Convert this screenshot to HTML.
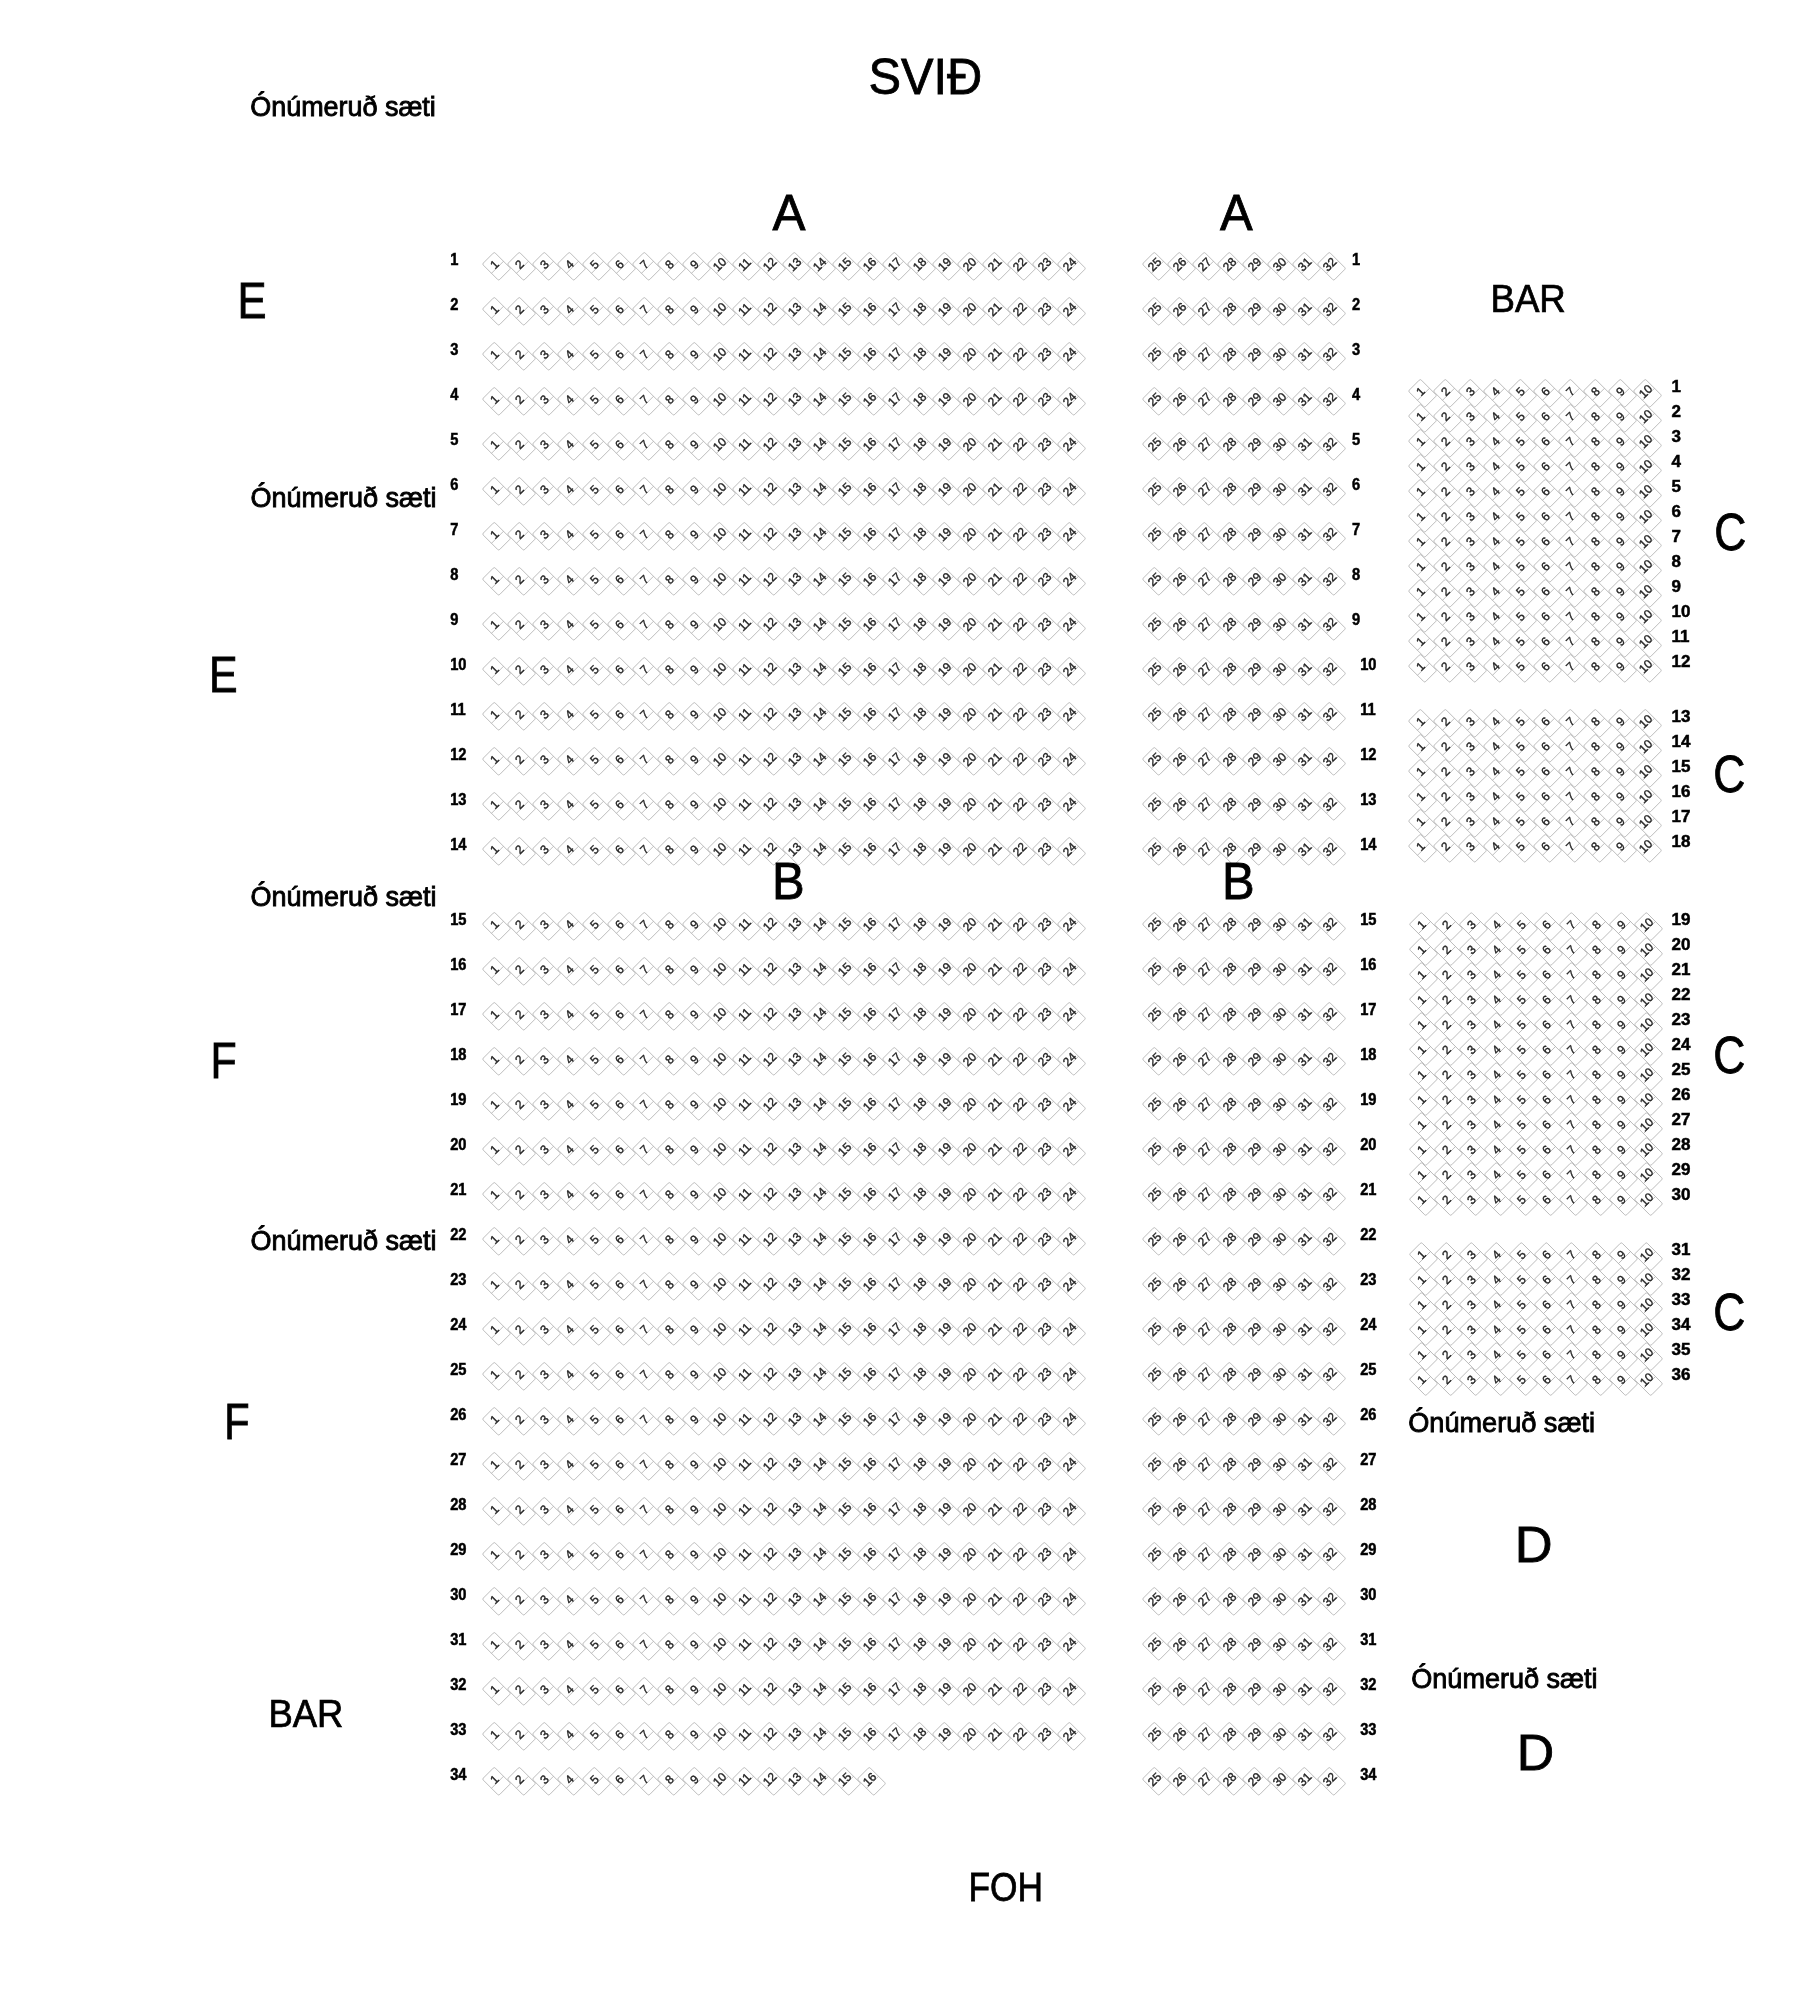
<!DOCTYPE html><html><head><meta charset="utf-8"><style>html,body{margin:0;padding:0;background:#fff;width:1820px;height:1990px;overflow:hidden}svg{position:absolute;left:0;top:0;filter:grayscale(1)}text{font-family:"Liberation Sans",sans-serif}.n{font-size:12px;fill:#222;text-anchor:middle;stroke:#222;stroke-width:0.35px}.rl{font-size:15.8px;font-weight:bold;fill:#000;stroke:#000;stroke-width:0.5px}.rc{font-size:17px;font-weight:bold;fill:#000;stroke:#000;stroke-width:0.5px}.big{font-size:49px;fill:#000;stroke:#000;stroke-width:0.8px}.bar{font-size:37px;fill:#000;stroke:#000;stroke-width:0.7px}.on{font-size:24.5px;fill:#000;stroke:#000;stroke-width:0.8px}</style></head><body>
<svg width="1820" height="1990" viewBox="0 0 1820 1990">
<defs><g id="s" transform="rotate(-45)"><rect x="-8.5" y="-11.6" width="17" height="23.2" rx="1.5" fill="#fff" stroke="#b0b0b0" stroke-width="0.8"/><line x1="-8.5" y1="1.4" x2="8.5" y2="1.4" stroke="#b0b0b0" stroke-width="0.8"/></g></defs>
<use href="#s" x="496.5" y="266.3"/><text class="n" transform="translate(496.5 266.3) rotate(-45)" x="-0.1" y="1.35">1</text><use href="#s" x="521.5" y="266.3"/><text class="n" transform="translate(521.5 266.3) rotate(-45)" x="-0.1" y="1.35">2</text><use href="#s" x="546.5" y="266.3"/><text class="n" transform="translate(546.5 266.3) rotate(-45)" x="-0.1" y="1.35">3</text><use href="#s" x="571.5" y="266.3"/><text class="n" transform="translate(571.5 266.3) rotate(-45)" x="-0.1" y="1.35">4</text><use href="#s" x="596.5" y="266.3"/><text class="n" transform="translate(596.5 266.3) rotate(-45)" x="-0.1" y="1.35">5</text><use href="#s" x="621.5" y="266.3"/><text class="n" transform="translate(621.5 266.3) rotate(-45)" x="-0.1" y="1.35">6</text><use href="#s" x="646.5" y="266.3"/><text class="n" transform="translate(646.5 266.3) rotate(-45)" x="-0.1" y="1.35">7</text><use href="#s" x="671.5" y="266.3"/><text class="n" transform="translate(671.5 266.3) rotate(-45)" x="-0.1" y="1.35">8</text><use href="#s" x="696.5" y="266.3"/><text class="n" transform="translate(696.5 266.3) rotate(-45)" x="-0.1" y="1.35">9</text><use href="#s" x="721.5" y="266.3"/><text class="n" transform="translate(721.5 266.3) rotate(-45)" x="-0.1" y="1.35">10</text><use href="#s" x="746.5" y="266.3"/><text class="n" transform="translate(746.5 266.3) rotate(-45)" x="-0.1" y="1.35">11</text><use href="#s" x="771.5" y="266.3"/><text class="n" transform="translate(771.5 266.3) rotate(-45)" x="-0.1" y="1.35">12</text><use href="#s" x="796.5" y="266.3"/><text class="n" transform="translate(796.5 266.3) rotate(-45)" x="-0.1" y="1.35">13</text><use href="#s" x="821.5" y="266.3"/><text class="n" transform="translate(821.5 266.3) rotate(-45)" x="-0.1" y="1.35">14</text><use href="#s" x="846.5" y="266.3"/><text class="n" transform="translate(846.5 266.3) rotate(-45)" x="-0.1" y="1.35">15</text><use href="#s" x="871.5" y="266.3"/><text class="n" transform="translate(871.5 266.3) rotate(-45)" x="-0.1" y="1.35">16</text><use href="#s" x="896.5" y="266.3"/><text class="n" transform="translate(896.5 266.3) rotate(-45)" x="-0.1" y="1.35">17</text><use href="#s" x="921.5" y="266.3"/><text class="n" transform="translate(921.5 266.3) rotate(-45)" x="-0.1" y="1.35">18</text><use href="#s" x="946.5" y="266.3"/><text class="n" transform="translate(946.5 266.3) rotate(-45)" x="-0.1" y="1.35">19</text><use href="#s" x="971.5" y="266.3"/><text class="n" transform="translate(971.5 266.3) rotate(-45)" x="-0.1" y="1.35">20</text><use href="#s" x="996.5" y="266.3"/><text class="n" transform="translate(996.5 266.3) rotate(-45)" x="-0.1" y="1.35">21</text><use href="#s" x="1021.5" y="266.3"/><text class="n" transform="translate(1021.5 266.3) rotate(-45)" x="-0.1" y="1.35">22</text><use href="#s" x="1046.5" y="266.3"/><text class="n" transform="translate(1046.5 266.3) rotate(-45)" x="-0.1" y="1.35">23</text><use href="#s" x="1071.5" y="266.3"/><text class="n" transform="translate(1071.5 266.3) rotate(-45)" x="-0.1" y="1.35">24</text><use href="#s" x="1156.5" y="266.3"/><text class="n" transform="translate(1156.5 266.3) rotate(-45)" x="-0.1" y="1.35">25</text><use href="#s" x="1181.5" y="266.3"/><text class="n" transform="translate(1181.5 266.3) rotate(-45)" x="-0.1" y="1.35">26</text><use href="#s" x="1206.5" y="266.3"/><text class="n" transform="translate(1206.5 266.3) rotate(-45)" x="-0.1" y="1.35">27</text><use href="#s" x="1231.5" y="266.3"/><text class="n" transform="translate(1231.5 266.3) rotate(-45)" x="-0.1" y="1.35">28</text><use href="#s" x="1256.5" y="266.3"/><text class="n" transform="translate(1256.5 266.3) rotate(-45)" x="-0.1" y="1.35">29</text><use href="#s" x="1281.5" y="266.3"/><text class="n" transform="translate(1281.5 266.3) rotate(-45)" x="-0.1" y="1.35">30</text><use href="#s" x="1306.5" y="266.3"/><text class="n" transform="translate(1306.5 266.3) rotate(-45)" x="-0.1" y="1.35">31</text><use href="#s" x="1331.5" y="266.3"/><text class="n" transform="translate(1331.5 266.3) rotate(-45)" x="-0.1" y="1.35">32</text>
<use href="#s" x="496.5" y="311.3"/><text class="n" transform="translate(496.5 311.3) rotate(-45)" x="-0.1" y="1.35">1</text><use href="#s" x="521.5" y="311.3"/><text class="n" transform="translate(521.5 311.3) rotate(-45)" x="-0.1" y="1.35">2</text><use href="#s" x="546.5" y="311.3"/><text class="n" transform="translate(546.5 311.3) rotate(-45)" x="-0.1" y="1.35">3</text><use href="#s" x="571.5" y="311.3"/><text class="n" transform="translate(571.5 311.3) rotate(-45)" x="-0.1" y="1.35">4</text><use href="#s" x="596.5" y="311.3"/><text class="n" transform="translate(596.5 311.3) rotate(-45)" x="-0.1" y="1.35">5</text><use href="#s" x="621.5" y="311.3"/><text class="n" transform="translate(621.5 311.3) rotate(-45)" x="-0.1" y="1.35">6</text><use href="#s" x="646.5" y="311.3"/><text class="n" transform="translate(646.5 311.3) rotate(-45)" x="-0.1" y="1.35">7</text><use href="#s" x="671.5" y="311.3"/><text class="n" transform="translate(671.5 311.3) rotate(-45)" x="-0.1" y="1.35">8</text><use href="#s" x="696.5" y="311.3"/><text class="n" transform="translate(696.5 311.3) rotate(-45)" x="-0.1" y="1.35">9</text><use href="#s" x="721.5" y="311.3"/><text class="n" transform="translate(721.5 311.3) rotate(-45)" x="-0.1" y="1.35">10</text><use href="#s" x="746.5" y="311.3"/><text class="n" transform="translate(746.5 311.3) rotate(-45)" x="-0.1" y="1.35">11</text><use href="#s" x="771.5" y="311.3"/><text class="n" transform="translate(771.5 311.3) rotate(-45)" x="-0.1" y="1.35">12</text><use href="#s" x="796.5" y="311.3"/><text class="n" transform="translate(796.5 311.3) rotate(-45)" x="-0.1" y="1.35">13</text><use href="#s" x="821.5" y="311.3"/><text class="n" transform="translate(821.5 311.3) rotate(-45)" x="-0.1" y="1.35">14</text><use href="#s" x="846.5" y="311.3"/><text class="n" transform="translate(846.5 311.3) rotate(-45)" x="-0.1" y="1.35">15</text><use href="#s" x="871.5" y="311.3"/><text class="n" transform="translate(871.5 311.3) rotate(-45)" x="-0.1" y="1.35">16</text><use href="#s" x="896.5" y="311.3"/><text class="n" transform="translate(896.5 311.3) rotate(-45)" x="-0.1" y="1.35">17</text><use href="#s" x="921.5" y="311.3"/><text class="n" transform="translate(921.5 311.3) rotate(-45)" x="-0.1" y="1.35">18</text><use href="#s" x="946.5" y="311.3"/><text class="n" transform="translate(946.5 311.3) rotate(-45)" x="-0.1" y="1.35">19</text><use href="#s" x="971.5" y="311.3"/><text class="n" transform="translate(971.5 311.3) rotate(-45)" x="-0.1" y="1.35">20</text><use href="#s" x="996.5" y="311.3"/><text class="n" transform="translate(996.5 311.3) rotate(-45)" x="-0.1" y="1.35">21</text><use href="#s" x="1021.5" y="311.3"/><text class="n" transform="translate(1021.5 311.3) rotate(-45)" x="-0.1" y="1.35">22</text><use href="#s" x="1046.5" y="311.3"/><text class="n" transform="translate(1046.5 311.3) rotate(-45)" x="-0.1" y="1.35">23</text><use href="#s" x="1071.5" y="311.3"/><text class="n" transform="translate(1071.5 311.3) rotate(-45)" x="-0.1" y="1.35">24</text><use href="#s" x="1156.5" y="311.3"/><text class="n" transform="translate(1156.5 311.3) rotate(-45)" x="-0.1" y="1.35">25</text><use href="#s" x="1181.5" y="311.3"/><text class="n" transform="translate(1181.5 311.3) rotate(-45)" x="-0.1" y="1.35">26</text><use href="#s" x="1206.5" y="311.3"/><text class="n" transform="translate(1206.5 311.3) rotate(-45)" x="-0.1" y="1.35">27</text><use href="#s" x="1231.5" y="311.3"/><text class="n" transform="translate(1231.5 311.3) rotate(-45)" x="-0.1" y="1.35">28</text><use href="#s" x="1256.5" y="311.3"/><text class="n" transform="translate(1256.5 311.3) rotate(-45)" x="-0.1" y="1.35">29</text><use href="#s" x="1281.5" y="311.3"/><text class="n" transform="translate(1281.5 311.3) rotate(-45)" x="-0.1" y="1.35">30</text><use href="#s" x="1306.5" y="311.3"/><text class="n" transform="translate(1306.5 311.3) rotate(-45)" x="-0.1" y="1.35">31</text><use href="#s" x="1331.5" y="311.3"/><text class="n" transform="translate(1331.5 311.3) rotate(-45)" x="-0.1" y="1.35">32</text>
<use href="#s" x="496.5" y="356.3"/><text class="n" transform="translate(496.5 356.3) rotate(-45)" x="-0.1" y="1.35">1</text><use href="#s" x="521.5" y="356.3"/><text class="n" transform="translate(521.5 356.3) rotate(-45)" x="-0.1" y="1.35">2</text><use href="#s" x="546.5" y="356.3"/><text class="n" transform="translate(546.5 356.3) rotate(-45)" x="-0.1" y="1.35">3</text><use href="#s" x="571.5" y="356.3"/><text class="n" transform="translate(571.5 356.3) rotate(-45)" x="-0.1" y="1.35">4</text><use href="#s" x="596.5" y="356.3"/><text class="n" transform="translate(596.5 356.3) rotate(-45)" x="-0.1" y="1.35">5</text><use href="#s" x="621.5" y="356.3"/><text class="n" transform="translate(621.5 356.3) rotate(-45)" x="-0.1" y="1.35">6</text><use href="#s" x="646.5" y="356.3"/><text class="n" transform="translate(646.5 356.3) rotate(-45)" x="-0.1" y="1.35">7</text><use href="#s" x="671.5" y="356.3"/><text class="n" transform="translate(671.5 356.3) rotate(-45)" x="-0.1" y="1.35">8</text><use href="#s" x="696.5" y="356.3"/><text class="n" transform="translate(696.5 356.3) rotate(-45)" x="-0.1" y="1.35">9</text><use href="#s" x="721.5" y="356.3"/><text class="n" transform="translate(721.5 356.3) rotate(-45)" x="-0.1" y="1.35">10</text><use href="#s" x="746.5" y="356.3"/><text class="n" transform="translate(746.5 356.3) rotate(-45)" x="-0.1" y="1.35">11</text><use href="#s" x="771.5" y="356.3"/><text class="n" transform="translate(771.5 356.3) rotate(-45)" x="-0.1" y="1.35">12</text><use href="#s" x="796.5" y="356.3"/><text class="n" transform="translate(796.5 356.3) rotate(-45)" x="-0.1" y="1.35">13</text><use href="#s" x="821.5" y="356.3"/><text class="n" transform="translate(821.5 356.3) rotate(-45)" x="-0.1" y="1.35">14</text><use href="#s" x="846.5" y="356.3"/><text class="n" transform="translate(846.5 356.3) rotate(-45)" x="-0.1" y="1.35">15</text><use href="#s" x="871.5" y="356.3"/><text class="n" transform="translate(871.5 356.3) rotate(-45)" x="-0.1" y="1.35">16</text><use href="#s" x="896.5" y="356.3"/><text class="n" transform="translate(896.5 356.3) rotate(-45)" x="-0.1" y="1.35">17</text><use href="#s" x="921.5" y="356.3"/><text class="n" transform="translate(921.5 356.3) rotate(-45)" x="-0.1" y="1.35">18</text><use href="#s" x="946.5" y="356.3"/><text class="n" transform="translate(946.5 356.3) rotate(-45)" x="-0.1" y="1.35">19</text><use href="#s" x="971.5" y="356.3"/><text class="n" transform="translate(971.5 356.3) rotate(-45)" x="-0.1" y="1.35">20</text><use href="#s" x="996.5" y="356.3"/><text class="n" transform="translate(996.5 356.3) rotate(-45)" x="-0.1" y="1.35">21</text><use href="#s" x="1021.5" y="356.3"/><text class="n" transform="translate(1021.5 356.3) rotate(-45)" x="-0.1" y="1.35">22</text><use href="#s" x="1046.5" y="356.3"/><text class="n" transform="translate(1046.5 356.3) rotate(-45)" x="-0.1" y="1.35">23</text><use href="#s" x="1071.5" y="356.3"/><text class="n" transform="translate(1071.5 356.3) rotate(-45)" x="-0.1" y="1.35">24</text><use href="#s" x="1156.5" y="356.3"/><text class="n" transform="translate(1156.5 356.3) rotate(-45)" x="-0.1" y="1.35">25</text><use href="#s" x="1181.5" y="356.3"/><text class="n" transform="translate(1181.5 356.3) rotate(-45)" x="-0.1" y="1.35">26</text><use href="#s" x="1206.5" y="356.3"/><text class="n" transform="translate(1206.5 356.3) rotate(-45)" x="-0.1" y="1.35">27</text><use href="#s" x="1231.5" y="356.3"/><text class="n" transform="translate(1231.5 356.3) rotate(-45)" x="-0.1" y="1.35">28</text><use href="#s" x="1256.5" y="356.3"/><text class="n" transform="translate(1256.5 356.3) rotate(-45)" x="-0.1" y="1.35">29</text><use href="#s" x="1281.5" y="356.3"/><text class="n" transform="translate(1281.5 356.3) rotate(-45)" x="-0.1" y="1.35">30</text><use href="#s" x="1306.5" y="356.3"/><text class="n" transform="translate(1306.5 356.3) rotate(-45)" x="-0.1" y="1.35">31</text><use href="#s" x="1331.5" y="356.3"/><text class="n" transform="translate(1331.5 356.3) rotate(-45)" x="-0.1" y="1.35">32</text>
<use href="#s" x="496.5" y="401.3"/><text class="n" transform="translate(496.5 401.3) rotate(-45)" x="-0.1" y="1.35">1</text><use href="#s" x="521.5" y="401.3"/><text class="n" transform="translate(521.5 401.3) rotate(-45)" x="-0.1" y="1.35">2</text><use href="#s" x="546.5" y="401.3"/><text class="n" transform="translate(546.5 401.3) rotate(-45)" x="-0.1" y="1.35">3</text><use href="#s" x="571.5" y="401.3"/><text class="n" transform="translate(571.5 401.3) rotate(-45)" x="-0.1" y="1.35">4</text><use href="#s" x="596.5" y="401.3"/><text class="n" transform="translate(596.5 401.3) rotate(-45)" x="-0.1" y="1.35">5</text><use href="#s" x="621.5" y="401.3"/><text class="n" transform="translate(621.5 401.3) rotate(-45)" x="-0.1" y="1.35">6</text><use href="#s" x="646.5" y="401.3"/><text class="n" transform="translate(646.5 401.3) rotate(-45)" x="-0.1" y="1.35">7</text><use href="#s" x="671.5" y="401.3"/><text class="n" transform="translate(671.5 401.3) rotate(-45)" x="-0.1" y="1.35">8</text><use href="#s" x="696.5" y="401.3"/><text class="n" transform="translate(696.5 401.3) rotate(-45)" x="-0.1" y="1.35">9</text><use href="#s" x="721.5" y="401.3"/><text class="n" transform="translate(721.5 401.3) rotate(-45)" x="-0.1" y="1.35">10</text><use href="#s" x="746.5" y="401.3"/><text class="n" transform="translate(746.5 401.3) rotate(-45)" x="-0.1" y="1.35">11</text><use href="#s" x="771.5" y="401.3"/><text class="n" transform="translate(771.5 401.3) rotate(-45)" x="-0.1" y="1.35">12</text><use href="#s" x="796.5" y="401.3"/><text class="n" transform="translate(796.5 401.3) rotate(-45)" x="-0.1" y="1.35">13</text><use href="#s" x="821.5" y="401.3"/><text class="n" transform="translate(821.5 401.3) rotate(-45)" x="-0.1" y="1.35">14</text><use href="#s" x="846.5" y="401.3"/><text class="n" transform="translate(846.5 401.3) rotate(-45)" x="-0.1" y="1.35">15</text><use href="#s" x="871.5" y="401.3"/><text class="n" transform="translate(871.5 401.3) rotate(-45)" x="-0.1" y="1.35">16</text><use href="#s" x="896.5" y="401.3"/><text class="n" transform="translate(896.5 401.3) rotate(-45)" x="-0.1" y="1.35">17</text><use href="#s" x="921.5" y="401.3"/><text class="n" transform="translate(921.5 401.3) rotate(-45)" x="-0.1" y="1.35">18</text><use href="#s" x="946.5" y="401.3"/><text class="n" transform="translate(946.5 401.3) rotate(-45)" x="-0.1" y="1.35">19</text><use href="#s" x="971.5" y="401.3"/><text class="n" transform="translate(971.5 401.3) rotate(-45)" x="-0.1" y="1.35">20</text><use href="#s" x="996.5" y="401.3"/><text class="n" transform="translate(996.5 401.3) rotate(-45)" x="-0.1" y="1.35">21</text><use href="#s" x="1021.5" y="401.3"/><text class="n" transform="translate(1021.5 401.3) rotate(-45)" x="-0.1" y="1.35">22</text><use href="#s" x="1046.5" y="401.3"/><text class="n" transform="translate(1046.5 401.3) rotate(-45)" x="-0.1" y="1.35">23</text><use href="#s" x="1071.5" y="401.3"/><text class="n" transform="translate(1071.5 401.3) rotate(-45)" x="-0.1" y="1.35">24</text><use href="#s" x="1156.5" y="401.3"/><text class="n" transform="translate(1156.5 401.3) rotate(-45)" x="-0.1" y="1.35">25</text><use href="#s" x="1181.5" y="401.3"/><text class="n" transform="translate(1181.5 401.3) rotate(-45)" x="-0.1" y="1.35">26</text><use href="#s" x="1206.5" y="401.3"/><text class="n" transform="translate(1206.5 401.3) rotate(-45)" x="-0.1" y="1.35">27</text><use href="#s" x="1231.5" y="401.3"/><text class="n" transform="translate(1231.5 401.3) rotate(-45)" x="-0.1" y="1.35">28</text><use href="#s" x="1256.5" y="401.3"/><text class="n" transform="translate(1256.5 401.3) rotate(-45)" x="-0.1" y="1.35">29</text><use href="#s" x="1281.5" y="401.3"/><text class="n" transform="translate(1281.5 401.3) rotate(-45)" x="-0.1" y="1.35">30</text><use href="#s" x="1306.5" y="401.3"/><text class="n" transform="translate(1306.5 401.3) rotate(-45)" x="-0.1" y="1.35">31</text><use href="#s" x="1331.5" y="401.3"/><text class="n" transform="translate(1331.5 401.3) rotate(-45)" x="-0.1" y="1.35">32</text>
<use href="#s" x="496.5" y="446.3"/><text class="n" transform="translate(496.5 446.3) rotate(-45)" x="-0.1" y="1.35">1</text><use href="#s" x="521.5" y="446.3"/><text class="n" transform="translate(521.5 446.3) rotate(-45)" x="-0.1" y="1.35">2</text><use href="#s" x="546.5" y="446.3"/><text class="n" transform="translate(546.5 446.3) rotate(-45)" x="-0.1" y="1.35">3</text><use href="#s" x="571.5" y="446.3"/><text class="n" transform="translate(571.5 446.3) rotate(-45)" x="-0.1" y="1.35">4</text><use href="#s" x="596.5" y="446.3"/><text class="n" transform="translate(596.5 446.3) rotate(-45)" x="-0.1" y="1.35">5</text><use href="#s" x="621.5" y="446.3"/><text class="n" transform="translate(621.5 446.3) rotate(-45)" x="-0.1" y="1.35">6</text><use href="#s" x="646.5" y="446.3"/><text class="n" transform="translate(646.5 446.3) rotate(-45)" x="-0.1" y="1.35">7</text><use href="#s" x="671.5" y="446.3"/><text class="n" transform="translate(671.5 446.3) rotate(-45)" x="-0.1" y="1.35">8</text><use href="#s" x="696.5" y="446.3"/><text class="n" transform="translate(696.5 446.3) rotate(-45)" x="-0.1" y="1.35">9</text><use href="#s" x="721.5" y="446.3"/><text class="n" transform="translate(721.5 446.3) rotate(-45)" x="-0.1" y="1.35">10</text><use href="#s" x="746.5" y="446.3"/><text class="n" transform="translate(746.5 446.3) rotate(-45)" x="-0.1" y="1.35">11</text><use href="#s" x="771.5" y="446.3"/><text class="n" transform="translate(771.5 446.3) rotate(-45)" x="-0.1" y="1.35">12</text><use href="#s" x="796.5" y="446.3"/><text class="n" transform="translate(796.5 446.3) rotate(-45)" x="-0.1" y="1.35">13</text><use href="#s" x="821.5" y="446.3"/><text class="n" transform="translate(821.5 446.3) rotate(-45)" x="-0.1" y="1.35">14</text><use href="#s" x="846.5" y="446.3"/><text class="n" transform="translate(846.5 446.3) rotate(-45)" x="-0.1" y="1.35">15</text><use href="#s" x="871.5" y="446.3"/><text class="n" transform="translate(871.5 446.3) rotate(-45)" x="-0.1" y="1.35">16</text><use href="#s" x="896.5" y="446.3"/><text class="n" transform="translate(896.5 446.3) rotate(-45)" x="-0.1" y="1.35">17</text><use href="#s" x="921.5" y="446.3"/><text class="n" transform="translate(921.5 446.3) rotate(-45)" x="-0.1" y="1.35">18</text><use href="#s" x="946.5" y="446.3"/><text class="n" transform="translate(946.5 446.3) rotate(-45)" x="-0.1" y="1.35">19</text><use href="#s" x="971.5" y="446.3"/><text class="n" transform="translate(971.5 446.3) rotate(-45)" x="-0.1" y="1.35">20</text><use href="#s" x="996.5" y="446.3"/><text class="n" transform="translate(996.5 446.3) rotate(-45)" x="-0.1" y="1.35">21</text><use href="#s" x="1021.5" y="446.3"/><text class="n" transform="translate(1021.5 446.3) rotate(-45)" x="-0.1" y="1.35">22</text><use href="#s" x="1046.5" y="446.3"/><text class="n" transform="translate(1046.5 446.3) rotate(-45)" x="-0.1" y="1.35">23</text><use href="#s" x="1071.5" y="446.3"/><text class="n" transform="translate(1071.5 446.3) rotate(-45)" x="-0.1" y="1.35">24</text><use href="#s" x="1156.5" y="446.3"/><text class="n" transform="translate(1156.5 446.3) rotate(-45)" x="-0.1" y="1.35">25</text><use href="#s" x="1181.5" y="446.3"/><text class="n" transform="translate(1181.5 446.3) rotate(-45)" x="-0.1" y="1.35">26</text><use href="#s" x="1206.5" y="446.3"/><text class="n" transform="translate(1206.5 446.3) rotate(-45)" x="-0.1" y="1.35">27</text><use href="#s" x="1231.5" y="446.3"/><text class="n" transform="translate(1231.5 446.3) rotate(-45)" x="-0.1" y="1.35">28</text><use href="#s" x="1256.5" y="446.3"/><text class="n" transform="translate(1256.5 446.3) rotate(-45)" x="-0.1" y="1.35">29</text><use href="#s" x="1281.5" y="446.3"/><text class="n" transform="translate(1281.5 446.3) rotate(-45)" x="-0.1" y="1.35">30</text><use href="#s" x="1306.5" y="446.3"/><text class="n" transform="translate(1306.5 446.3) rotate(-45)" x="-0.1" y="1.35">31</text><use href="#s" x="1331.5" y="446.3"/><text class="n" transform="translate(1331.5 446.3) rotate(-45)" x="-0.1" y="1.35">32</text>
<use href="#s" x="496.5" y="491.3"/><text class="n" transform="translate(496.5 491.3) rotate(-45)" x="-0.1" y="1.35">1</text><use href="#s" x="521.5" y="491.3"/><text class="n" transform="translate(521.5 491.3) rotate(-45)" x="-0.1" y="1.35">2</text><use href="#s" x="546.5" y="491.3"/><text class="n" transform="translate(546.5 491.3) rotate(-45)" x="-0.1" y="1.35">3</text><use href="#s" x="571.5" y="491.3"/><text class="n" transform="translate(571.5 491.3) rotate(-45)" x="-0.1" y="1.35">4</text><use href="#s" x="596.5" y="491.3"/><text class="n" transform="translate(596.5 491.3) rotate(-45)" x="-0.1" y="1.35">5</text><use href="#s" x="621.5" y="491.3"/><text class="n" transform="translate(621.5 491.3) rotate(-45)" x="-0.1" y="1.35">6</text><use href="#s" x="646.5" y="491.3"/><text class="n" transform="translate(646.5 491.3) rotate(-45)" x="-0.1" y="1.35">7</text><use href="#s" x="671.5" y="491.3"/><text class="n" transform="translate(671.5 491.3) rotate(-45)" x="-0.1" y="1.35">8</text><use href="#s" x="696.5" y="491.3"/><text class="n" transform="translate(696.5 491.3) rotate(-45)" x="-0.1" y="1.35">9</text><use href="#s" x="721.5" y="491.3"/><text class="n" transform="translate(721.5 491.3) rotate(-45)" x="-0.1" y="1.35">10</text><use href="#s" x="746.5" y="491.3"/><text class="n" transform="translate(746.5 491.3) rotate(-45)" x="-0.1" y="1.35">11</text><use href="#s" x="771.5" y="491.3"/><text class="n" transform="translate(771.5 491.3) rotate(-45)" x="-0.1" y="1.35">12</text><use href="#s" x="796.5" y="491.3"/><text class="n" transform="translate(796.5 491.3) rotate(-45)" x="-0.1" y="1.35">13</text><use href="#s" x="821.5" y="491.3"/><text class="n" transform="translate(821.5 491.3) rotate(-45)" x="-0.1" y="1.35">14</text><use href="#s" x="846.5" y="491.3"/><text class="n" transform="translate(846.5 491.3) rotate(-45)" x="-0.1" y="1.35">15</text><use href="#s" x="871.5" y="491.3"/><text class="n" transform="translate(871.5 491.3) rotate(-45)" x="-0.1" y="1.35">16</text><use href="#s" x="896.5" y="491.3"/><text class="n" transform="translate(896.5 491.3) rotate(-45)" x="-0.1" y="1.35">17</text><use href="#s" x="921.5" y="491.3"/><text class="n" transform="translate(921.5 491.3) rotate(-45)" x="-0.1" y="1.35">18</text><use href="#s" x="946.5" y="491.3"/><text class="n" transform="translate(946.5 491.3) rotate(-45)" x="-0.1" y="1.35">19</text><use href="#s" x="971.5" y="491.3"/><text class="n" transform="translate(971.5 491.3) rotate(-45)" x="-0.1" y="1.35">20</text><use href="#s" x="996.5" y="491.3"/><text class="n" transform="translate(996.5 491.3) rotate(-45)" x="-0.1" y="1.35">21</text><use href="#s" x="1021.5" y="491.3"/><text class="n" transform="translate(1021.5 491.3) rotate(-45)" x="-0.1" y="1.35">22</text><use href="#s" x="1046.5" y="491.3"/><text class="n" transform="translate(1046.5 491.3) rotate(-45)" x="-0.1" y="1.35">23</text><use href="#s" x="1071.5" y="491.3"/><text class="n" transform="translate(1071.5 491.3) rotate(-45)" x="-0.1" y="1.35">24</text><use href="#s" x="1156.5" y="491.3"/><text class="n" transform="translate(1156.5 491.3) rotate(-45)" x="-0.1" y="1.35">25</text><use href="#s" x="1181.5" y="491.3"/><text class="n" transform="translate(1181.5 491.3) rotate(-45)" x="-0.1" y="1.35">26</text><use href="#s" x="1206.5" y="491.3"/><text class="n" transform="translate(1206.5 491.3) rotate(-45)" x="-0.1" y="1.35">27</text><use href="#s" x="1231.5" y="491.3"/><text class="n" transform="translate(1231.5 491.3) rotate(-45)" x="-0.1" y="1.35">28</text><use href="#s" x="1256.5" y="491.3"/><text class="n" transform="translate(1256.5 491.3) rotate(-45)" x="-0.1" y="1.35">29</text><use href="#s" x="1281.5" y="491.3"/><text class="n" transform="translate(1281.5 491.3) rotate(-45)" x="-0.1" y="1.35">30</text><use href="#s" x="1306.5" y="491.3"/><text class="n" transform="translate(1306.5 491.3) rotate(-45)" x="-0.1" y="1.35">31</text><use href="#s" x="1331.5" y="491.3"/><text class="n" transform="translate(1331.5 491.3) rotate(-45)" x="-0.1" y="1.35">32</text>
<use href="#s" x="496.5" y="536.3"/><text class="n" transform="translate(496.5 536.3) rotate(-45)" x="-0.1" y="1.35">1</text><use href="#s" x="521.5" y="536.3"/><text class="n" transform="translate(521.5 536.3) rotate(-45)" x="-0.1" y="1.35">2</text><use href="#s" x="546.5" y="536.3"/><text class="n" transform="translate(546.5 536.3) rotate(-45)" x="-0.1" y="1.35">3</text><use href="#s" x="571.5" y="536.3"/><text class="n" transform="translate(571.5 536.3) rotate(-45)" x="-0.1" y="1.35">4</text><use href="#s" x="596.5" y="536.3"/><text class="n" transform="translate(596.5 536.3) rotate(-45)" x="-0.1" y="1.35">5</text><use href="#s" x="621.5" y="536.3"/><text class="n" transform="translate(621.5 536.3) rotate(-45)" x="-0.1" y="1.35">6</text><use href="#s" x="646.5" y="536.3"/><text class="n" transform="translate(646.5 536.3) rotate(-45)" x="-0.1" y="1.35">7</text><use href="#s" x="671.5" y="536.3"/><text class="n" transform="translate(671.5 536.3) rotate(-45)" x="-0.1" y="1.35">8</text><use href="#s" x="696.5" y="536.3"/><text class="n" transform="translate(696.5 536.3) rotate(-45)" x="-0.1" y="1.35">9</text><use href="#s" x="721.5" y="536.3"/><text class="n" transform="translate(721.5 536.3) rotate(-45)" x="-0.1" y="1.35">10</text><use href="#s" x="746.5" y="536.3"/><text class="n" transform="translate(746.5 536.3) rotate(-45)" x="-0.1" y="1.35">11</text><use href="#s" x="771.5" y="536.3"/><text class="n" transform="translate(771.5 536.3) rotate(-45)" x="-0.1" y="1.35">12</text><use href="#s" x="796.5" y="536.3"/><text class="n" transform="translate(796.5 536.3) rotate(-45)" x="-0.1" y="1.35">13</text><use href="#s" x="821.5" y="536.3"/><text class="n" transform="translate(821.5 536.3) rotate(-45)" x="-0.1" y="1.35">14</text><use href="#s" x="846.5" y="536.3"/><text class="n" transform="translate(846.5 536.3) rotate(-45)" x="-0.1" y="1.35">15</text><use href="#s" x="871.5" y="536.3"/><text class="n" transform="translate(871.5 536.3) rotate(-45)" x="-0.1" y="1.35">16</text><use href="#s" x="896.5" y="536.3"/><text class="n" transform="translate(896.5 536.3) rotate(-45)" x="-0.1" y="1.35">17</text><use href="#s" x="921.5" y="536.3"/><text class="n" transform="translate(921.5 536.3) rotate(-45)" x="-0.1" y="1.35">18</text><use href="#s" x="946.5" y="536.3"/><text class="n" transform="translate(946.5 536.3) rotate(-45)" x="-0.1" y="1.35">19</text><use href="#s" x="971.5" y="536.3"/><text class="n" transform="translate(971.5 536.3) rotate(-45)" x="-0.1" y="1.35">20</text><use href="#s" x="996.5" y="536.3"/><text class="n" transform="translate(996.5 536.3) rotate(-45)" x="-0.1" y="1.35">21</text><use href="#s" x="1021.5" y="536.3"/><text class="n" transform="translate(1021.5 536.3) rotate(-45)" x="-0.1" y="1.35">22</text><use href="#s" x="1046.5" y="536.3"/><text class="n" transform="translate(1046.5 536.3) rotate(-45)" x="-0.1" y="1.35">23</text><use href="#s" x="1071.5" y="536.3"/><text class="n" transform="translate(1071.5 536.3) rotate(-45)" x="-0.1" y="1.35">24</text><use href="#s" x="1156.5" y="536.3"/><text class="n" transform="translate(1156.5 536.3) rotate(-45)" x="-0.1" y="1.35">25</text><use href="#s" x="1181.5" y="536.3"/><text class="n" transform="translate(1181.5 536.3) rotate(-45)" x="-0.1" y="1.35">26</text><use href="#s" x="1206.5" y="536.3"/><text class="n" transform="translate(1206.5 536.3) rotate(-45)" x="-0.1" y="1.35">27</text><use href="#s" x="1231.5" y="536.3"/><text class="n" transform="translate(1231.5 536.3) rotate(-45)" x="-0.1" y="1.35">28</text><use href="#s" x="1256.5" y="536.3"/><text class="n" transform="translate(1256.5 536.3) rotate(-45)" x="-0.1" y="1.35">29</text><use href="#s" x="1281.5" y="536.3"/><text class="n" transform="translate(1281.5 536.3) rotate(-45)" x="-0.1" y="1.35">30</text><use href="#s" x="1306.5" y="536.3"/><text class="n" transform="translate(1306.5 536.3) rotate(-45)" x="-0.1" y="1.35">31</text><use href="#s" x="1331.5" y="536.3"/><text class="n" transform="translate(1331.5 536.3) rotate(-45)" x="-0.1" y="1.35">32</text>
<use href="#s" x="496.5" y="581.3"/><text class="n" transform="translate(496.5 581.3) rotate(-45)" x="-0.1" y="1.35">1</text><use href="#s" x="521.5" y="581.3"/><text class="n" transform="translate(521.5 581.3) rotate(-45)" x="-0.1" y="1.35">2</text><use href="#s" x="546.5" y="581.3"/><text class="n" transform="translate(546.5 581.3) rotate(-45)" x="-0.1" y="1.35">3</text><use href="#s" x="571.5" y="581.3"/><text class="n" transform="translate(571.5 581.3) rotate(-45)" x="-0.1" y="1.35">4</text><use href="#s" x="596.5" y="581.3"/><text class="n" transform="translate(596.5 581.3) rotate(-45)" x="-0.1" y="1.35">5</text><use href="#s" x="621.5" y="581.3"/><text class="n" transform="translate(621.5 581.3) rotate(-45)" x="-0.1" y="1.35">6</text><use href="#s" x="646.5" y="581.3"/><text class="n" transform="translate(646.5 581.3) rotate(-45)" x="-0.1" y="1.35">7</text><use href="#s" x="671.5" y="581.3"/><text class="n" transform="translate(671.5 581.3) rotate(-45)" x="-0.1" y="1.35">8</text><use href="#s" x="696.5" y="581.3"/><text class="n" transform="translate(696.5 581.3) rotate(-45)" x="-0.1" y="1.35">9</text><use href="#s" x="721.5" y="581.3"/><text class="n" transform="translate(721.5 581.3) rotate(-45)" x="-0.1" y="1.35">10</text><use href="#s" x="746.5" y="581.3"/><text class="n" transform="translate(746.5 581.3) rotate(-45)" x="-0.1" y="1.35">11</text><use href="#s" x="771.5" y="581.3"/><text class="n" transform="translate(771.5 581.3) rotate(-45)" x="-0.1" y="1.35">12</text><use href="#s" x="796.5" y="581.3"/><text class="n" transform="translate(796.5 581.3) rotate(-45)" x="-0.1" y="1.35">13</text><use href="#s" x="821.5" y="581.3"/><text class="n" transform="translate(821.5 581.3) rotate(-45)" x="-0.1" y="1.35">14</text><use href="#s" x="846.5" y="581.3"/><text class="n" transform="translate(846.5 581.3) rotate(-45)" x="-0.1" y="1.35">15</text><use href="#s" x="871.5" y="581.3"/><text class="n" transform="translate(871.5 581.3) rotate(-45)" x="-0.1" y="1.35">16</text><use href="#s" x="896.5" y="581.3"/><text class="n" transform="translate(896.5 581.3) rotate(-45)" x="-0.1" y="1.35">17</text><use href="#s" x="921.5" y="581.3"/><text class="n" transform="translate(921.5 581.3) rotate(-45)" x="-0.1" y="1.35">18</text><use href="#s" x="946.5" y="581.3"/><text class="n" transform="translate(946.5 581.3) rotate(-45)" x="-0.1" y="1.35">19</text><use href="#s" x="971.5" y="581.3"/><text class="n" transform="translate(971.5 581.3) rotate(-45)" x="-0.1" y="1.35">20</text><use href="#s" x="996.5" y="581.3"/><text class="n" transform="translate(996.5 581.3) rotate(-45)" x="-0.1" y="1.35">21</text><use href="#s" x="1021.5" y="581.3"/><text class="n" transform="translate(1021.5 581.3) rotate(-45)" x="-0.1" y="1.35">22</text><use href="#s" x="1046.5" y="581.3"/><text class="n" transform="translate(1046.5 581.3) rotate(-45)" x="-0.1" y="1.35">23</text><use href="#s" x="1071.5" y="581.3"/><text class="n" transform="translate(1071.5 581.3) rotate(-45)" x="-0.1" y="1.35">24</text><use href="#s" x="1156.5" y="581.3"/><text class="n" transform="translate(1156.5 581.3) rotate(-45)" x="-0.1" y="1.35">25</text><use href="#s" x="1181.5" y="581.3"/><text class="n" transform="translate(1181.5 581.3) rotate(-45)" x="-0.1" y="1.35">26</text><use href="#s" x="1206.5" y="581.3"/><text class="n" transform="translate(1206.5 581.3) rotate(-45)" x="-0.1" y="1.35">27</text><use href="#s" x="1231.5" y="581.3"/><text class="n" transform="translate(1231.5 581.3) rotate(-45)" x="-0.1" y="1.35">28</text><use href="#s" x="1256.5" y="581.3"/><text class="n" transform="translate(1256.5 581.3) rotate(-45)" x="-0.1" y="1.35">29</text><use href="#s" x="1281.5" y="581.3"/><text class="n" transform="translate(1281.5 581.3) rotate(-45)" x="-0.1" y="1.35">30</text><use href="#s" x="1306.5" y="581.3"/><text class="n" transform="translate(1306.5 581.3) rotate(-45)" x="-0.1" y="1.35">31</text><use href="#s" x="1331.5" y="581.3"/><text class="n" transform="translate(1331.5 581.3) rotate(-45)" x="-0.1" y="1.35">32</text>
<use href="#s" x="496.5" y="626.3"/><text class="n" transform="translate(496.5 626.3) rotate(-45)" x="-0.1" y="1.35">1</text><use href="#s" x="521.5" y="626.3"/><text class="n" transform="translate(521.5 626.3) rotate(-45)" x="-0.1" y="1.35">2</text><use href="#s" x="546.5" y="626.3"/><text class="n" transform="translate(546.5 626.3) rotate(-45)" x="-0.1" y="1.35">3</text><use href="#s" x="571.5" y="626.3"/><text class="n" transform="translate(571.5 626.3) rotate(-45)" x="-0.1" y="1.35">4</text><use href="#s" x="596.5" y="626.3"/><text class="n" transform="translate(596.5 626.3) rotate(-45)" x="-0.1" y="1.35">5</text><use href="#s" x="621.5" y="626.3"/><text class="n" transform="translate(621.5 626.3) rotate(-45)" x="-0.1" y="1.35">6</text><use href="#s" x="646.5" y="626.3"/><text class="n" transform="translate(646.5 626.3) rotate(-45)" x="-0.1" y="1.35">7</text><use href="#s" x="671.5" y="626.3"/><text class="n" transform="translate(671.5 626.3) rotate(-45)" x="-0.1" y="1.35">8</text><use href="#s" x="696.5" y="626.3"/><text class="n" transform="translate(696.5 626.3) rotate(-45)" x="-0.1" y="1.35">9</text><use href="#s" x="721.5" y="626.3"/><text class="n" transform="translate(721.5 626.3) rotate(-45)" x="-0.1" y="1.35">10</text><use href="#s" x="746.5" y="626.3"/><text class="n" transform="translate(746.5 626.3) rotate(-45)" x="-0.1" y="1.35">11</text><use href="#s" x="771.5" y="626.3"/><text class="n" transform="translate(771.5 626.3) rotate(-45)" x="-0.1" y="1.35">12</text><use href="#s" x="796.5" y="626.3"/><text class="n" transform="translate(796.5 626.3) rotate(-45)" x="-0.1" y="1.35">13</text><use href="#s" x="821.5" y="626.3"/><text class="n" transform="translate(821.5 626.3) rotate(-45)" x="-0.1" y="1.35">14</text><use href="#s" x="846.5" y="626.3"/><text class="n" transform="translate(846.5 626.3) rotate(-45)" x="-0.1" y="1.35">15</text><use href="#s" x="871.5" y="626.3"/><text class="n" transform="translate(871.5 626.3) rotate(-45)" x="-0.1" y="1.35">16</text><use href="#s" x="896.5" y="626.3"/><text class="n" transform="translate(896.5 626.3) rotate(-45)" x="-0.1" y="1.35">17</text><use href="#s" x="921.5" y="626.3"/><text class="n" transform="translate(921.5 626.3) rotate(-45)" x="-0.1" y="1.35">18</text><use href="#s" x="946.5" y="626.3"/><text class="n" transform="translate(946.5 626.3) rotate(-45)" x="-0.1" y="1.35">19</text><use href="#s" x="971.5" y="626.3"/><text class="n" transform="translate(971.5 626.3) rotate(-45)" x="-0.1" y="1.35">20</text><use href="#s" x="996.5" y="626.3"/><text class="n" transform="translate(996.5 626.3) rotate(-45)" x="-0.1" y="1.35">21</text><use href="#s" x="1021.5" y="626.3"/><text class="n" transform="translate(1021.5 626.3) rotate(-45)" x="-0.1" y="1.35">22</text><use href="#s" x="1046.5" y="626.3"/><text class="n" transform="translate(1046.5 626.3) rotate(-45)" x="-0.1" y="1.35">23</text><use href="#s" x="1071.5" y="626.3"/><text class="n" transform="translate(1071.5 626.3) rotate(-45)" x="-0.1" y="1.35">24</text><use href="#s" x="1156.5" y="626.3"/><text class="n" transform="translate(1156.5 626.3) rotate(-45)" x="-0.1" y="1.35">25</text><use href="#s" x="1181.5" y="626.3"/><text class="n" transform="translate(1181.5 626.3) rotate(-45)" x="-0.1" y="1.35">26</text><use href="#s" x="1206.5" y="626.3"/><text class="n" transform="translate(1206.5 626.3) rotate(-45)" x="-0.1" y="1.35">27</text><use href="#s" x="1231.5" y="626.3"/><text class="n" transform="translate(1231.5 626.3) rotate(-45)" x="-0.1" y="1.35">28</text><use href="#s" x="1256.5" y="626.3"/><text class="n" transform="translate(1256.5 626.3) rotate(-45)" x="-0.1" y="1.35">29</text><use href="#s" x="1281.5" y="626.3"/><text class="n" transform="translate(1281.5 626.3) rotate(-45)" x="-0.1" y="1.35">30</text><use href="#s" x="1306.5" y="626.3"/><text class="n" transform="translate(1306.5 626.3) rotate(-45)" x="-0.1" y="1.35">31</text><use href="#s" x="1331.5" y="626.3"/><text class="n" transform="translate(1331.5 626.3) rotate(-45)" x="-0.1" y="1.35">32</text>
<use href="#s" x="496.5" y="671.3"/><text class="n" transform="translate(496.5 671.3) rotate(-45)" x="-0.1" y="1.35">1</text><use href="#s" x="521.5" y="671.3"/><text class="n" transform="translate(521.5 671.3) rotate(-45)" x="-0.1" y="1.35">2</text><use href="#s" x="546.5" y="671.3"/><text class="n" transform="translate(546.5 671.3) rotate(-45)" x="-0.1" y="1.35">3</text><use href="#s" x="571.5" y="671.3"/><text class="n" transform="translate(571.5 671.3) rotate(-45)" x="-0.1" y="1.35">4</text><use href="#s" x="596.5" y="671.3"/><text class="n" transform="translate(596.5 671.3) rotate(-45)" x="-0.1" y="1.35">5</text><use href="#s" x="621.5" y="671.3"/><text class="n" transform="translate(621.5 671.3) rotate(-45)" x="-0.1" y="1.35">6</text><use href="#s" x="646.5" y="671.3"/><text class="n" transform="translate(646.5 671.3) rotate(-45)" x="-0.1" y="1.35">7</text><use href="#s" x="671.5" y="671.3"/><text class="n" transform="translate(671.5 671.3) rotate(-45)" x="-0.1" y="1.35">8</text><use href="#s" x="696.5" y="671.3"/><text class="n" transform="translate(696.5 671.3) rotate(-45)" x="-0.1" y="1.35">9</text><use href="#s" x="721.5" y="671.3"/><text class="n" transform="translate(721.5 671.3) rotate(-45)" x="-0.1" y="1.35">10</text><use href="#s" x="746.5" y="671.3"/><text class="n" transform="translate(746.5 671.3) rotate(-45)" x="-0.1" y="1.35">11</text><use href="#s" x="771.5" y="671.3"/><text class="n" transform="translate(771.5 671.3) rotate(-45)" x="-0.1" y="1.35">12</text><use href="#s" x="796.5" y="671.3"/><text class="n" transform="translate(796.5 671.3) rotate(-45)" x="-0.1" y="1.35">13</text><use href="#s" x="821.5" y="671.3"/><text class="n" transform="translate(821.5 671.3) rotate(-45)" x="-0.1" y="1.35">14</text><use href="#s" x="846.5" y="671.3"/><text class="n" transform="translate(846.5 671.3) rotate(-45)" x="-0.1" y="1.35">15</text><use href="#s" x="871.5" y="671.3"/><text class="n" transform="translate(871.5 671.3) rotate(-45)" x="-0.1" y="1.35">16</text><use href="#s" x="896.5" y="671.3"/><text class="n" transform="translate(896.5 671.3) rotate(-45)" x="-0.1" y="1.35">17</text><use href="#s" x="921.5" y="671.3"/><text class="n" transform="translate(921.5 671.3) rotate(-45)" x="-0.1" y="1.35">18</text><use href="#s" x="946.5" y="671.3"/><text class="n" transform="translate(946.5 671.3) rotate(-45)" x="-0.1" y="1.35">19</text><use href="#s" x="971.5" y="671.3"/><text class="n" transform="translate(971.5 671.3) rotate(-45)" x="-0.1" y="1.35">20</text><use href="#s" x="996.5" y="671.3"/><text class="n" transform="translate(996.5 671.3) rotate(-45)" x="-0.1" y="1.35">21</text><use href="#s" x="1021.5" y="671.3"/><text class="n" transform="translate(1021.5 671.3) rotate(-45)" x="-0.1" y="1.35">22</text><use href="#s" x="1046.5" y="671.3"/><text class="n" transform="translate(1046.5 671.3) rotate(-45)" x="-0.1" y="1.35">23</text><use href="#s" x="1071.5" y="671.3"/><text class="n" transform="translate(1071.5 671.3) rotate(-45)" x="-0.1" y="1.35">24</text><use href="#s" x="1156.5" y="671.3"/><text class="n" transform="translate(1156.5 671.3) rotate(-45)" x="-0.1" y="1.35">25</text><use href="#s" x="1181.5" y="671.3"/><text class="n" transform="translate(1181.5 671.3) rotate(-45)" x="-0.1" y="1.35">26</text><use href="#s" x="1206.5" y="671.3"/><text class="n" transform="translate(1206.5 671.3) rotate(-45)" x="-0.1" y="1.35">27</text><use href="#s" x="1231.5" y="671.3"/><text class="n" transform="translate(1231.5 671.3) rotate(-45)" x="-0.1" y="1.35">28</text><use href="#s" x="1256.5" y="671.3"/><text class="n" transform="translate(1256.5 671.3) rotate(-45)" x="-0.1" y="1.35">29</text><use href="#s" x="1281.5" y="671.3"/><text class="n" transform="translate(1281.5 671.3) rotate(-45)" x="-0.1" y="1.35">30</text><use href="#s" x="1306.5" y="671.3"/><text class="n" transform="translate(1306.5 671.3) rotate(-45)" x="-0.1" y="1.35">31</text><use href="#s" x="1331.5" y="671.3"/><text class="n" transform="translate(1331.5 671.3) rotate(-45)" x="-0.1" y="1.35">32</text>
<use href="#s" x="496.5" y="716.3"/><text class="n" transform="translate(496.5 716.3) rotate(-45)" x="-0.1" y="1.35">1</text><use href="#s" x="521.5" y="716.3"/><text class="n" transform="translate(521.5 716.3) rotate(-45)" x="-0.1" y="1.35">2</text><use href="#s" x="546.5" y="716.3"/><text class="n" transform="translate(546.5 716.3) rotate(-45)" x="-0.1" y="1.35">3</text><use href="#s" x="571.5" y="716.3"/><text class="n" transform="translate(571.5 716.3) rotate(-45)" x="-0.1" y="1.35">4</text><use href="#s" x="596.5" y="716.3"/><text class="n" transform="translate(596.5 716.3) rotate(-45)" x="-0.1" y="1.35">5</text><use href="#s" x="621.5" y="716.3"/><text class="n" transform="translate(621.5 716.3) rotate(-45)" x="-0.1" y="1.35">6</text><use href="#s" x="646.5" y="716.3"/><text class="n" transform="translate(646.5 716.3) rotate(-45)" x="-0.1" y="1.35">7</text><use href="#s" x="671.5" y="716.3"/><text class="n" transform="translate(671.5 716.3) rotate(-45)" x="-0.1" y="1.35">8</text><use href="#s" x="696.5" y="716.3"/><text class="n" transform="translate(696.5 716.3) rotate(-45)" x="-0.1" y="1.35">9</text><use href="#s" x="721.5" y="716.3"/><text class="n" transform="translate(721.5 716.3) rotate(-45)" x="-0.1" y="1.35">10</text><use href="#s" x="746.5" y="716.3"/><text class="n" transform="translate(746.5 716.3) rotate(-45)" x="-0.1" y="1.35">11</text><use href="#s" x="771.5" y="716.3"/><text class="n" transform="translate(771.5 716.3) rotate(-45)" x="-0.1" y="1.35">12</text><use href="#s" x="796.5" y="716.3"/><text class="n" transform="translate(796.5 716.3) rotate(-45)" x="-0.1" y="1.35">13</text><use href="#s" x="821.5" y="716.3"/><text class="n" transform="translate(821.5 716.3) rotate(-45)" x="-0.1" y="1.35">14</text><use href="#s" x="846.5" y="716.3"/><text class="n" transform="translate(846.5 716.3) rotate(-45)" x="-0.1" y="1.35">15</text><use href="#s" x="871.5" y="716.3"/><text class="n" transform="translate(871.5 716.3) rotate(-45)" x="-0.1" y="1.35">16</text><use href="#s" x="896.5" y="716.3"/><text class="n" transform="translate(896.5 716.3) rotate(-45)" x="-0.1" y="1.35">17</text><use href="#s" x="921.5" y="716.3"/><text class="n" transform="translate(921.5 716.3) rotate(-45)" x="-0.1" y="1.35">18</text><use href="#s" x="946.5" y="716.3"/><text class="n" transform="translate(946.5 716.3) rotate(-45)" x="-0.1" y="1.35">19</text><use href="#s" x="971.5" y="716.3"/><text class="n" transform="translate(971.5 716.3) rotate(-45)" x="-0.1" y="1.35">20</text><use href="#s" x="996.5" y="716.3"/><text class="n" transform="translate(996.5 716.3) rotate(-45)" x="-0.1" y="1.35">21</text><use href="#s" x="1021.5" y="716.3"/><text class="n" transform="translate(1021.5 716.3) rotate(-45)" x="-0.1" y="1.35">22</text><use href="#s" x="1046.5" y="716.3"/><text class="n" transform="translate(1046.5 716.3) rotate(-45)" x="-0.1" y="1.35">23</text><use href="#s" x="1071.5" y="716.3"/><text class="n" transform="translate(1071.5 716.3) rotate(-45)" x="-0.1" y="1.35">24</text><use href="#s" x="1156.5" y="716.3"/><text class="n" transform="translate(1156.5 716.3) rotate(-45)" x="-0.1" y="1.35">25</text><use href="#s" x="1181.5" y="716.3"/><text class="n" transform="translate(1181.5 716.3) rotate(-45)" x="-0.1" y="1.35">26</text><use href="#s" x="1206.5" y="716.3"/><text class="n" transform="translate(1206.5 716.3) rotate(-45)" x="-0.1" y="1.35">27</text><use href="#s" x="1231.5" y="716.3"/><text class="n" transform="translate(1231.5 716.3) rotate(-45)" x="-0.1" y="1.35">28</text><use href="#s" x="1256.5" y="716.3"/><text class="n" transform="translate(1256.5 716.3) rotate(-45)" x="-0.1" y="1.35">29</text><use href="#s" x="1281.5" y="716.3"/><text class="n" transform="translate(1281.5 716.3) rotate(-45)" x="-0.1" y="1.35">30</text><use href="#s" x="1306.5" y="716.3"/><text class="n" transform="translate(1306.5 716.3) rotate(-45)" x="-0.1" y="1.35">31</text><use href="#s" x="1331.5" y="716.3"/><text class="n" transform="translate(1331.5 716.3) rotate(-45)" x="-0.1" y="1.35">32</text>
<use href="#s" x="496.5" y="761.3"/><text class="n" transform="translate(496.5 761.3) rotate(-45)" x="-0.1" y="1.35">1</text><use href="#s" x="521.5" y="761.3"/><text class="n" transform="translate(521.5 761.3) rotate(-45)" x="-0.1" y="1.35">2</text><use href="#s" x="546.5" y="761.3"/><text class="n" transform="translate(546.5 761.3) rotate(-45)" x="-0.1" y="1.35">3</text><use href="#s" x="571.5" y="761.3"/><text class="n" transform="translate(571.5 761.3) rotate(-45)" x="-0.1" y="1.35">4</text><use href="#s" x="596.5" y="761.3"/><text class="n" transform="translate(596.5 761.3) rotate(-45)" x="-0.1" y="1.35">5</text><use href="#s" x="621.5" y="761.3"/><text class="n" transform="translate(621.5 761.3) rotate(-45)" x="-0.1" y="1.35">6</text><use href="#s" x="646.5" y="761.3"/><text class="n" transform="translate(646.5 761.3) rotate(-45)" x="-0.1" y="1.35">7</text><use href="#s" x="671.5" y="761.3"/><text class="n" transform="translate(671.5 761.3) rotate(-45)" x="-0.1" y="1.35">8</text><use href="#s" x="696.5" y="761.3"/><text class="n" transform="translate(696.5 761.3) rotate(-45)" x="-0.1" y="1.35">9</text><use href="#s" x="721.5" y="761.3"/><text class="n" transform="translate(721.5 761.3) rotate(-45)" x="-0.1" y="1.35">10</text><use href="#s" x="746.5" y="761.3"/><text class="n" transform="translate(746.5 761.3) rotate(-45)" x="-0.1" y="1.35">11</text><use href="#s" x="771.5" y="761.3"/><text class="n" transform="translate(771.5 761.3) rotate(-45)" x="-0.1" y="1.35">12</text><use href="#s" x="796.5" y="761.3"/><text class="n" transform="translate(796.5 761.3) rotate(-45)" x="-0.1" y="1.35">13</text><use href="#s" x="821.5" y="761.3"/><text class="n" transform="translate(821.5 761.3) rotate(-45)" x="-0.1" y="1.35">14</text><use href="#s" x="846.5" y="761.3"/><text class="n" transform="translate(846.5 761.3) rotate(-45)" x="-0.1" y="1.35">15</text><use href="#s" x="871.5" y="761.3"/><text class="n" transform="translate(871.5 761.3) rotate(-45)" x="-0.1" y="1.35">16</text><use href="#s" x="896.5" y="761.3"/><text class="n" transform="translate(896.5 761.3) rotate(-45)" x="-0.1" y="1.35">17</text><use href="#s" x="921.5" y="761.3"/><text class="n" transform="translate(921.5 761.3) rotate(-45)" x="-0.1" y="1.35">18</text><use href="#s" x="946.5" y="761.3"/><text class="n" transform="translate(946.5 761.3) rotate(-45)" x="-0.1" y="1.35">19</text><use href="#s" x="971.5" y="761.3"/><text class="n" transform="translate(971.5 761.3) rotate(-45)" x="-0.1" y="1.35">20</text><use href="#s" x="996.5" y="761.3"/><text class="n" transform="translate(996.5 761.3) rotate(-45)" x="-0.1" y="1.35">21</text><use href="#s" x="1021.5" y="761.3"/><text class="n" transform="translate(1021.5 761.3) rotate(-45)" x="-0.1" y="1.35">22</text><use href="#s" x="1046.5" y="761.3"/><text class="n" transform="translate(1046.5 761.3) rotate(-45)" x="-0.1" y="1.35">23</text><use href="#s" x="1071.5" y="761.3"/><text class="n" transform="translate(1071.5 761.3) rotate(-45)" x="-0.1" y="1.35">24</text><use href="#s" x="1156.5" y="761.3"/><text class="n" transform="translate(1156.5 761.3) rotate(-45)" x="-0.1" y="1.35">25</text><use href="#s" x="1181.5" y="761.3"/><text class="n" transform="translate(1181.5 761.3) rotate(-45)" x="-0.1" y="1.35">26</text><use href="#s" x="1206.5" y="761.3"/><text class="n" transform="translate(1206.5 761.3) rotate(-45)" x="-0.1" y="1.35">27</text><use href="#s" x="1231.5" y="761.3"/><text class="n" transform="translate(1231.5 761.3) rotate(-45)" x="-0.1" y="1.35">28</text><use href="#s" x="1256.5" y="761.3"/><text class="n" transform="translate(1256.5 761.3) rotate(-45)" x="-0.1" y="1.35">29</text><use href="#s" x="1281.5" y="761.3"/><text class="n" transform="translate(1281.5 761.3) rotate(-45)" x="-0.1" y="1.35">30</text><use href="#s" x="1306.5" y="761.3"/><text class="n" transform="translate(1306.5 761.3) rotate(-45)" x="-0.1" y="1.35">31</text><use href="#s" x="1331.5" y="761.3"/><text class="n" transform="translate(1331.5 761.3) rotate(-45)" x="-0.1" y="1.35">32</text>
<use href="#s" x="496.5" y="806.3"/><text class="n" transform="translate(496.5 806.3) rotate(-45)" x="-0.1" y="1.35">1</text><use href="#s" x="521.5" y="806.3"/><text class="n" transform="translate(521.5 806.3) rotate(-45)" x="-0.1" y="1.35">2</text><use href="#s" x="546.5" y="806.3"/><text class="n" transform="translate(546.5 806.3) rotate(-45)" x="-0.1" y="1.35">3</text><use href="#s" x="571.5" y="806.3"/><text class="n" transform="translate(571.5 806.3) rotate(-45)" x="-0.1" y="1.35">4</text><use href="#s" x="596.5" y="806.3"/><text class="n" transform="translate(596.5 806.3) rotate(-45)" x="-0.1" y="1.35">5</text><use href="#s" x="621.5" y="806.3"/><text class="n" transform="translate(621.5 806.3) rotate(-45)" x="-0.1" y="1.35">6</text><use href="#s" x="646.5" y="806.3"/><text class="n" transform="translate(646.5 806.3) rotate(-45)" x="-0.1" y="1.35">7</text><use href="#s" x="671.5" y="806.3"/><text class="n" transform="translate(671.5 806.3) rotate(-45)" x="-0.1" y="1.35">8</text><use href="#s" x="696.5" y="806.3"/><text class="n" transform="translate(696.5 806.3) rotate(-45)" x="-0.1" y="1.35">9</text><use href="#s" x="721.5" y="806.3"/><text class="n" transform="translate(721.5 806.3) rotate(-45)" x="-0.1" y="1.35">10</text><use href="#s" x="746.5" y="806.3"/><text class="n" transform="translate(746.5 806.3) rotate(-45)" x="-0.1" y="1.35">11</text><use href="#s" x="771.5" y="806.3"/><text class="n" transform="translate(771.5 806.3) rotate(-45)" x="-0.1" y="1.35">12</text><use href="#s" x="796.5" y="806.3"/><text class="n" transform="translate(796.5 806.3) rotate(-45)" x="-0.1" y="1.35">13</text><use href="#s" x="821.5" y="806.3"/><text class="n" transform="translate(821.5 806.3) rotate(-45)" x="-0.1" y="1.35">14</text><use href="#s" x="846.5" y="806.3"/><text class="n" transform="translate(846.5 806.3) rotate(-45)" x="-0.1" y="1.35">15</text><use href="#s" x="871.5" y="806.3"/><text class="n" transform="translate(871.5 806.3) rotate(-45)" x="-0.1" y="1.35">16</text><use href="#s" x="896.5" y="806.3"/><text class="n" transform="translate(896.5 806.3) rotate(-45)" x="-0.1" y="1.35">17</text><use href="#s" x="921.5" y="806.3"/><text class="n" transform="translate(921.5 806.3) rotate(-45)" x="-0.1" y="1.35">18</text><use href="#s" x="946.5" y="806.3"/><text class="n" transform="translate(946.5 806.3) rotate(-45)" x="-0.1" y="1.35">19</text><use href="#s" x="971.5" y="806.3"/><text class="n" transform="translate(971.5 806.3) rotate(-45)" x="-0.1" y="1.35">20</text><use href="#s" x="996.5" y="806.3"/><text class="n" transform="translate(996.5 806.3) rotate(-45)" x="-0.1" y="1.35">21</text><use href="#s" x="1021.5" y="806.3"/><text class="n" transform="translate(1021.5 806.3) rotate(-45)" x="-0.1" y="1.35">22</text><use href="#s" x="1046.5" y="806.3"/><text class="n" transform="translate(1046.5 806.3) rotate(-45)" x="-0.1" y="1.35">23</text><use href="#s" x="1071.5" y="806.3"/><text class="n" transform="translate(1071.5 806.3) rotate(-45)" x="-0.1" y="1.35">24</text><use href="#s" x="1156.5" y="806.3"/><text class="n" transform="translate(1156.5 806.3) rotate(-45)" x="-0.1" y="1.35">25</text><use href="#s" x="1181.5" y="806.3"/><text class="n" transform="translate(1181.5 806.3) rotate(-45)" x="-0.1" y="1.35">26</text><use href="#s" x="1206.5" y="806.3"/><text class="n" transform="translate(1206.5 806.3) rotate(-45)" x="-0.1" y="1.35">27</text><use href="#s" x="1231.5" y="806.3"/><text class="n" transform="translate(1231.5 806.3) rotate(-45)" x="-0.1" y="1.35">28</text><use href="#s" x="1256.5" y="806.3"/><text class="n" transform="translate(1256.5 806.3) rotate(-45)" x="-0.1" y="1.35">29</text><use href="#s" x="1281.5" y="806.3"/><text class="n" transform="translate(1281.5 806.3) rotate(-45)" x="-0.1" y="1.35">30</text><use href="#s" x="1306.5" y="806.3"/><text class="n" transform="translate(1306.5 806.3) rotate(-45)" x="-0.1" y="1.35">31</text><use href="#s" x="1331.5" y="806.3"/><text class="n" transform="translate(1331.5 806.3) rotate(-45)" x="-0.1" y="1.35">32</text>
<use href="#s" x="496.5" y="851.3"/><text class="n" transform="translate(496.5 851.3) rotate(-45)" x="-0.1" y="1.35">1</text><use href="#s" x="521.5" y="851.3"/><text class="n" transform="translate(521.5 851.3) rotate(-45)" x="-0.1" y="1.35">2</text><use href="#s" x="546.5" y="851.3"/><text class="n" transform="translate(546.5 851.3) rotate(-45)" x="-0.1" y="1.35">3</text><use href="#s" x="571.5" y="851.3"/><text class="n" transform="translate(571.5 851.3) rotate(-45)" x="-0.1" y="1.35">4</text><use href="#s" x="596.5" y="851.3"/><text class="n" transform="translate(596.5 851.3) rotate(-45)" x="-0.1" y="1.35">5</text><use href="#s" x="621.5" y="851.3"/><text class="n" transform="translate(621.5 851.3) rotate(-45)" x="-0.1" y="1.35">6</text><use href="#s" x="646.5" y="851.3"/><text class="n" transform="translate(646.5 851.3) rotate(-45)" x="-0.1" y="1.35">7</text><use href="#s" x="671.5" y="851.3"/><text class="n" transform="translate(671.5 851.3) rotate(-45)" x="-0.1" y="1.35">8</text><use href="#s" x="696.5" y="851.3"/><text class="n" transform="translate(696.5 851.3) rotate(-45)" x="-0.1" y="1.35">9</text><use href="#s" x="721.5" y="851.3"/><text class="n" transform="translate(721.5 851.3) rotate(-45)" x="-0.1" y="1.35">10</text><use href="#s" x="746.5" y="851.3"/><text class="n" transform="translate(746.5 851.3) rotate(-45)" x="-0.1" y="1.35">11</text><use href="#s" x="771.5" y="851.3"/><text class="n" transform="translate(771.5 851.3) rotate(-45)" x="-0.1" y="1.35">12</text><use href="#s" x="796.5" y="851.3"/><text class="n" transform="translate(796.5 851.3) rotate(-45)" x="-0.1" y="1.35">13</text><use href="#s" x="821.5" y="851.3"/><text class="n" transform="translate(821.5 851.3) rotate(-45)" x="-0.1" y="1.35">14</text><use href="#s" x="846.5" y="851.3"/><text class="n" transform="translate(846.5 851.3) rotate(-45)" x="-0.1" y="1.35">15</text><use href="#s" x="871.5" y="851.3"/><text class="n" transform="translate(871.5 851.3) rotate(-45)" x="-0.1" y="1.35">16</text><use href="#s" x="896.5" y="851.3"/><text class="n" transform="translate(896.5 851.3) rotate(-45)" x="-0.1" y="1.35">17</text><use href="#s" x="921.5" y="851.3"/><text class="n" transform="translate(921.5 851.3) rotate(-45)" x="-0.1" y="1.35">18</text><use href="#s" x="946.5" y="851.3"/><text class="n" transform="translate(946.5 851.3) rotate(-45)" x="-0.1" y="1.35">19</text><use href="#s" x="971.5" y="851.3"/><text class="n" transform="translate(971.5 851.3) rotate(-45)" x="-0.1" y="1.35">20</text><use href="#s" x="996.5" y="851.3"/><text class="n" transform="translate(996.5 851.3) rotate(-45)" x="-0.1" y="1.35">21</text><use href="#s" x="1021.5" y="851.3"/><text class="n" transform="translate(1021.5 851.3) rotate(-45)" x="-0.1" y="1.35">22</text><use href="#s" x="1046.5" y="851.3"/><text class="n" transform="translate(1046.5 851.3) rotate(-45)" x="-0.1" y="1.35">23</text><use href="#s" x="1071.5" y="851.3"/><text class="n" transform="translate(1071.5 851.3) rotate(-45)" x="-0.1" y="1.35">24</text><use href="#s" x="1156.5" y="851.3"/><text class="n" transform="translate(1156.5 851.3) rotate(-45)" x="-0.1" y="1.35">25</text><use href="#s" x="1181.5" y="851.3"/><text class="n" transform="translate(1181.5 851.3) rotate(-45)" x="-0.1" y="1.35">26</text><use href="#s" x="1206.5" y="851.3"/><text class="n" transform="translate(1206.5 851.3) rotate(-45)" x="-0.1" y="1.35">27</text><use href="#s" x="1231.5" y="851.3"/><text class="n" transform="translate(1231.5 851.3) rotate(-45)" x="-0.1" y="1.35">28</text><use href="#s" x="1256.5" y="851.3"/><text class="n" transform="translate(1256.5 851.3) rotate(-45)" x="-0.1" y="1.35">29</text><use href="#s" x="1281.5" y="851.3"/><text class="n" transform="translate(1281.5 851.3) rotate(-45)" x="-0.1" y="1.35">30</text><use href="#s" x="1306.5" y="851.3"/><text class="n" transform="translate(1306.5 851.3) rotate(-45)" x="-0.1" y="1.35">31</text><use href="#s" x="1331.5" y="851.3"/><text class="n" transform="translate(1331.5 851.3) rotate(-45)" x="-0.1" y="1.35">32</text>
<use href="#s" x="496.5" y="926.3"/><text class="n" transform="translate(496.5 926.3) rotate(-45)" x="-0.1" y="1.35">1</text><use href="#s" x="521.5" y="926.3"/><text class="n" transform="translate(521.5 926.3) rotate(-45)" x="-0.1" y="1.35">2</text><use href="#s" x="546.5" y="926.3"/><text class="n" transform="translate(546.5 926.3) rotate(-45)" x="-0.1" y="1.35">3</text><use href="#s" x="571.5" y="926.3"/><text class="n" transform="translate(571.5 926.3) rotate(-45)" x="-0.1" y="1.35">4</text><use href="#s" x="596.5" y="926.3"/><text class="n" transform="translate(596.5 926.3) rotate(-45)" x="-0.1" y="1.35">5</text><use href="#s" x="621.5" y="926.3"/><text class="n" transform="translate(621.5 926.3) rotate(-45)" x="-0.1" y="1.35">6</text><use href="#s" x="646.5" y="926.3"/><text class="n" transform="translate(646.5 926.3) rotate(-45)" x="-0.1" y="1.35">7</text><use href="#s" x="671.5" y="926.3"/><text class="n" transform="translate(671.5 926.3) rotate(-45)" x="-0.1" y="1.35">8</text><use href="#s" x="696.5" y="926.3"/><text class="n" transform="translate(696.5 926.3) rotate(-45)" x="-0.1" y="1.35">9</text><use href="#s" x="721.5" y="926.3"/><text class="n" transform="translate(721.5 926.3) rotate(-45)" x="-0.1" y="1.35">10</text><use href="#s" x="746.5" y="926.3"/><text class="n" transform="translate(746.5 926.3) rotate(-45)" x="-0.1" y="1.35">11</text><use href="#s" x="771.5" y="926.3"/><text class="n" transform="translate(771.5 926.3) rotate(-45)" x="-0.1" y="1.35">12</text><use href="#s" x="796.5" y="926.3"/><text class="n" transform="translate(796.5 926.3) rotate(-45)" x="-0.1" y="1.35">13</text><use href="#s" x="821.5" y="926.3"/><text class="n" transform="translate(821.5 926.3) rotate(-45)" x="-0.1" y="1.35">14</text><use href="#s" x="846.5" y="926.3"/><text class="n" transform="translate(846.5 926.3) rotate(-45)" x="-0.1" y="1.35">15</text><use href="#s" x="871.5" y="926.3"/><text class="n" transform="translate(871.5 926.3) rotate(-45)" x="-0.1" y="1.35">16</text><use href="#s" x="896.5" y="926.3"/><text class="n" transform="translate(896.5 926.3) rotate(-45)" x="-0.1" y="1.35">17</text><use href="#s" x="921.5" y="926.3"/><text class="n" transform="translate(921.5 926.3) rotate(-45)" x="-0.1" y="1.35">18</text><use href="#s" x="946.5" y="926.3"/><text class="n" transform="translate(946.5 926.3) rotate(-45)" x="-0.1" y="1.35">19</text><use href="#s" x="971.5" y="926.3"/><text class="n" transform="translate(971.5 926.3) rotate(-45)" x="-0.1" y="1.35">20</text><use href="#s" x="996.5" y="926.3"/><text class="n" transform="translate(996.5 926.3) rotate(-45)" x="-0.1" y="1.35">21</text><use href="#s" x="1021.5" y="926.3"/><text class="n" transform="translate(1021.5 926.3) rotate(-45)" x="-0.1" y="1.35">22</text><use href="#s" x="1046.5" y="926.3"/><text class="n" transform="translate(1046.5 926.3) rotate(-45)" x="-0.1" y="1.35">23</text><use href="#s" x="1071.5" y="926.3"/><text class="n" transform="translate(1071.5 926.3) rotate(-45)" x="-0.1" y="1.35">24</text><use href="#s" x="1156.5" y="926.3"/><text class="n" transform="translate(1156.5 926.3) rotate(-45)" x="-0.1" y="1.35">25</text><use href="#s" x="1181.5" y="926.3"/><text class="n" transform="translate(1181.5 926.3) rotate(-45)" x="-0.1" y="1.35">26</text><use href="#s" x="1206.5" y="926.3"/><text class="n" transform="translate(1206.5 926.3) rotate(-45)" x="-0.1" y="1.35">27</text><use href="#s" x="1231.5" y="926.3"/><text class="n" transform="translate(1231.5 926.3) rotate(-45)" x="-0.1" y="1.35">28</text><use href="#s" x="1256.5" y="926.3"/><text class="n" transform="translate(1256.5 926.3) rotate(-45)" x="-0.1" y="1.35">29</text><use href="#s" x="1281.5" y="926.3"/><text class="n" transform="translate(1281.5 926.3) rotate(-45)" x="-0.1" y="1.35">30</text><use href="#s" x="1306.5" y="926.3"/><text class="n" transform="translate(1306.5 926.3) rotate(-45)" x="-0.1" y="1.35">31</text><use href="#s" x="1331.5" y="926.3"/><text class="n" transform="translate(1331.5 926.3) rotate(-45)" x="-0.1" y="1.35">32</text>
<use href="#s" x="496.5" y="971.3"/><text class="n" transform="translate(496.5 971.3) rotate(-45)" x="-0.1" y="1.35">1</text><use href="#s" x="521.5" y="971.3"/><text class="n" transform="translate(521.5 971.3) rotate(-45)" x="-0.1" y="1.35">2</text><use href="#s" x="546.5" y="971.3"/><text class="n" transform="translate(546.5 971.3) rotate(-45)" x="-0.1" y="1.35">3</text><use href="#s" x="571.5" y="971.3"/><text class="n" transform="translate(571.5 971.3) rotate(-45)" x="-0.1" y="1.35">4</text><use href="#s" x="596.5" y="971.3"/><text class="n" transform="translate(596.5 971.3) rotate(-45)" x="-0.1" y="1.35">5</text><use href="#s" x="621.5" y="971.3"/><text class="n" transform="translate(621.5 971.3) rotate(-45)" x="-0.1" y="1.35">6</text><use href="#s" x="646.5" y="971.3"/><text class="n" transform="translate(646.5 971.3) rotate(-45)" x="-0.1" y="1.35">7</text><use href="#s" x="671.5" y="971.3"/><text class="n" transform="translate(671.5 971.3) rotate(-45)" x="-0.1" y="1.35">8</text><use href="#s" x="696.5" y="971.3"/><text class="n" transform="translate(696.5 971.3) rotate(-45)" x="-0.1" y="1.35">9</text><use href="#s" x="721.5" y="971.3"/><text class="n" transform="translate(721.5 971.3) rotate(-45)" x="-0.1" y="1.35">10</text><use href="#s" x="746.5" y="971.3"/><text class="n" transform="translate(746.5 971.3) rotate(-45)" x="-0.1" y="1.35">11</text><use href="#s" x="771.5" y="971.3"/><text class="n" transform="translate(771.5 971.3) rotate(-45)" x="-0.1" y="1.35">12</text><use href="#s" x="796.5" y="971.3"/><text class="n" transform="translate(796.5 971.3) rotate(-45)" x="-0.1" y="1.35">13</text><use href="#s" x="821.5" y="971.3"/><text class="n" transform="translate(821.5 971.3) rotate(-45)" x="-0.1" y="1.35">14</text><use href="#s" x="846.5" y="971.3"/><text class="n" transform="translate(846.5 971.3) rotate(-45)" x="-0.1" y="1.35">15</text><use href="#s" x="871.5" y="971.3"/><text class="n" transform="translate(871.5 971.3) rotate(-45)" x="-0.1" y="1.35">16</text><use href="#s" x="896.5" y="971.3"/><text class="n" transform="translate(896.5 971.3) rotate(-45)" x="-0.1" y="1.35">17</text><use href="#s" x="921.5" y="971.3"/><text class="n" transform="translate(921.5 971.3) rotate(-45)" x="-0.1" y="1.35">18</text><use href="#s" x="946.5" y="971.3"/><text class="n" transform="translate(946.5 971.3) rotate(-45)" x="-0.1" y="1.35">19</text><use href="#s" x="971.5" y="971.3"/><text class="n" transform="translate(971.5 971.3) rotate(-45)" x="-0.1" y="1.35">20</text><use href="#s" x="996.5" y="971.3"/><text class="n" transform="translate(996.5 971.3) rotate(-45)" x="-0.1" y="1.35">21</text><use href="#s" x="1021.5" y="971.3"/><text class="n" transform="translate(1021.5 971.3) rotate(-45)" x="-0.1" y="1.35">22</text><use href="#s" x="1046.5" y="971.3"/><text class="n" transform="translate(1046.5 971.3) rotate(-45)" x="-0.1" y="1.35">23</text><use href="#s" x="1071.5" y="971.3"/><text class="n" transform="translate(1071.5 971.3) rotate(-45)" x="-0.1" y="1.35">24</text><use href="#s" x="1156.5" y="971.3"/><text class="n" transform="translate(1156.5 971.3) rotate(-45)" x="-0.1" y="1.35">25</text><use href="#s" x="1181.5" y="971.3"/><text class="n" transform="translate(1181.5 971.3) rotate(-45)" x="-0.1" y="1.35">26</text><use href="#s" x="1206.5" y="971.3"/><text class="n" transform="translate(1206.5 971.3) rotate(-45)" x="-0.1" y="1.35">27</text><use href="#s" x="1231.5" y="971.3"/><text class="n" transform="translate(1231.5 971.3) rotate(-45)" x="-0.1" y="1.35">28</text><use href="#s" x="1256.5" y="971.3"/><text class="n" transform="translate(1256.5 971.3) rotate(-45)" x="-0.1" y="1.35">29</text><use href="#s" x="1281.5" y="971.3"/><text class="n" transform="translate(1281.5 971.3) rotate(-45)" x="-0.1" y="1.35">30</text><use href="#s" x="1306.5" y="971.3"/><text class="n" transform="translate(1306.5 971.3) rotate(-45)" x="-0.1" y="1.35">31</text><use href="#s" x="1331.5" y="971.3"/><text class="n" transform="translate(1331.5 971.3) rotate(-45)" x="-0.1" y="1.35">32</text>
<use href="#s" x="496.5" y="1016.3"/><text class="n" transform="translate(496.5 1016.3) rotate(-45)" x="-0.1" y="1.35">1</text><use href="#s" x="521.5" y="1016.3"/><text class="n" transform="translate(521.5 1016.3) rotate(-45)" x="-0.1" y="1.35">2</text><use href="#s" x="546.5" y="1016.3"/><text class="n" transform="translate(546.5 1016.3) rotate(-45)" x="-0.1" y="1.35">3</text><use href="#s" x="571.5" y="1016.3"/><text class="n" transform="translate(571.5 1016.3) rotate(-45)" x="-0.1" y="1.35">4</text><use href="#s" x="596.5" y="1016.3"/><text class="n" transform="translate(596.5 1016.3) rotate(-45)" x="-0.1" y="1.35">5</text><use href="#s" x="621.5" y="1016.3"/><text class="n" transform="translate(621.5 1016.3) rotate(-45)" x="-0.1" y="1.35">6</text><use href="#s" x="646.5" y="1016.3"/><text class="n" transform="translate(646.5 1016.3) rotate(-45)" x="-0.1" y="1.35">7</text><use href="#s" x="671.5" y="1016.3"/><text class="n" transform="translate(671.5 1016.3) rotate(-45)" x="-0.1" y="1.35">8</text><use href="#s" x="696.5" y="1016.3"/><text class="n" transform="translate(696.5 1016.3) rotate(-45)" x="-0.1" y="1.35">9</text><use href="#s" x="721.5" y="1016.3"/><text class="n" transform="translate(721.5 1016.3) rotate(-45)" x="-0.1" y="1.35">10</text><use href="#s" x="746.5" y="1016.3"/><text class="n" transform="translate(746.5 1016.3) rotate(-45)" x="-0.1" y="1.35">11</text><use href="#s" x="771.5" y="1016.3"/><text class="n" transform="translate(771.5 1016.3) rotate(-45)" x="-0.1" y="1.35">12</text><use href="#s" x="796.5" y="1016.3"/><text class="n" transform="translate(796.5 1016.3) rotate(-45)" x="-0.1" y="1.35">13</text><use href="#s" x="821.5" y="1016.3"/><text class="n" transform="translate(821.5 1016.3) rotate(-45)" x="-0.1" y="1.35">14</text><use href="#s" x="846.5" y="1016.3"/><text class="n" transform="translate(846.5 1016.3) rotate(-45)" x="-0.1" y="1.35">15</text><use href="#s" x="871.5" y="1016.3"/><text class="n" transform="translate(871.5 1016.3) rotate(-45)" x="-0.1" y="1.35">16</text><use href="#s" x="896.5" y="1016.3"/><text class="n" transform="translate(896.5 1016.3) rotate(-45)" x="-0.1" y="1.35">17</text><use href="#s" x="921.5" y="1016.3"/><text class="n" transform="translate(921.5 1016.3) rotate(-45)" x="-0.1" y="1.35">18</text><use href="#s" x="946.5" y="1016.3"/><text class="n" transform="translate(946.5 1016.3) rotate(-45)" x="-0.1" y="1.35">19</text><use href="#s" x="971.5" y="1016.3"/><text class="n" transform="translate(971.5 1016.3) rotate(-45)" x="-0.1" y="1.35">20</text><use href="#s" x="996.5" y="1016.3"/><text class="n" transform="translate(996.5 1016.3) rotate(-45)" x="-0.1" y="1.35">21</text><use href="#s" x="1021.5" y="1016.3"/><text class="n" transform="translate(1021.5 1016.3) rotate(-45)" x="-0.1" y="1.35">22</text><use href="#s" x="1046.5" y="1016.3"/><text class="n" transform="translate(1046.5 1016.3) rotate(-45)" x="-0.1" y="1.35">23</text><use href="#s" x="1071.5" y="1016.3"/><text class="n" transform="translate(1071.5 1016.3) rotate(-45)" x="-0.1" y="1.35">24</text><use href="#s" x="1156.5" y="1016.3"/><text class="n" transform="translate(1156.5 1016.3) rotate(-45)" x="-0.1" y="1.35">25</text><use href="#s" x="1181.5" y="1016.3"/><text class="n" transform="translate(1181.5 1016.3) rotate(-45)" x="-0.1" y="1.35">26</text><use href="#s" x="1206.5" y="1016.3"/><text class="n" transform="translate(1206.5 1016.3) rotate(-45)" x="-0.1" y="1.35">27</text><use href="#s" x="1231.5" y="1016.3"/><text class="n" transform="translate(1231.5 1016.3) rotate(-45)" x="-0.1" y="1.35">28</text><use href="#s" x="1256.5" y="1016.3"/><text class="n" transform="translate(1256.5 1016.3) rotate(-45)" x="-0.1" y="1.35">29</text><use href="#s" x="1281.5" y="1016.3"/><text class="n" transform="translate(1281.5 1016.3) rotate(-45)" x="-0.1" y="1.35">30</text><use href="#s" x="1306.5" y="1016.3"/><text class="n" transform="translate(1306.5 1016.3) rotate(-45)" x="-0.1" y="1.35">31</text><use href="#s" x="1331.5" y="1016.3"/><text class="n" transform="translate(1331.5 1016.3) rotate(-45)" x="-0.1" y="1.35">32</text>
<use href="#s" x="496.5" y="1061.3"/><text class="n" transform="translate(496.5 1061.3) rotate(-45)" x="-0.1" y="1.35">1</text><use href="#s" x="521.5" y="1061.3"/><text class="n" transform="translate(521.5 1061.3) rotate(-45)" x="-0.1" y="1.35">2</text><use href="#s" x="546.5" y="1061.3"/><text class="n" transform="translate(546.5 1061.3) rotate(-45)" x="-0.1" y="1.35">3</text><use href="#s" x="571.5" y="1061.3"/><text class="n" transform="translate(571.5 1061.3) rotate(-45)" x="-0.1" y="1.35">4</text><use href="#s" x="596.5" y="1061.3"/><text class="n" transform="translate(596.5 1061.3) rotate(-45)" x="-0.1" y="1.35">5</text><use href="#s" x="621.5" y="1061.3"/><text class="n" transform="translate(621.5 1061.3) rotate(-45)" x="-0.1" y="1.35">6</text><use href="#s" x="646.5" y="1061.3"/><text class="n" transform="translate(646.5 1061.3) rotate(-45)" x="-0.1" y="1.35">7</text><use href="#s" x="671.5" y="1061.3"/><text class="n" transform="translate(671.5 1061.3) rotate(-45)" x="-0.1" y="1.35">8</text><use href="#s" x="696.5" y="1061.3"/><text class="n" transform="translate(696.5 1061.3) rotate(-45)" x="-0.1" y="1.35">9</text><use href="#s" x="721.5" y="1061.3"/><text class="n" transform="translate(721.5 1061.3) rotate(-45)" x="-0.1" y="1.35">10</text><use href="#s" x="746.5" y="1061.3"/><text class="n" transform="translate(746.5 1061.3) rotate(-45)" x="-0.1" y="1.35">11</text><use href="#s" x="771.5" y="1061.3"/><text class="n" transform="translate(771.5 1061.3) rotate(-45)" x="-0.1" y="1.35">12</text><use href="#s" x="796.5" y="1061.3"/><text class="n" transform="translate(796.5 1061.3) rotate(-45)" x="-0.1" y="1.35">13</text><use href="#s" x="821.5" y="1061.3"/><text class="n" transform="translate(821.5 1061.3) rotate(-45)" x="-0.1" y="1.35">14</text><use href="#s" x="846.5" y="1061.3"/><text class="n" transform="translate(846.5 1061.3) rotate(-45)" x="-0.1" y="1.35">15</text><use href="#s" x="871.5" y="1061.3"/><text class="n" transform="translate(871.5 1061.3) rotate(-45)" x="-0.1" y="1.35">16</text><use href="#s" x="896.5" y="1061.3"/><text class="n" transform="translate(896.5 1061.3) rotate(-45)" x="-0.1" y="1.35">17</text><use href="#s" x="921.5" y="1061.3"/><text class="n" transform="translate(921.5 1061.3) rotate(-45)" x="-0.1" y="1.35">18</text><use href="#s" x="946.5" y="1061.3"/><text class="n" transform="translate(946.5 1061.3) rotate(-45)" x="-0.1" y="1.35">19</text><use href="#s" x="971.5" y="1061.3"/><text class="n" transform="translate(971.5 1061.3) rotate(-45)" x="-0.1" y="1.35">20</text><use href="#s" x="996.5" y="1061.3"/><text class="n" transform="translate(996.5 1061.3) rotate(-45)" x="-0.1" y="1.35">21</text><use href="#s" x="1021.5" y="1061.3"/><text class="n" transform="translate(1021.5 1061.3) rotate(-45)" x="-0.1" y="1.35">22</text><use href="#s" x="1046.5" y="1061.3"/><text class="n" transform="translate(1046.5 1061.3) rotate(-45)" x="-0.1" y="1.35">23</text><use href="#s" x="1071.5" y="1061.3"/><text class="n" transform="translate(1071.5 1061.3) rotate(-45)" x="-0.1" y="1.35">24</text><use href="#s" x="1156.5" y="1061.3"/><text class="n" transform="translate(1156.5 1061.3) rotate(-45)" x="-0.1" y="1.35">25</text><use href="#s" x="1181.5" y="1061.3"/><text class="n" transform="translate(1181.5 1061.3) rotate(-45)" x="-0.1" y="1.35">26</text><use href="#s" x="1206.5" y="1061.3"/><text class="n" transform="translate(1206.5 1061.3) rotate(-45)" x="-0.1" y="1.35">27</text><use href="#s" x="1231.5" y="1061.3"/><text class="n" transform="translate(1231.5 1061.3) rotate(-45)" x="-0.1" y="1.35">28</text><use href="#s" x="1256.5" y="1061.3"/><text class="n" transform="translate(1256.5 1061.3) rotate(-45)" x="-0.1" y="1.35">29</text><use href="#s" x="1281.5" y="1061.3"/><text class="n" transform="translate(1281.5 1061.3) rotate(-45)" x="-0.1" y="1.35">30</text><use href="#s" x="1306.5" y="1061.3"/><text class="n" transform="translate(1306.5 1061.3) rotate(-45)" x="-0.1" y="1.35">31</text><use href="#s" x="1331.5" y="1061.3"/><text class="n" transform="translate(1331.5 1061.3) rotate(-45)" x="-0.1" y="1.35">32</text>
<use href="#s" x="496.5" y="1106.3"/><text class="n" transform="translate(496.5 1106.3) rotate(-45)" x="-0.1" y="1.35">1</text><use href="#s" x="521.5" y="1106.3"/><text class="n" transform="translate(521.5 1106.3) rotate(-45)" x="-0.1" y="1.35">2</text><use href="#s" x="546.5" y="1106.3"/><text class="n" transform="translate(546.5 1106.3) rotate(-45)" x="-0.1" y="1.35">3</text><use href="#s" x="571.5" y="1106.3"/><text class="n" transform="translate(571.5 1106.3) rotate(-45)" x="-0.1" y="1.35">4</text><use href="#s" x="596.5" y="1106.3"/><text class="n" transform="translate(596.5 1106.3) rotate(-45)" x="-0.1" y="1.35">5</text><use href="#s" x="621.5" y="1106.3"/><text class="n" transform="translate(621.5 1106.3) rotate(-45)" x="-0.1" y="1.35">6</text><use href="#s" x="646.5" y="1106.3"/><text class="n" transform="translate(646.5 1106.3) rotate(-45)" x="-0.1" y="1.35">7</text><use href="#s" x="671.5" y="1106.3"/><text class="n" transform="translate(671.5 1106.3) rotate(-45)" x="-0.1" y="1.35">8</text><use href="#s" x="696.5" y="1106.3"/><text class="n" transform="translate(696.5 1106.3) rotate(-45)" x="-0.1" y="1.35">9</text><use href="#s" x="721.5" y="1106.3"/><text class="n" transform="translate(721.5 1106.3) rotate(-45)" x="-0.1" y="1.35">10</text><use href="#s" x="746.5" y="1106.3"/><text class="n" transform="translate(746.5 1106.3) rotate(-45)" x="-0.1" y="1.35">11</text><use href="#s" x="771.5" y="1106.3"/><text class="n" transform="translate(771.5 1106.3) rotate(-45)" x="-0.1" y="1.35">12</text><use href="#s" x="796.5" y="1106.3"/><text class="n" transform="translate(796.5 1106.3) rotate(-45)" x="-0.1" y="1.35">13</text><use href="#s" x="821.5" y="1106.3"/><text class="n" transform="translate(821.5 1106.3) rotate(-45)" x="-0.1" y="1.35">14</text><use href="#s" x="846.5" y="1106.3"/><text class="n" transform="translate(846.5 1106.3) rotate(-45)" x="-0.1" y="1.35">15</text><use href="#s" x="871.5" y="1106.3"/><text class="n" transform="translate(871.5 1106.3) rotate(-45)" x="-0.1" y="1.35">16</text><use href="#s" x="896.5" y="1106.3"/><text class="n" transform="translate(896.5 1106.3) rotate(-45)" x="-0.1" y="1.35">17</text><use href="#s" x="921.5" y="1106.3"/><text class="n" transform="translate(921.5 1106.3) rotate(-45)" x="-0.1" y="1.35">18</text><use href="#s" x="946.5" y="1106.3"/><text class="n" transform="translate(946.5 1106.3) rotate(-45)" x="-0.1" y="1.35">19</text><use href="#s" x="971.5" y="1106.3"/><text class="n" transform="translate(971.5 1106.3) rotate(-45)" x="-0.1" y="1.35">20</text><use href="#s" x="996.5" y="1106.3"/><text class="n" transform="translate(996.5 1106.3) rotate(-45)" x="-0.1" y="1.35">21</text><use href="#s" x="1021.5" y="1106.3"/><text class="n" transform="translate(1021.5 1106.3) rotate(-45)" x="-0.1" y="1.35">22</text><use href="#s" x="1046.5" y="1106.3"/><text class="n" transform="translate(1046.5 1106.3) rotate(-45)" x="-0.1" y="1.35">23</text><use href="#s" x="1071.5" y="1106.3"/><text class="n" transform="translate(1071.5 1106.3) rotate(-45)" x="-0.1" y="1.35">24</text><use href="#s" x="1156.5" y="1106.3"/><text class="n" transform="translate(1156.5 1106.3) rotate(-45)" x="-0.1" y="1.35">25</text><use href="#s" x="1181.5" y="1106.3"/><text class="n" transform="translate(1181.5 1106.3) rotate(-45)" x="-0.1" y="1.35">26</text><use href="#s" x="1206.5" y="1106.3"/><text class="n" transform="translate(1206.5 1106.3) rotate(-45)" x="-0.1" y="1.35">27</text><use href="#s" x="1231.5" y="1106.3"/><text class="n" transform="translate(1231.5 1106.3) rotate(-45)" x="-0.1" y="1.35">28</text><use href="#s" x="1256.5" y="1106.3"/><text class="n" transform="translate(1256.5 1106.3) rotate(-45)" x="-0.1" y="1.35">29</text><use href="#s" x="1281.5" y="1106.3"/><text class="n" transform="translate(1281.5 1106.3) rotate(-45)" x="-0.1" y="1.35">30</text><use href="#s" x="1306.5" y="1106.3"/><text class="n" transform="translate(1306.5 1106.3) rotate(-45)" x="-0.1" y="1.35">31</text><use href="#s" x="1331.5" y="1106.3"/><text class="n" transform="translate(1331.5 1106.3) rotate(-45)" x="-0.1" y="1.35">32</text>
<use href="#s" x="496.5" y="1151.3"/><text class="n" transform="translate(496.5 1151.3) rotate(-45)" x="-0.1" y="1.35">1</text><use href="#s" x="521.5" y="1151.3"/><text class="n" transform="translate(521.5 1151.3) rotate(-45)" x="-0.1" y="1.35">2</text><use href="#s" x="546.5" y="1151.3"/><text class="n" transform="translate(546.5 1151.3) rotate(-45)" x="-0.1" y="1.35">3</text><use href="#s" x="571.5" y="1151.3"/><text class="n" transform="translate(571.5 1151.3) rotate(-45)" x="-0.1" y="1.35">4</text><use href="#s" x="596.5" y="1151.3"/><text class="n" transform="translate(596.5 1151.3) rotate(-45)" x="-0.1" y="1.35">5</text><use href="#s" x="621.5" y="1151.3"/><text class="n" transform="translate(621.5 1151.3) rotate(-45)" x="-0.1" y="1.35">6</text><use href="#s" x="646.5" y="1151.3"/><text class="n" transform="translate(646.5 1151.3) rotate(-45)" x="-0.1" y="1.35">7</text><use href="#s" x="671.5" y="1151.3"/><text class="n" transform="translate(671.5 1151.3) rotate(-45)" x="-0.1" y="1.35">8</text><use href="#s" x="696.5" y="1151.3"/><text class="n" transform="translate(696.5 1151.3) rotate(-45)" x="-0.1" y="1.35">9</text><use href="#s" x="721.5" y="1151.3"/><text class="n" transform="translate(721.5 1151.3) rotate(-45)" x="-0.1" y="1.35">10</text><use href="#s" x="746.5" y="1151.3"/><text class="n" transform="translate(746.5 1151.3) rotate(-45)" x="-0.1" y="1.35">11</text><use href="#s" x="771.5" y="1151.3"/><text class="n" transform="translate(771.5 1151.3) rotate(-45)" x="-0.1" y="1.35">12</text><use href="#s" x="796.5" y="1151.3"/><text class="n" transform="translate(796.5 1151.3) rotate(-45)" x="-0.1" y="1.35">13</text><use href="#s" x="821.5" y="1151.3"/><text class="n" transform="translate(821.5 1151.3) rotate(-45)" x="-0.1" y="1.35">14</text><use href="#s" x="846.5" y="1151.3"/><text class="n" transform="translate(846.5 1151.3) rotate(-45)" x="-0.1" y="1.35">15</text><use href="#s" x="871.5" y="1151.3"/><text class="n" transform="translate(871.5 1151.3) rotate(-45)" x="-0.1" y="1.35">16</text><use href="#s" x="896.5" y="1151.3"/><text class="n" transform="translate(896.5 1151.3) rotate(-45)" x="-0.1" y="1.35">17</text><use href="#s" x="921.5" y="1151.3"/><text class="n" transform="translate(921.5 1151.3) rotate(-45)" x="-0.1" y="1.35">18</text><use href="#s" x="946.5" y="1151.3"/><text class="n" transform="translate(946.5 1151.3) rotate(-45)" x="-0.1" y="1.35">19</text><use href="#s" x="971.5" y="1151.3"/><text class="n" transform="translate(971.5 1151.3) rotate(-45)" x="-0.1" y="1.35">20</text><use href="#s" x="996.5" y="1151.3"/><text class="n" transform="translate(996.5 1151.3) rotate(-45)" x="-0.1" y="1.35">21</text><use href="#s" x="1021.5" y="1151.3"/><text class="n" transform="translate(1021.5 1151.3) rotate(-45)" x="-0.1" y="1.35">22</text><use href="#s" x="1046.5" y="1151.3"/><text class="n" transform="translate(1046.5 1151.3) rotate(-45)" x="-0.1" y="1.35">23</text><use href="#s" x="1071.5" y="1151.3"/><text class="n" transform="translate(1071.5 1151.3) rotate(-45)" x="-0.1" y="1.35">24</text><use href="#s" x="1156.5" y="1151.3"/><text class="n" transform="translate(1156.5 1151.3) rotate(-45)" x="-0.1" y="1.35">25</text><use href="#s" x="1181.5" y="1151.3"/><text class="n" transform="translate(1181.5 1151.3) rotate(-45)" x="-0.1" y="1.35">26</text><use href="#s" x="1206.5" y="1151.3"/><text class="n" transform="translate(1206.5 1151.3) rotate(-45)" x="-0.1" y="1.35">27</text><use href="#s" x="1231.5" y="1151.3"/><text class="n" transform="translate(1231.5 1151.3) rotate(-45)" x="-0.1" y="1.35">28</text><use href="#s" x="1256.5" y="1151.3"/><text class="n" transform="translate(1256.5 1151.3) rotate(-45)" x="-0.1" y="1.35">29</text><use href="#s" x="1281.5" y="1151.3"/><text class="n" transform="translate(1281.5 1151.3) rotate(-45)" x="-0.1" y="1.35">30</text><use href="#s" x="1306.5" y="1151.3"/><text class="n" transform="translate(1306.5 1151.3) rotate(-45)" x="-0.1" y="1.35">31</text><use href="#s" x="1331.5" y="1151.3"/><text class="n" transform="translate(1331.5 1151.3) rotate(-45)" x="-0.1" y="1.35">32</text>
<use href="#s" x="496.5" y="1196.3"/><text class="n" transform="translate(496.5 1196.3) rotate(-45)" x="-0.1" y="1.35">1</text><use href="#s" x="521.5" y="1196.3"/><text class="n" transform="translate(521.5 1196.3) rotate(-45)" x="-0.1" y="1.35">2</text><use href="#s" x="546.5" y="1196.3"/><text class="n" transform="translate(546.5 1196.3) rotate(-45)" x="-0.1" y="1.35">3</text><use href="#s" x="571.5" y="1196.3"/><text class="n" transform="translate(571.5 1196.3) rotate(-45)" x="-0.1" y="1.35">4</text><use href="#s" x="596.5" y="1196.3"/><text class="n" transform="translate(596.5 1196.3) rotate(-45)" x="-0.1" y="1.35">5</text><use href="#s" x="621.5" y="1196.3"/><text class="n" transform="translate(621.5 1196.3) rotate(-45)" x="-0.1" y="1.35">6</text><use href="#s" x="646.5" y="1196.3"/><text class="n" transform="translate(646.5 1196.3) rotate(-45)" x="-0.1" y="1.35">7</text><use href="#s" x="671.5" y="1196.3"/><text class="n" transform="translate(671.5 1196.3) rotate(-45)" x="-0.1" y="1.35">8</text><use href="#s" x="696.5" y="1196.3"/><text class="n" transform="translate(696.5 1196.3) rotate(-45)" x="-0.1" y="1.35">9</text><use href="#s" x="721.5" y="1196.3"/><text class="n" transform="translate(721.5 1196.3) rotate(-45)" x="-0.1" y="1.35">10</text><use href="#s" x="746.5" y="1196.3"/><text class="n" transform="translate(746.5 1196.3) rotate(-45)" x="-0.1" y="1.35">11</text><use href="#s" x="771.5" y="1196.3"/><text class="n" transform="translate(771.5 1196.3) rotate(-45)" x="-0.1" y="1.35">12</text><use href="#s" x="796.5" y="1196.3"/><text class="n" transform="translate(796.5 1196.3) rotate(-45)" x="-0.1" y="1.35">13</text><use href="#s" x="821.5" y="1196.3"/><text class="n" transform="translate(821.5 1196.3) rotate(-45)" x="-0.1" y="1.35">14</text><use href="#s" x="846.5" y="1196.3"/><text class="n" transform="translate(846.5 1196.3) rotate(-45)" x="-0.1" y="1.35">15</text><use href="#s" x="871.5" y="1196.3"/><text class="n" transform="translate(871.5 1196.3) rotate(-45)" x="-0.1" y="1.35">16</text><use href="#s" x="896.5" y="1196.3"/><text class="n" transform="translate(896.5 1196.3) rotate(-45)" x="-0.1" y="1.35">17</text><use href="#s" x="921.5" y="1196.3"/><text class="n" transform="translate(921.5 1196.3) rotate(-45)" x="-0.1" y="1.35">18</text><use href="#s" x="946.5" y="1196.3"/><text class="n" transform="translate(946.5 1196.3) rotate(-45)" x="-0.1" y="1.35">19</text><use href="#s" x="971.5" y="1196.3"/><text class="n" transform="translate(971.5 1196.3) rotate(-45)" x="-0.1" y="1.35">20</text><use href="#s" x="996.5" y="1196.3"/><text class="n" transform="translate(996.5 1196.3) rotate(-45)" x="-0.1" y="1.35">21</text><use href="#s" x="1021.5" y="1196.3"/><text class="n" transform="translate(1021.5 1196.3) rotate(-45)" x="-0.1" y="1.35">22</text><use href="#s" x="1046.5" y="1196.3"/><text class="n" transform="translate(1046.5 1196.3) rotate(-45)" x="-0.1" y="1.35">23</text><use href="#s" x="1071.5" y="1196.3"/><text class="n" transform="translate(1071.5 1196.3) rotate(-45)" x="-0.1" y="1.35">24</text><use href="#s" x="1156.5" y="1196.3"/><text class="n" transform="translate(1156.5 1196.3) rotate(-45)" x="-0.1" y="1.35">25</text><use href="#s" x="1181.5" y="1196.3"/><text class="n" transform="translate(1181.5 1196.3) rotate(-45)" x="-0.1" y="1.35">26</text><use href="#s" x="1206.5" y="1196.3"/><text class="n" transform="translate(1206.5 1196.3) rotate(-45)" x="-0.1" y="1.35">27</text><use href="#s" x="1231.5" y="1196.3"/><text class="n" transform="translate(1231.5 1196.3) rotate(-45)" x="-0.1" y="1.35">28</text><use href="#s" x="1256.5" y="1196.3"/><text class="n" transform="translate(1256.5 1196.3) rotate(-45)" x="-0.1" y="1.35">29</text><use href="#s" x="1281.5" y="1196.3"/><text class="n" transform="translate(1281.5 1196.3) rotate(-45)" x="-0.1" y="1.35">30</text><use href="#s" x="1306.5" y="1196.3"/><text class="n" transform="translate(1306.5 1196.3) rotate(-45)" x="-0.1" y="1.35">31</text><use href="#s" x="1331.5" y="1196.3"/><text class="n" transform="translate(1331.5 1196.3) rotate(-45)" x="-0.1" y="1.35">32</text>
<use href="#s" x="496.5" y="1241.3"/><text class="n" transform="translate(496.5 1241.3) rotate(-45)" x="-0.1" y="1.35">1</text><use href="#s" x="521.5" y="1241.3"/><text class="n" transform="translate(521.5 1241.3) rotate(-45)" x="-0.1" y="1.35">2</text><use href="#s" x="546.5" y="1241.3"/><text class="n" transform="translate(546.5 1241.3) rotate(-45)" x="-0.1" y="1.35">3</text><use href="#s" x="571.5" y="1241.3"/><text class="n" transform="translate(571.5 1241.3) rotate(-45)" x="-0.1" y="1.35">4</text><use href="#s" x="596.5" y="1241.3"/><text class="n" transform="translate(596.5 1241.3) rotate(-45)" x="-0.1" y="1.35">5</text><use href="#s" x="621.5" y="1241.3"/><text class="n" transform="translate(621.5 1241.3) rotate(-45)" x="-0.1" y="1.35">6</text><use href="#s" x="646.5" y="1241.3"/><text class="n" transform="translate(646.5 1241.3) rotate(-45)" x="-0.1" y="1.35">7</text><use href="#s" x="671.5" y="1241.3"/><text class="n" transform="translate(671.5 1241.3) rotate(-45)" x="-0.1" y="1.35">8</text><use href="#s" x="696.5" y="1241.3"/><text class="n" transform="translate(696.5 1241.3) rotate(-45)" x="-0.1" y="1.35">9</text><use href="#s" x="721.5" y="1241.3"/><text class="n" transform="translate(721.5 1241.3) rotate(-45)" x="-0.1" y="1.35">10</text><use href="#s" x="746.5" y="1241.3"/><text class="n" transform="translate(746.5 1241.3) rotate(-45)" x="-0.1" y="1.35">11</text><use href="#s" x="771.5" y="1241.3"/><text class="n" transform="translate(771.5 1241.3) rotate(-45)" x="-0.1" y="1.35">12</text><use href="#s" x="796.5" y="1241.3"/><text class="n" transform="translate(796.5 1241.3) rotate(-45)" x="-0.1" y="1.35">13</text><use href="#s" x="821.5" y="1241.3"/><text class="n" transform="translate(821.5 1241.3) rotate(-45)" x="-0.1" y="1.35">14</text><use href="#s" x="846.5" y="1241.3"/><text class="n" transform="translate(846.5 1241.3) rotate(-45)" x="-0.1" y="1.35">15</text><use href="#s" x="871.5" y="1241.3"/><text class="n" transform="translate(871.5 1241.3) rotate(-45)" x="-0.1" y="1.35">16</text><use href="#s" x="896.5" y="1241.3"/><text class="n" transform="translate(896.5 1241.3) rotate(-45)" x="-0.1" y="1.35">17</text><use href="#s" x="921.5" y="1241.3"/><text class="n" transform="translate(921.5 1241.3) rotate(-45)" x="-0.1" y="1.35">18</text><use href="#s" x="946.5" y="1241.3"/><text class="n" transform="translate(946.5 1241.3) rotate(-45)" x="-0.1" y="1.35">19</text><use href="#s" x="971.5" y="1241.3"/><text class="n" transform="translate(971.5 1241.3) rotate(-45)" x="-0.1" y="1.35">20</text><use href="#s" x="996.5" y="1241.3"/><text class="n" transform="translate(996.5 1241.3) rotate(-45)" x="-0.1" y="1.35">21</text><use href="#s" x="1021.5" y="1241.3"/><text class="n" transform="translate(1021.5 1241.3) rotate(-45)" x="-0.1" y="1.35">22</text><use href="#s" x="1046.5" y="1241.3"/><text class="n" transform="translate(1046.5 1241.3) rotate(-45)" x="-0.1" y="1.35">23</text><use href="#s" x="1071.5" y="1241.3"/><text class="n" transform="translate(1071.5 1241.3) rotate(-45)" x="-0.1" y="1.35">24</text><use href="#s" x="1156.5" y="1241.3"/><text class="n" transform="translate(1156.5 1241.3) rotate(-45)" x="-0.1" y="1.35">25</text><use href="#s" x="1181.5" y="1241.3"/><text class="n" transform="translate(1181.5 1241.3) rotate(-45)" x="-0.1" y="1.35">26</text><use href="#s" x="1206.5" y="1241.3"/><text class="n" transform="translate(1206.5 1241.3) rotate(-45)" x="-0.1" y="1.35">27</text><use href="#s" x="1231.5" y="1241.3"/><text class="n" transform="translate(1231.5 1241.3) rotate(-45)" x="-0.1" y="1.35">28</text><use href="#s" x="1256.5" y="1241.3"/><text class="n" transform="translate(1256.5 1241.3) rotate(-45)" x="-0.1" y="1.35">29</text><use href="#s" x="1281.5" y="1241.3"/><text class="n" transform="translate(1281.5 1241.3) rotate(-45)" x="-0.1" y="1.35">30</text><use href="#s" x="1306.5" y="1241.3"/><text class="n" transform="translate(1306.5 1241.3) rotate(-45)" x="-0.1" y="1.35">31</text><use href="#s" x="1331.5" y="1241.3"/><text class="n" transform="translate(1331.5 1241.3) rotate(-45)" x="-0.1" y="1.35">32</text>
<use href="#s" x="496.5" y="1286.3"/><text class="n" transform="translate(496.5 1286.3) rotate(-45)" x="-0.1" y="1.35">1</text><use href="#s" x="521.5" y="1286.3"/><text class="n" transform="translate(521.5 1286.3) rotate(-45)" x="-0.1" y="1.35">2</text><use href="#s" x="546.5" y="1286.3"/><text class="n" transform="translate(546.5 1286.3) rotate(-45)" x="-0.1" y="1.35">3</text><use href="#s" x="571.5" y="1286.3"/><text class="n" transform="translate(571.5 1286.3) rotate(-45)" x="-0.1" y="1.35">4</text><use href="#s" x="596.5" y="1286.3"/><text class="n" transform="translate(596.5 1286.3) rotate(-45)" x="-0.1" y="1.35">5</text><use href="#s" x="621.5" y="1286.3"/><text class="n" transform="translate(621.5 1286.3) rotate(-45)" x="-0.1" y="1.35">6</text><use href="#s" x="646.5" y="1286.3"/><text class="n" transform="translate(646.5 1286.3) rotate(-45)" x="-0.1" y="1.35">7</text><use href="#s" x="671.5" y="1286.3"/><text class="n" transform="translate(671.5 1286.3) rotate(-45)" x="-0.1" y="1.35">8</text><use href="#s" x="696.5" y="1286.3"/><text class="n" transform="translate(696.5 1286.3) rotate(-45)" x="-0.1" y="1.35">9</text><use href="#s" x="721.5" y="1286.3"/><text class="n" transform="translate(721.5 1286.3) rotate(-45)" x="-0.1" y="1.35">10</text><use href="#s" x="746.5" y="1286.3"/><text class="n" transform="translate(746.5 1286.3) rotate(-45)" x="-0.1" y="1.35">11</text><use href="#s" x="771.5" y="1286.3"/><text class="n" transform="translate(771.5 1286.3) rotate(-45)" x="-0.1" y="1.35">12</text><use href="#s" x="796.5" y="1286.3"/><text class="n" transform="translate(796.5 1286.3) rotate(-45)" x="-0.1" y="1.35">13</text><use href="#s" x="821.5" y="1286.3"/><text class="n" transform="translate(821.5 1286.3) rotate(-45)" x="-0.1" y="1.35">14</text><use href="#s" x="846.5" y="1286.3"/><text class="n" transform="translate(846.5 1286.3) rotate(-45)" x="-0.1" y="1.35">15</text><use href="#s" x="871.5" y="1286.3"/><text class="n" transform="translate(871.5 1286.3) rotate(-45)" x="-0.1" y="1.35">16</text><use href="#s" x="896.5" y="1286.3"/><text class="n" transform="translate(896.5 1286.3) rotate(-45)" x="-0.1" y="1.35">17</text><use href="#s" x="921.5" y="1286.3"/><text class="n" transform="translate(921.5 1286.3) rotate(-45)" x="-0.1" y="1.35">18</text><use href="#s" x="946.5" y="1286.3"/><text class="n" transform="translate(946.5 1286.3) rotate(-45)" x="-0.1" y="1.35">19</text><use href="#s" x="971.5" y="1286.3"/><text class="n" transform="translate(971.5 1286.3) rotate(-45)" x="-0.1" y="1.35">20</text><use href="#s" x="996.5" y="1286.3"/><text class="n" transform="translate(996.5 1286.3) rotate(-45)" x="-0.1" y="1.35">21</text><use href="#s" x="1021.5" y="1286.3"/><text class="n" transform="translate(1021.5 1286.3) rotate(-45)" x="-0.1" y="1.35">22</text><use href="#s" x="1046.5" y="1286.3"/><text class="n" transform="translate(1046.5 1286.3) rotate(-45)" x="-0.1" y="1.35">23</text><use href="#s" x="1071.5" y="1286.3"/><text class="n" transform="translate(1071.5 1286.3) rotate(-45)" x="-0.1" y="1.35">24</text><use href="#s" x="1156.5" y="1286.3"/><text class="n" transform="translate(1156.5 1286.3) rotate(-45)" x="-0.1" y="1.35">25</text><use href="#s" x="1181.5" y="1286.3"/><text class="n" transform="translate(1181.5 1286.3) rotate(-45)" x="-0.1" y="1.35">26</text><use href="#s" x="1206.5" y="1286.3"/><text class="n" transform="translate(1206.5 1286.3) rotate(-45)" x="-0.1" y="1.35">27</text><use href="#s" x="1231.5" y="1286.3"/><text class="n" transform="translate(1231.5 1286.3) rotate(-45)" x="-0.1" y="1.35">28</text><use href="#s" x="1256.5" y="1286.3"/><text class="n" transform="translate(1256.5 1286.3) rotate(-45)" x="-0.1" y="1.35">29</text><use href="#s" x="1281.5" y="1286.3"/><text class="n" transform="translate(1281.5 1286.3) rotate(-45)" x="-0.1" y="1.35">30</text><use href="#s" x="1306.5" y="1286.3"/><text class="n" transform="translate(1306.5 1286.3) rotate(-45)" x="-0.1" y="1.35">31</text><use href="#s" x="1331.5" y="1286.3"/><text class="n" transform="translate(1331.5 1286.3) rotate(-45)" x="-0.1" y="1.35">32</text>
<use href="#s" x="496.5" y="1331.3"/><text class="n" transform="translate(496.5 1331.3) rotate(-45)" x="-0.1" y="1.35">1</text><use href="#s" x="521.5" y="1331.3"/><text class="n" transform="translate(521.5 1331.3) rotate(-45)" x="-0.1" y="1.35">2</text><use href="#s" x="546.5" y="1331.3"/><text class="n" transform="translate(546.5 1331.3) rotate(-45)" x="-0.1" y="1.35">3</text><use href="#s" x="571.5" y="1331.3"/><text class="n" transform="translate(571.5 1331.3) rotate(-45)" x="-0.1" y="1.35">4</text><use href="#s" x="596.5" y="1331.3"/><text class="n" transform="translate(596.5 1331.3) rotate(-45)" x="-0.1" y="1.35">5</text><use href="#s" x="621.5" y="1331.3"/><text class="n" transform="translate(621.5 1331.3) rotate(-45)" x="-0.1" y="1.35">6</text><use href="#s" x="646.5" y="1331.3"/><text class="n" transform="translate(646.5 1331.3) rotate(-45)" x="-0.1" y="1.35">7</text><use href="#s" x="671.5" y="1331.3"/><text class="n" transform="translate(671.5 1331.3) rotate(-45)" x="-0.1" y="1.35">8</text><use href="#s" x="696.5" y="1331.3"/><text class="n" transform="translate(696.5 1331.3) rotate(-45)" x="-0.1" y="1.35">9</text><use href="#s" x="721.5" y="1331.3"/><text class="n" transform="translate(721.5 1331.3) rotate(-45)" x="-0.1" y="1.35">10</text><use href="#s" x="746.5" y="1331.3"/><text class="n" transform="translate(746.5 1331.3) rotate(-45)" x="-0.1" y="1.35">11</text><use href="#s" x="771.5" y="1331.3"/><text class="n" transform="translate(771.5 1331.3) rotate(-45)" x="-0.1" y="1.35">12</text><use href="#s" x="796.5" y="1331.3"/><text class="n" transform="translate(796.5 1331.3) rotate(-45)" x="-0.1" y="1.35">13</text><use href="#s" x="821.5" y="1331.3"/><text class="n" transform="translate(821.5 1331.3) rotate(-45)" x="-0.1" y="1.35">14</text><use href="#s" x="846.5" y="1331.3"/><text class="n" transform="translate(846.5 1331.3) rotate(-45)" x="-0.1" y="1.35">15</text><use href="#s" x="871.5" y="1331.3"/><text class="n" transform="translate(871.5 1331.3) rotate(-45)" x="-0.1" y="1.35">16</text><use href="#s" x="896.5" y="1331.3"/><text class="n" transform="translate(896.5 1331.3) rotate(-45)" x="-0.1" y="1.35">17</text><use href="#s" x="921.5" y="1331.3"/><text class="n" transform="translate(921.5 1331.3) rotate(-45)" x="-0.1" y="1.35">18</text><use href="#s" x="946.5" y="1331.3"/><text class="n" transform="translate(946.5 1331.3) rotate(-45)" x="-0.1" y="1.35">19</text><use href="#s" x="971.5" y="1331.3"/><text class="n" transform="translate(971.5 1331.3) rotate(-45)" x="-0.1" y="1.35">20</text><use href="#s" x="996.5" y="1331.3"/><text class="n" transform="translate(996.5 1331.3) rotate(-45)" x="-0.1" y="1.35">21</text><use href="#s" x="1021.5" y="1331.3"/><text class="n" transform="translate(1021.5 1331.3) rotate(-45)" x="-0.1" y="1.35">22</text><use href="#s" x="1046.5" y="1331.3"/><text class="n" transform="translate(1046.5 1331.3) rotate(-45)" x="-0.1" y="1.35">23</text><use href="#s" x="1071.5" y="1331.3"/><text class="n" transform="translate(1071.5 1331.3) rotate(-45)" x="-0.1" y="1.35">24</text><use href="#s" x="1156.5" y="1331.3"/><text class="n" transform="translate(1156.5 1331.3) rotate(-45)" x="-0.1" y="1.35">25</text><use href="#s" x="1181.5" y="1331.3"/><text class="n" transform="translate(1181.5 1331.3) rotate(-45)" x="-0.1" y="1.35">26</text><use href="#s" x="1206.5" y="1331.3"/><text class="n" transform="translate(1206.5 1331.3) rotate(-45)" x="-0.1" y="1.35">27</text><use href="#s" x="1231.5" y="1331.3"/><text class="n" transform="translate(1231.5 1331.3) rotate(-45)" x="-0.1" y="1.35">28</text><use href="#s" x="1256.5" y="1331.3"/><text class="n" transform="translate(1256.5 1331.3) rotate(-45)" x="-0.1" y="1.35">29</text><use href="#s" x="1281.5" y="1331.3"/><text class="n" transform="translate(1281.5 1331.3) rotate(-45)" x="-0.1" y="1.35">30</text><use href="#s" x="1306.5" y="1331.3"/><text class="n" transform="translate(1306.5 1331.3) rotate(-45)" x="-0.1" y="1.35">31</text><use href="#s" x="1331.5" y="1331.3"/><text class="n" transform="translate(1331.5 1331.3) rotate(-45)" x="-0.1" y="1.35">32</text>
<use href="#s" x="496.5" y="1376.3"/><text class="n" transform="translate(496.5 1376.3) rotate(-45)" x="-0.1" y="1.35">1</text><use href="#s" x="521.5" y="1376.3"/><text class="n" transform="translate(521.5 1376.3) rotate(-45)" x="-0.1" y="1.35">2</text><use href="#s" x="546.5" y="1376.3"/><text class="n" transform="translate(546.5 1376.3) rotate(-45)" x="-0.1" y="1.35">3</text><use href="#s" x="571.5" y="1376.3"/><text class="n" transform="translate(571.5 1376.3) rotate(-45)" x="-0.1" y="1.35">4</text><use href="#s" x="596.5" y="1376.3"/><text class="n" transform="translate(596.5 1376.3) rotate(-45)" x="-0.1" y="1.35">5</text><use href="#s" x="621.5" y="1376.3"/><text class="n" transform="translate(621.5 1376.3) rotate(-45)" x="-0.1" y="1.35">6</text><use href="#s" x="646.5" y="1376.3"/><text class="n" transform="translate(646.5 1376.3) rotate(-45)" x="-0.1" y="1.35">7</text><use href="#s" x="671.5" y="1376.3"/><text class="n" transform="translate(671.5 1376.3) rotate(-45)" x="-0.1" y="1.35">8</text><use href="#s" x="696.5" y="1376.3"/><text class="n" transform="translate(696.5 1376.3) rotate(-45)" x="-0.1" y="1.35">9</text><use href="#s" x="721.5" y="1376.3"/><text class="n" transform="translate(721.5 1376.3) rotate(-45)" x="-0.1" y="1.35">10</text><use href="#s" x="746.5" y="1376.3"/><text class="n" transform="translate(746.5 1376.3) rotate(-45)" x="-0.1" y="1.35">11</text><use href="#s" x="771.5" y="1376.3"/><text class="n" transform="translate(771.5 1376.3) rotate(-45)" x="-0.1" y="1.35">12</text><use href="#s" x="796.5" y="1376.3"/><text class="n" transform="translate(796.5 1376.3) rotate(-45)" x="-0.1" y="1.35">13</text><use href="#s" x="821.5" y="1376.3"/><text class="n" transform="translate(821.5 1376.3) rotate(-45)" x="-0.1" y="1.35">14</text><use href="#s" x="846.5" y="1376.3"/><text class="n" transform="translate(846.5 1376.3) rotate(-45)" x="-0.1" y="1.35">15</text><use href="#s" x="871.5" y="1376.3"/><text class="n" transform="translate(871.5 1376.3) rotate(-45)" x="-0.1" y="1.35">16</text><use href="#s" x="896.5" y="1376.3"/><text class="n" transform="translate(896.5 1376.3) rotate(-45)" x="-0.1" y="1.35">17</text><use href="#s" x="921.5" y="1376.3"/><text class="n" transform="translate(921.5 1376.3) rotate(-45)" x="-0.1" y="1.35">18</text><use href="#s" x="946.5" y="1376.3"/><text class="n" transform="translate(946.5 1376.3) rotate(-45)" x="-0.1" y="1.35">19</text><use href="#s" x="971.5" y="1376.3"/><text class="n" transform="translate(971.5 1376.3) rotate(-45)" x="-0.1" y="1.35">20</text><use href="#s" x="996.5" y="1376.3"/><text class="n" transform="translate(996.5 1376.3) rotate(-45)" x="-0.1" y="1.35">21</text><use href="#s" x="1021.5" y="1376.3"/><text class="n" transform="translate(1021.5 1376.3) rotate(-45)" x="-0.1" y="1.35">22</text><use href="#s" x="1046.5" y="1376.3"/><text class="n" transform="translate(1046.5 1376.3) rotate(-45)" x="-0.1" y="1.35">23</text><use href="#s" x="1071.5" y="1376.3"/><text class="n" transform="translate(1071.5 1376.3) rotate(-45)" x="-0.1" y="1.35">24</text><use href="#s" x="1156.5" y="1376.3"/><text class="n" transform="translate(1156.5 1376.3) rotate(-45)" x="-0.1" y="1.35">25</text><use href="#s" x="1181.5" y="1376.3"/><text class="n" transform="translate(1181.5 1376.3) rotate(-45)" x="-0.1" y="1.35">26</text><use href="#s" x="1206.5" y="1376.3"/><text class="n" transform="translate(1206.5 1376.3) rotate(-45)" x="-0.1" y="1.35">27</text><use href="#s" x="1231.5" y="1376.3"/><text class="n" transform="translate(1231.5 1376.3) rotate(-45)" x="-0.1" y="1.35">28</text><use href="#s" x="1256.5" y="1376.3"/><text class="n" transform="translate(1256.5 1376.3) rotate(-45)" x="-0.1" y="1.35">29</text><use href="#s" x="1281.5" y="1376.3"/><text class="n" transform="translate(1281.5 1376.3) rotate(-45)" x="-0.1" y="1.35">30</text><use href="#s" x="1306.5" y="1376.3"/><text class="n" transform="translate(1306.5 1376.3) rotate(-45)" x="-0.1" y="1.35">31</text><use href="#s" x="1331.5" y="1376.3"/><text class="n" transform="translate(1331.5 1376.3) rotate(-45)" x="-0.1" y="1.35">32</text>
<use href="#s" x="496.5" y="1421.3"/><text class="n" transform="translate(496.5 1421.3) rotate(-45)" x="-0.1" y="1.35">1</text><use href="#s" x="521.5" y="1421.3"/><text class="n" transform="translate(521.5 1421.3) rotate(-45)" x="-0.1" y="1.35">2</text><use href="#s" x="546.5" y="1421.3"/><text class="n" transform="translate(546.5 1421.3) rotate(-45)" x="-0.1" y="1.35">3</text><use href="#s" x="571.5" y="1421.3"/><text class="n" transform="translate(571.5 1421.3) rotate(-45)" x="-0.1" y="1.35">4</text><use href="#s" x="596.5" y="1421.3"/><text class="n" transform="translate(596.5 1421.3) rotate(-45)" x="-0.1" y="1.35">5</text><use href="#s" x="621.5" y="1421.3"/><text class="n" transform="translate(621.5 1421.3) rotate(-45)" x="-0.1" y="1.35">6</text><use href="#s" x="646.5" y="1421.3"/><text class="n" transform="translate(646.5 1421.3) rotate(-45)" x="-0.1" y="1.35">7</text><use href="#s" x="671.5" y="1421.3"/><text class="n" transform="translate(671.5 1421.3) rotate(-45)" x="-0.1" y="1.35">8</text><use href="#s" x="696.5" y="1421.3"/><text class="n" transform="translate(696.5 1421.3) rotate(-45)" x="-0.1" y="1.35">9</text><use href="#s" x="721.5" y="1421.3"/><text class="n" transform="translate(721.5 1421.3) rotate(-45)" x="-0.1" y="1.35">10</text><use href="#s" x="746.5" y="1421.3"/><text class="n" transform="translate(746.5 1421.3) rotate(-45)" x="-0.1" y="1.35">11</text><use href="#s" x="771.5" y="1421.3"/><text class="n" transform="translate(771.5 1421.3) rotate(-45)" x="-0.1" y="1.35">12</text><use href="#s" x="796.5" y="1421.3"/><text class="n" transform="translate(796.5 1421.3) rotate(-45)" x="-0.1" y="1.35">13</text><use href="#s" x="821.5" y="1421.3"/><text class="n" transform="translate(821.5 1421.3) rotate(-45)" x="-0.1" y="1.35">14</text><use href="#s" x="846.5" y="1421.3"/><text class="n" transform="translate(846.5 1421.3) rotate(-45)" x="-0.1" y="1.35">15</text><use href="#s" x="871.5" y="1421.3"/><text class="n" transform="translate(871.5 1421.3) rotate(-45)" x="-0.1" y="1.35">16</text><use href="#s" x="896.5" y="1421.3"/><text class="n" transform="translate(896.5 1421.3) rotate(-45)" x="-0.1" y="1.35">17</text><use href="#s" x="921.5" y="1421.3"/><text class="n" transform="translate(921.5 1421.3) rotate(-45)" x="-0.1" y="1.35">18</text><use href="#s" x="946.5" y="1421.3"/><text class="n" transform="translate(946.5 1421.3) rotate(-45)" x="-0.1" y="1.35">19</text><use href="#s" x="971.5" y="1421.3"/><text class="n" transform="translate(971.5 1421.3) rotate(-45)" x="-0.1" y="1.35">20</text><use href="#s" x="996.5" y="1421.3"/><text class="n" transform="translate(996.5 1421.3) rotate(-45)" x="-0.1" y="1.35">21</text><use href="#s" x="1021.5" y="1421.3"/><text class="n" transform="translate(1021.5 1421.3) rotate(-45)" x="-0.1" y="1.35">22</text><use href="#s" x="1046.5" y="1421.3"/><text class="n" transform="translate(1046.5 1421.3) rotate(-45)" x="-0.1" y="1.35">23</text><use href="#s" x="1071.5" y="1421.3"/><text class="n" transform="translate(1071.5 1421.3) rotate(-45)" x="-0.1" y="1.35">24</text><use href="#s" x="1156.5" y="1421.3"/><text class="n" transform="translate(1156.5 1421.3) rotate(-45)" x="-0.1" y="1.35">25</text><use href="#s" x="1181.5" y="1421.3"/><text class="n" transform="translate(1181.5 1421.3) rotate(-45)" x="-0.1" y="1.35">26</text><use href="#s" x="1206.5" y="1421.3"/><text class="n" transform="translate(1206.5 1421.3) rotate(-45)" x="-0.1" y="1.35">27</text><use href="#s" x="1231.5" y="1421.3"/><text class="n" transform="translate(1231.5 1421.3) rotate(-45)" x="-0.1" y="1.35">28</text><use href="#s" x="1256.5" y="1421.3"/><text class="n" transform="translate(1256.5 1421.3) rotate(-45)" x="-0.1" y="1.35">29</text><use href="#s" x="1281.5" y="1421.3"/><text class="n" transform="translate(1281.5 1421.3) rotate(-45)" x="-0.1" y="1.35">30</text><use href="#s" x="1306.5" y="1421.3"/><text class="n" transform="translate(1306.5 1421.3) rotate(-45)" x="-0.1" y="1.35">31</text><use href="#s" x="1331.5" y="1421.3"/><text class="n" transform="translate(1331.5 1421.3) rotate(-45)" x="-0.1" y="1.35">32</text>
<use href="#s" x="496.5" y="1466.3"/><text class="n" transform="translate(496.5 1466.3) rotate(-45)" x="-0.1" y="1.35">1</text><use href="#s" x="521.5" y="1466.3"/><text class="n" transform="translate(521.5 1466.3) rotate(-45)" x="-0.1" y="1.35">2</text><use href="#s" x="546.5" y="1466.3"/><text class="n" transform="translate(546.5 1466.3) rotate(-45)" x="-0.1" y="1.35">3</text><use href="#s" x="571.5" y="1466.3"/><text class="n" transform="translate(571.5 1466.3) rotate(-45)" x="-0.1" y="1.35">4</text><use href="#s" x="596.5" y="1466.3"/><text class="n" transform="translate(596.5 1466.3) rotate(-45)" x="-0.1" y="1.35">5</text><use href="#s" x="621.5" y="1466.3"/><text class="n" transform="translate(621.5 1466.3) rotate(-45)" x="-0.1" y="1.35">6</text><use href="#s" x="646.5" y="1466.3"/><text class="n" transform="translate(646.5 1466.3) rotate(-45)" x="-0.1" y="1.35">7</text><use href="#s" x="671.5" y="1466.3"/><text class="n" transform="translate(671.5 1466.3) rotate(-45)" x="-0.1" y="1.35">8</text><use href="#s" x="696.5" y="1466.3"/><text class="n" transform="translate(696.5 1466.3) rotate(-45)" x="-0.1" y="1.35">9</text><use href="#s" x="721.5" y="1466.3"/><text class="n" transform="translate(721.5 1466.3) rotate(-45)" x="-0.1" y="1.35">10</text><use href="#s" x="746.5" y="1466.3"/><text class="n" transform="translate(746.5 1466.3) rotate(-45)" x="-0.1" y="1.35">11</text><use href="#s" x="771.5" y="1466.3"/><text class="n" transform="translate(771.5 1466.3) rotate(-45)" x="-0.1" y="1.35">12</text><use href="#s" x="796.5" y="1466.3"/><text class="n" transform="translate(796.5 1466.3) rotate(-45)" x="-0.1" y="1.35">13</text><use href="#s" x="821.5" y="1466.3"/><text class="n" transform="translate(821.5 1466.3) rotate(-45)" x="-0.1" y="1.35">14</text><use href="#s" x="846.5" y="1466.3"/><text class="n" transform="translate(846.5 1466.3) rotate(-45)" x="-0.1" y="1.35">15</text><use href="#s" x="871.5" y="1466.3"/><text class="n" transform="translate(871.5 1466.3) rotate(-45)" x="-0.1" y="1.35">16</text><use href="#s" x="896.5" y="1466.3"/><text class="n" transform="translate(896.5 1466.3) rotate(-45)" x="-0.1" y="1.35">17</text><use href="#s" x="921.5" y="1466.3"/><text class="n" transform="translate(921.5 1466.3) rotate(-45)" x="-0.1" y="1.35">18</text><use href="#s" x="946.5" y="1466.3"/><text class="n" transform="translate(946.5 1466.3) rotate(-45)" x="-0.1" y="1.35">19</text><use href="#s" x="971.5" y="1466.3"/><text class="n" transform="translate(971.5 1466.3) rotate(-45)" x="-0.1" y="1.35">20</text><use href="#s" x="996.5" y="1466.3"/><text class="n" transform="translate(996.5 1466.3) rotate(-45)" x="-0.1" y="1.35">21</text><use href="#s" x="1021.5" y="1466.3"/><text class="n" transform="translate(1021.5 1466.3) rotate(-45)" x="-0.1" y="1.35">22</text><use href="#s" x="1046.5" y="1466.3"/><text class="n" transform="translate(1046.5 1466.3) rotate(-45)" x="-0.1" y="1.35">23</text><use href="#s" x="1071.5" y="1466.3"/><text class="n" transform="translate(1071.5 1466.3) rotate(-45)" x="-0.1" y="1.35">24</text><use href="#s" x="1156.5" y="1466.3"/><text class="n" transform="translate(1156.5 1466.3) rotate(-45)" x="-0.1" y="1.35">25</text><use href="#s" x="1181.5" y="1466.3"/><text class="n" transform="translate(1181.5 1466.3) rotate(-45)" x="-0.1" y="1.35">26</text><use href="#s" x="1206.5" y="1466.3"/><text class="n" transform="translate(1206.5 1466.3) rotate(-45)" x="-0.1" y="1.35">27</text><use href="#s" x="1231.5" y="1466.3"/><text class="n" transform="translate(1231.5 1466.3) rotate(-45)" x="-0.1" y="1.35">28</text><use href="#s" x="1256.5" y="1466.3"/><text class="n" transform="translate(1256.5 1466.3) rotate(-45)" x="-0.1" y="1.35">29</text><use href="#s" x="1281.5" y="1466.3"/><text class="n" transform="translate(1281.5 1466.3) rotate(-45)" x="-0.1" y="1.35">30</text><use href="#s" x="1306.5" y="1466.3"/><text class="n" transform="translate(1306.5 1466.3) rotate(-45)" x="-0.1" y="1.35">31</text><use href="#s" x="1331.5" y="1466.3"/><text class="n" transform="translate(1331.5 1466.3) rotate(-45)" x="-0.1" y="1.35">32</text>
<use href="#s" x="496.5" y="1511.3"/><text class="n" transform="translate(496.5 1511.3) rotate(-45)" x="-0.1" y="1.35">1</text><use href="#s" x="521.5" y="1511.3"/><text class="n" transform="translate(521.5 1511.3) rotate(-45)" x="-0.1" y="1.35">2</text><use href="#s" x="546.5" y="1511.3"/><text class="n" transform="translate(546.5 1511.3) rotate(-45)" x="-0.1" y="1.35">3</text><use href="#s" x="571.5" y="1511.3"/><text class="n" transform="translate(571.5 1511.3) rotate(-45)" x="-0.1" y="1.35">4</text><use href="#s" x="596.5" y="1511.3"/><text class="n" transform="translate(596.5 1511.3) rotate(-45)" x="-0.1" y="1.35">5</text><use href="#s" x="621.5" y="1511.3"/><text class="n" transform="translate(621.5 1511.3) rotate(-45)" x="-0.1" y="1.35">6</text><use href="#s" x="646.5" y="1511.3"/><text class="n" transform="translate(646.5 1511.3) rotate(-45)" x="-0.1" y="1.35">7</text><use href="#s" x="671.5" y="1511.3"/><text class="n" transform="translate(671.5 1511.3) rotate(-45)" x="-0.1" y="1.35">8</text><use href="#s" x="696.5" y="1511.3"/><text class="n" transform="translate(696.5 1511.3) rotate(-45)" x="-0.1" y="1.35">9</text><use href="#s" x="721.5" y="1511.3"/><text class="n" transform="translate(721.5 1511.3) rotate(-45)" x="-0.1" y="1.35">10</text><use href="#s" x="746.5" y="1511.3"/><text class="n" transform="translate(746.5 1511.3) rotate(-45)" x="-0.1" y="1.35">11</text><use href="#s" x="771.5" y="1511.3"/><text class="n" transform="translate(771.5 1511.3) rotate(-45)" x="-0.1" y="1.35">12</text><use href="#s" x="796.5" y="1511.3"/><text class="n" transform="translate(796.5 1511.3) rotate(-45)" x="-0.1" y="1.35">13</text><use href="#s" x="821.5" y="1511.3"/><text class="n" transform="translate(821.5 1511.3) rotate(-45)" x="-0.1" y="1.35">14</text><use href="#s" x="846.5" y="1511.3"/><text class="n" transform="translate(846.5 1511.3) rotate(-45)" x="-0.1" y="1.35">15</text><use href="#s" x="871.5" y="1511.3"/><text class="n" transform="translate(871.5 1511.3) rotate(-45)" x="-0.1" y="1.35">16</text><use href="#s" x="896.5" y="1511.3"/><text class="n" transform="translate(896.5 1511.3) rotate(-45)" x="-0.1" y="1.35">17</text><use href="#s" x="921.5" y="1511.3"/><text class="n" transform="translate(921.5 1511.3) rotate(-45)" x="-0.1" y="1.35">18</text><use href="#s" x="946.5" y="1511.3"/><text class="n" transform="translate(946.5 1511.3) rotate(-45)" x="-0.1" y="1.35">19</text><use href="#s" x="971.5" y="1511.3"/><text class="n" transform="translate(971.5 1511.3) rotate(-45)" x="-0.1" y="1.35">20</text><use href="#s" x="996.5" y="1511.3"/><text class="n" transform="translate(996.5 1511.3) rotate(-45)" x="-0.1" y="1.35">21</text><use href="#s" x="1021.5" y="1511.3"/><text class="n" transform="translate(1021.5 1511.3) rotate(-45)" x="-0.1" y="1.35">22</text><use href="#s" x="1046.5" y="1511.3"/><text class="n" transform="translate(1046.5 1511.3) rotate(-45)" x="-0.1" y="1.35">23</text><use href="#s" x="1071.5" y="1511.3"/><text class="n" transform="translate(1071.5 1511.3) rotate(-45)" x="-0.1" y="1.35">24</text><use href="#s" x="1156.5" y="1511.3"/><text class="n" transform="translate(1156.5 1511.3) rotate(-45)" x="-0.1" y="1.35">25</text><use href="#s" x="1181.5" y="1511.3"/><text class="n" transform="translate(1181.5 1511.3) rotate(-45)" x="-0.1" y="1.35">26</text><use href="#s" x="1206.5" y="1511.3"/><text class="n" transform="translate(1206.5 1511.3) rotate(-45)" x="-0.1" y="1.35">27</text><use href="#s" x="1231.5" y="1511.3"/><text class="n" transform="translate(1231.5 1511.3) rotate(-45)" x="-0.1" y="1.35">28</text><use href="#s" x="1256.5" y="1511.3"/><text class="n" transform="translate(1256.5 1511.3) rotate(-45)" x="-0.1" y="1.35">29</text><use href="#s" x="1281.5" y="1511.3"/><text class="n" transform="translate(1281.5 1511.3) rotate(-45)" x="-0.1" y="1.35">30</text><use href="#s" x="1306.5" y="1511.3"/><text class="n" transform="translate(1306.5 1511.3) rotate(-45)" x="-0.1" y="1.35">31</text><use href="#s" x="1331.5" y="1511.3"/><text class="n" transform="translate(1331.5 1511.3) rotate(-45)" x="-0.1" y="1.35">32</text>
<use href="#s" x="496.5" y="1556.3"/><text class="n" transform="translate(496.5 1556.3) rotate(-45)" x="-0.1" y="1.35">1</text><use href="#s" x="521.5" y="1556.3"/><text class="n" transform="translate(521.5 1556.3) rotate(-45)" x="-0.1" y="1.35">2</text><use href="#s" x="546.5" y="1556.3"/><text class="n" transform="translate(546.5 1556.3) rotate(-45)" x="-0.1" y="1.35">3</text><use href="#s" x="571.5" y="1556.3"/><text class="n" transform="translate(571.5 1556.3) rotate(-45)" x="-0.1" y="1.35">4</text><use href="#s" x="596.5" y="1556.3"/><text class="n" transform="translate(596.5 1556.3) rotate(-45)" x="-0.1" y="1.35">5</text><use href="#s" x="621.5" y="1556.3"/><text class="n" transform="translate(621.5 1556.3) rotate(-45)" x="-0.1" y="1.35">6</text><use href="#s" x="646.5" y="1556.3"/><text class="n" transform="translate(646.5 1556.3) rotate(-45)" x="-0.1" y="1.35">7</text><use href="#s" x="671.5" y="1556.3"/><text class="n" transform="translate(671.5 1556.3) rotate(-45)" x="-0.1" y="1.35">8</text><use href="#s" x="696.5" y="1556.3"/><text class="n" transform="translate(696.5 1556.3) rotate(-45)" x="-0.1" y="1.35">9</text><use href="#s" x="721.5" y="1556.3"/><text class="n" transform="translate(721.5 1556.3) rotate(-45)" x="-0.1" y="1.35">10</text><use href="#s" x="746.5" y="1556.3"/><text class="n" transform="translate(746.5 1556.3) rotate(-45)" x="-0.1" y="1.35">11</text><use href="#s" x="771.5" y="1556.3"/><text class="n" transform="translate(771.5 1556.3) rotate(-45)" x="-0.1" y="1.35">12</text><use href="#s" x="796.5" y="1556.3"/><text class="n" transform="translate(796.5 1556.3) rotate(-45)" x="-0.1" y="1.35">13</text><use href="#s" x="821.5" y="1556.3"/><text class="n" transform="translate(821.5 1556.3) rotate(-45)" x="-0.1" y="1.35">14</text><use href="#s" x="846.5" y="1556.3"/><text class="n" transform="translate(846.5 1556.3) rotate(-45)" x="-0.1" y="1.35">15</text><use href="#s" x="871.5" y="1556.3"/><text class="n" transform="translate(871.5 1556.3) rotate(-45)" x="-0.1" y="1.35">16</text><use href="#s" x="896.5" y="1556.3"/><text class="n" transform="translate(896.5 1556.3) rotate(-45)" x="-0.1" y="1.35">17</text><use href="#s" x="921.5" y="1556.3"/><text class="n" transform="translate(921.5 1556.3) rotate(-45)" x="-0.1" y="1.35">18</text><use href="#s" x="946.5" y="1556.3"/><text class="n" transform="translate(946.5 1556.3) rotate(-45)" x="-0.1" y="1.35">19</text><use href="#s" x="971.5" y="1556.3"/><text class="n" transform="translate(971.5 1556.3) rotate(-45)" x="-0.1" y="1.35">20</text><use href="#s" x="996.5" y="1556.3"/><text class="n" transform="translate(996.5 1556.3) rotate(-45)" x="-0.1" y="1.35">21</text><use href="#s" x="1021.5" y="1556.3"/><text class="n" transform="translate(1021.5 1556.3) rotate(-45)" x="-0.1" y="1.35">22</text><use href="#s" x="1046.5" y="1556.3"/><text class="n" transform="translate(1046.5 1556.3) rotate(-45)" x="-0.1" y="1.35">23</text><use href="#s" x="1071.5" y="1556.3"/><text class="n" transform="translate(1071.5 1556.3) rotate(-45)" x="-0.1" y="1.35">24</text><use href="#s" x="1156.5" y="1556.3"/><text class="n" transform="translate(1156.5 1556.3) rotate(-45)" x="-0.1" y="1.35">25</text><use href="#s" x="1181.5" y="1556.3"/><text class="n" transform="translate(1181.5 1556.3) rotate(-45)" x="-0.1" y="1.35">26</text><use href="#s" x="1206.5" y="1556.3"/><text class="n" transform="translate(1206.5 1556.3) rotate(-45)" x="-0.1" y="1.35">27</text><use href="#s" x="1231.5" y="1556.3"/><text class="n" transform="translate(1231.5 1556.3) rotate(-45)" x="-0.1" y="1.35">28</text><use href="#s" x="1256.5" y="1556.3"/><text class="n" transform="translate(1256.5 1556.3) rotate(-45)" x="-0.1" y="1.35">29</text><use href="#s" x="1281.5" y="1556.3"/><text class="n" transform="translate(1281.5 1556.3) rotate(-45)" x="-0.1" y="1.35">30</text><use href="#s" x="1306.5" y="1556.3"/><text class="n" transform="translate(1306.5 1556.3) rotate(-45)" x="-0.1" y="1.35">31</text><use href="#s" x="1331.5" y="1556.3"/><text class="n" transform="translate(1331.5 1556.3) rotate(-45)" x="-0.1" y="1.35">32</text>
<use href="#s" x="496.5" y="1601.3"/><text class="n" transform="translate(496.5 1601.3) rotate(-45)" x="-0.1" y="1.35">1</text><use href="#s" x="521.5" y="1601.3"/><text class="n" transform="translate(521.5 1601.3) rotate(-45)" x="-0.1" y="1.35">2</text><use href="#s" x="546.5" y="1601.3"/><text class="n" transform="translate(546.5 1601.3) rotate(-45)" x="-0.1" y="1.35">3</text><use href="#s" x="571.5" y="1601.3"/><text class="n" transform="translate(571.5 1601.3) rotate(-45)" x="-0.1" y="1.35">4</text><use href="#s" x="596.5" y="1601.3"/><text class="n" transform="translate(596.5 1601.3) rotate(-45)" x="-0.1" y="1.35">5</text><use href="#s" x="621.5" y="1601.3"/><text class="n" transform="translate(621.5 1601.3) rotate(-45)" x="-0.1" y="1.35">6</text><use href="#s" x="646.5" y="1601.3"/><text class="n" transform="translate(646.5 1601.3) rotate(-45)" x="-0.1" y="1.35">7</text><use href="#s" x="671.5" y="1601.3"/><text class="n" transform="translate(671.5 1601.3) rotate(-45)" x="-0.1" y="1.35">8</text><use href="#s" x="696.5" y="1601.3"/><text class="n" transform="translate(696.5 1601.3) rotate(-45)" x="-0.1" y="1.35">9</text><use href="#s" x="721.5" y="1601.3"/><text class="n" transform="translate(721.5 1601.3) rotate(-45)" x="-0.1" y="1.35">10</text><use href="#s" x="746.5" y="1601.3"/><text class="n" transform="translate(746.5 1601.3) rotate(-45)" x="-0.1" y="1.35">11</text><use href="#s" x="771.5" y="1601.3"/><text class="n" transform="translate(771.5 1601.3) rotate(-45)" x="-0.1" y="1.35">12</text><use href="#s" x="796.5" y="1601.3"/><text class="n" transform="translate(796.5 1601.3) rotate(-45)" x="-0.1" y="1.35">13</text><use href="#s" x="821.5" y="1601.3"/><text class="n" transform="translate(821.5 1601.3) rotate(-45)" x="-0.1" y="1.35">14</text><use href="#s" x="846.5" y="1601.3"/><text class="n" transform="translate(846.5 1601.3) rotate(-45)" x="-0.1" y="1.35">15</text><use href="#s" x="871.5" y="1601.3"/><text class="n" transform="translate(871.5 1601.3) rotate(-45)" x="-0.1" y="1.35">16</text><use href="#s" x="896.5" y="1601.3"/><text class="n" transform="translate(896.5 1601.3) rotate(-45)" x="-0.1" y="1.35">17</text><use href="#s" x="921.5" y="1601.3"/><text class="n" transform="translate(921.5 1601.3) rotate(-45)" x="-0.1" y="1.35">18</text><use href="#s" x="946.5" y="1601.3"/><text class="n" transform="translate(946.5 1601.3) rotate(-45)" x="-0.1" y="1.35">19</text><use href="#s" x="971.5" y="1601.3"/><text class="n" transform="translate(971.5 1601.3) rotate(-45)" x="-0.1" y="1.35">20</text><use href="#s" x="996.5" y="1601.3"/><text class="n" transform="translate(996.5 1601.3) rotate(-45)" x="-0.1" y="1.35">21</text><use href="#s" x="1021.5" y="1601.3"/><text class="n" transform="translate(1021.5 1601.3) rotate(-45)" x="-0.1" y="1.35">22</text><use href="#s" x="1046.5" y="1601.3"/><text class="n" transform="translate(1046.5 1601.3) rotate(-45)" x="-0.1" y="1.35">23</text><use href="#s" x="1071.5" y="1601.3"/><text class="n" transform="translate(1071.5 1601.3) rotate(-45)" x="-0.1" y="1.35">24</text><use href="#s" x="1156.5" y="1601.3"/><text class="n" transform="translate(1156.5 1601.3) rotate(-45)" x="-0.1" y="1.35">25</text><use href="#s" x="1181.5" y="1601.3"/><text class="n" transform="translate(1181.5 1601.3) rotate(-45)" x="-0.1" y="1.35">26</text><use href="#s" x="1206.5" y="1601.3"/><text class="n" transform="translate(1206.5 1601.3) rotate(-45)" x="-0.1" y="1.35">27</text><use href="#s" x="1231.5" y="1601.3"/><text class="n" transform="translate(1231.5 1601.3) rotate(-45)" x="-0.1" y="1.35">28</text><use href="#s" x="1256.5" y="1601.3"/><text class="n" transform="translate(1256.5 1601.3) rotate(-45)" x="-0.1" y="1.35">29</text><use href="#s" x="1281.5" y="1601.3"/><text class="n" transform="translate(1281.5 1601.3) rotate(-45)" x="-0.1" y="1.35">30</text><use href="#s" x="1306.5" y="1601.3"/><text class="n" transform="translate(1306.5 1601.3) rotate(-45)" x="-0.1" y="1.35">31</text><use href="#s" x="1331.5" y="1601.3"/><text class="n" transform="translate(1331.5 1601.3) rotate(-45)" x="-0.1" y="1.35">32</text>
<use href="#s" x="496.5" y="1646.3"/><text class="n" transform="translate(496.5 1646.3) rotate(-45)" x="-0.1" y="1.35">1</text><use href="#s" x="521.5" y="1646.3"/><text class="n" transform="translate(521.5 1646.3) rotate(-45)" x="-0.1" y="1.35">2</text><use href="#s" x="546.5" y="1646.3"/><text class="n" transform="translate(546.5 1646.3) rotate(-45)" x="-0.1" y="1.35">3</text><use href="#s" x="571.5" y="1646.3"/><text class="n" transform="translate(571.5 1646.3) rotate(-45)" x="-0.1" y="1.35">4</text><use href="#s" x="596.5" y="1646.3"/><text class="n" transform="translate(596.5 1646.3) rotate(-45)" x="-0.1" y="1.35">5</text><use href="#s" x="621.5" y="1646.3"/><text class="n" transform="translate(621.5 1646.3) rotate(-45)" x="-0.1" y="1.35">6</text><use href="#s" x="646.5" y="1646.3"/><text class="n" transform="translate(646.5 1646.3) rotate(-45)" x="-0.1" y="1.35">7</text><use href="#s" x="671.5" y="1646.3"/><text class="n" transform="translate(671.5 1646.3) rotate(-45)" x="-0.1" y="1.35">8</text><use href="#s" x="696.5" y="1646.3"/><text class="n" transform="translate(696.5 1646.3) rotate(-45)" x="-0.1" y="1.35">9</text><use href="#s" x="721.5" y="1646.3"/><text class="n" transform="translate(721.5 1646.3) rotate(-45)" x="-0.1" y="1.35">10</text><use href="#s" x="746.5" y="1646.3"/><text class="n" transform="translate(746.5 1646.3) rotate(-45)" x="-0.1" y="1.35">11</text><use href="#s" x="771.5" y="1646.3"/><text class="n" transform="translate(771.5 1646.3) rotate(-45)" x="-0.1" y="1.35">12</text><use href="#s" x="796.5" y="1646.3"/><text class="n" transform="translate(796.5 1646.3) rotate(-45)" x="-0.1" y="1.35">13</text><use href="#s" x="821.5" y="1646.3"/><text class="n" transform="translate(821.5 1646.3) rotate(-45)" x="-0.1" y="1.35">14</text><use href="#s" x="846.5" y="1646.3"/><text class="n" transform="translate(846.5 1646.3) rotate(-45)" x="-0.1" y="1.35">15</text><use href="#s" x="871.5" y="1646.3"/><text class="n" transform="translate(871.5 1646.3) rotate(-45)" x="-0.1" y="1.35">16</text><use href="#s" x="896.5" y="1646.3"/><text class="n" transform="translate(896.5 1646.3) rotate(-45)" x="-0.1" y="1.35">17</text><use href="#s" x="921.5" y="1646.3"/><text class="n" transform="translate(921.5 1646.3) rotate(-45)" x="-0.1" y="1.35">18</text><use href="#s" x="946.5" y="1646.3"/><text class="n" transform="translate(946.5 1646.3) rotate(-45)" x="-0.1" y="1.35">19</text><use href="#s" x="971.5" y="1646.3"/><text class="n" transform="translate(971.5 1646.3) rotate(-45)" x="-0.1" y="1.35">20</text><use href="#s" x="996.5" y="1646.3"/><text class="n" transform="translate(996.5 1646.3) rotate(-45)" x="-0.1" y="1.35">21</text><use href="#s" x="1021.5" y="1646.3"/><text class="n" transform="translate(1021.5 1646.3) rotate(-45)" x="-0.1" y="1.35">22</text><use href="#s" x="1046.5" y="1646.3"/><text class="n" transform="translate(1046.5 1646.3) rotate(-45)" x="-0.1" y="1.35">23</text><use href="#s" x="1071.5" y="1646.3"/><text class="n" transform="translate(1071.5 1646.3) rotate(-45)" x="-0.1" y="1.35">24</text><use href="#s" x="1156.5" y="1646.3"/><text class="n" transform="translate(1156.5 1646.3) rotate(-45)" x="-0.1" y="1.35">25</text><use href="#s" x="1181.5" y="1646.3"/><text class="n" transform="translate(1181.5 1646.3) rotate(-45)" x="-0.1" y="1.35">26</text><use href="#s" x="1206.5" y="1646.3"/><text class="n" transform="translate(1206.5 1646.3) rotate(-45)" x="-0.1" y="1.35">27</text><use href="#s" x="1231.5" y="1646.3"/><text class="n" transform="translate(1231.5 1646.3) rotate(-45)" x="-0.1" y="1.35">28</text><use href="#s" x="1256.5" y="1646.3"/><text class="n" transform="translate(1256.5 1646.3) rotate(-45)" x="-0.1" y="1.35">29</text><use href="#s" x="1281.5" y="1646.3"/><text class="n" transform="translate(1281.5 1646.3) rotate(-45)" x="-0.1" y="1.35">30</text><use href="#s" x="1306.5" y="1646.3"/><text class="n" transform="translate(1306.5 1646.3) rotate(-45)" x="-0.1" y="1.35">31</text><use href="#s" x="1331.5" y="1646.3"/><text class="n" transform="translate(1331.5 1646.3) rotate(-45)" x="-0.1" y="1.35">32</text>
<use href="#s" x="496.5" y="1691.3"/><text class="n" transform="translate(496.5 1691.3) rotate(-45)" x="-0.1" y="1.35">1</text><use href="#s" x="521.5" y="1691.3"/><text class="n" transform="translate(521.5 1691.3) rotate(-45)" x="-0.1" y="1.35">2</text><use href="#s" x="546.5" y="1691.3"/><text class="n" transform="translate(546.5 1691.3) rotate(-45)" x="-0.1" y="1.35">3</text><use href="#s" x="571.5" y="1691.3"/><text class="n" transform="translate(571.5 1691.3) rotate(-45)" x="-0.1" y="1.35">4</text><use href="#s" x="596.5" y="1691.3"/><text class="n" transform="translate(596.5 1691.3) rotate(-45)" x="-0.1" y="1.35">5</text><use href="#s" x="621.5" y="1691.3"/><text class="n" transform="translate(621.5 1691.3) rotate(-45)" x="-0.1" y="1.35">6</text><use href="#s" x="646.5" y="1691.3"/><text class="n" transform="translate(646.5 1691.3) rotate(-45)" x="-0.1" y="1.35">7</text><use href="#s" x="671.5" y="1691.3"/><text class="n" transform="translate(671.5 1691.3) rotate(-45)" x="-0.1" y="1.35">8</text><use href="#s" x="696.5" y="1691.3"/><text class="n" transform="translate(696.5 1691.3) rotate(-45)" x="-0.1" y="1.35">9</text><use href="#s" x="721.5" y="1691.3"/><text class="n" transform="translate(721.5 1691.3) rotate(-45)" x="-0.1" y="1.35">10</text><use href="#s" x="746.5" y="1691.3"/><text class="n" transform="translate(746.5 1691.3) rotate(-45)" x="-0.1" y="1.35">11</text><use href="#s" x="771.5" y="1691.3"/><text class="n" transform="translate(771.5 1691.3) rotate(-45)" x="-0.1" y="1.35">12</text><use href="#s" x="796.5" y="1691.3"/><text class="n" transform="translate(796.5 1691.3) rotate(-45)" x="-0.1" y="1.35">13</text><use href="#s" x="821.5" y="1691.3"/><text class="n" transform="translate(821.5 1691.3) rotate(-45)" x="-0.1" y="1.35">14</text><use href="#s" x="846.5" y="1691.3"/><text class="n" transform="translate(846.5 1691.3) rotate(-45)" x="-0.1" y="1.35">15</text><use href="#s" x="871.5" y="1691.3"/><text class="n" transform="translate(871.5 1691.3) rotate(-45)" x="-0.1" y="1.35">16</text><use href="#s" x="896.5" y="1691.3"/><text class="n" transform="translate(896.5 1691.3) rotate(-45)" x="-0.1" y="1.35">17</text><use href="#s" x="921.5" y="1691.3"/><text class="n" transform="translate(921.5 1691.3) rotate(-45)" x="-0.1" y="1.35">18</text><use href="#s" x="946.5" y="1691.3"/><text class="n" transform="translate(946.5 1691.3) rotate(-45)" x="-0.1" y="1.35">19</text><use href="#s" x="971.5" y="1691.3"/><text class="n" transform="translate(971.5 1691.3) rotate(-45)" x="-0.1" y="1.35">20</text><use href="#s" x="996.5" y="1691.3"/><text class="n" transform="translate(996.5 1691.3) rotate(-45)" x="-0.1" y="1.35">21</text><use href="#s" x="1021.5" y="1691.3"/><text class="n" transform="translate(1021.5 1691.3) rotate(-45)" x="-0.1" y="1.35">22</text><use href="#s" x="1046.5" y="1691.3"/><text class="n" transform="translate(1046.5 1691.3) rotate(-45)" x="-0.1" y="1.35">23</text><use href="#s" x="1071.5" y="1691.3"/><text class="n" transform="translate(1071.5 1691.3) rotate(-45)" x="-0.1" y="1.35">24</text><use href="#s" x="1156.5" y="1691.3"/><text class="n" transform="translate(1156.5 1691.3) rotate(-45)" x="-0.1" y="1.35">25</text><use href="#s" x="1181.5" y="1691.3"/><text class="n" transform="translate(1181.5 1691.3) rotate(-45)" x="-0.1" y="1.35">26</text><use href="#s" x="1206.5" y="1691.3"/><text class="n" transform="translate(1206.5 1691.3) rotate(-45)" x="-0.1" y="1.35">27</text><use href="#s" x="1231.5" y="1691.3"/><text class="n" transform="translate(1231.5 1691.3) rotate(-45)" x="-0.1" y="1.35">28</text><use href="#s" x="1256.5" y="1691.3"/><text class="n" transform="translate(1256.5 1691.3) rotate(-45)" x="-0.1" y="1.35">29</text><use href="#s" x="1281.5" y="1691.3"/><text class="n" transform="translate(1281.5 1691.3) rotate(-45)" x="-0.1" y="1.35">30</text><use href="#s" x="1306.5" y="1691.3"/><text class="n" transform="translate(1306.5 1691.3) rotate(-45)" x="-0.1" y="1.35">31</text><use href="#s" x="1331.5" y="1691.3"/><text class="n" transform="translate(1331.5 1691.3) rotate(-45)" x="-0.1" y="1.35">32</text>
<use href="#s" x="496.5" y="1736.3"/><text class="n" transform="translate(496.5 1736.3) rotate(-45)" x="-0.1" y="1.35">1</text><use href="#s" x="521.5" y="1736.3"/><text class="n" transform="translate(521.5 1736.3) rotate(-45)" x="-0.1" y="1.35">2</text><use href="#s" x="546.5" y="1736.3"/><text class="n" transform="translate(546.5 1736.3) rotate(-45)" x="-0.1" y="1.35">3</text><use href="#s" x="571.5" y="1736.3"/><text class="n" transform="translate(571.5 1736.3) rotate(-45)" x="-0.1" y="1.35">4</text><use href="#s" x="596.5" y="1736.3"/><text class="n" transform="translate(596.5 1736.3) rotate(-45)" x="-0.1" y="1.35">5</text><use href="#s" x="621.5" y="1736.3"/><text class="n" transform="translate(621.5 1736.3) rotate(-45)" x="-0.1" y="1.35">6</text><use href="#s" x="646.5" y="1736.3"/><text class="n" transform="translate(646.5 1736.3) rotate(-45)" x="-0.1" y="1.35">7</text><use href="#s" x="671.5" y="1736.3"/><text class="n" transform="translate(671.5 1736.3) rotate(-45)" x="-0.1" y="1.35">8</text><use href="#s" x="696.5" y="1736.3"/><text class="n" transform="translate(696.5 1736.3) rotate(-45)" x="-0.1" y="1.35">9</text><use href="#s" x="721.5" y="1736.3"/><text class="n" transform="translate(721.5 1736.3) rotate(-45)" x="-0.1" y="1.35">10</text><use href="#s" x="746.5" y="1736.3"/><text class="n" transform="translate(746.5 1736.3) rotate(-45)" x="-0.1" y="1.35">11</text><use href="#s" x="771.5" y="1736.3"/><text class="n" transform="translate(771.5 1736.3) rotate(-45)" x="-0.1" y="1.35">12</text><use href="#s" x="796.5" y="1736.3"/><text class="n" transform="translate(796.5 1736.3) rotate(-45)" x="-0.1" y="1.35">13</text><use href="#s" x="821.5" y="1736.3"/><text class="n" transform="translate(821.5 1736.3) rotate(-45)" x="-0.1" y="1.35">14</text><use href="#s" x="846.5" y="1736.3"/><text class="n" transform="translate(846.5 1736.3) rotate(-45)" x="-0.1" y="1.35">15</text><use href="#s" x="871.5" y="1736.3"/><text class="n" transform="translate(871.5 1736.3) rotate(-45)" x="-0.1" y="1.35">16</text><use href="#s" x="896.5" y="1736.3"/><text class="n" transform="translate(896.5 1736.3) rotate(-45)" x="-0.1" y="1.35">17</text><use href="#s" x="921.5" y="1736.3"/><text class="n" transform="translate(921.5 1736.3) rotate(-45)" x="-0.1" y="1.35">18</text><use href="#s" x="946.5" y="1736.3"/><text class="n" transform="translate(946.5 1736.3) rotate(-45)" x="-0.1" y="1.35">19</text><use href="#s" x="971.5" y="1736.3"/><text class="n" transform="translate(971.5 1736.3) rotate(-45)" x="-0.1" y="1.35">20</text><use href="#s" x="996.5" y="1736.3"/><text class="n" transform="translate(996.5 1736.3) rotate(-45)" x="-0.1" y="1.35">21</text><use href="#s" x="1021.5" y="1736.3"/><text class="n" transform="translate(1021.5 1736.3) rotate(-45)" x="-0.1" y="1.35">22</text><use href="#s" x="1046.5" y="1736.3"/><text class="n" transform="translate(1046.5 1736.3) rotate(-45)" x="-0.1" y="1.35">23</text><use href="#s" x="1071.5" y="1736.3"/><text class="n" transform="translate(1071.5 1736.3) rotate(-45)" x="-0.1" y="1.35">24</text><use href="#s" x="1156.5" y="1736.3"/><text class="n" transform="translate(1156.5 1736.3) rotate(-45)" x="-0.1" y="1.35">25</text><use href="#s" x="1181.5" y="1736.3"/><text class="n" transform="translate(1181.5 1736.3) rotate(-45)" x="-0.1" y="1.35">26</text><use href="#s" x="1206.5" y="1736.3"/><text class="n" transform="translate(1206.5 1736.3) rotate(-45)" x="-0.1" y="1.35">27</text><use href="#s" x="1231.5" y="1736.3"/><text class="n" transform="translate(1231.5 1736.3) rotate(-45)" x="-0.1" y="1.35">28</text><use href="#s" x="1256.5" y="1736.3"/><text class="n" transform="translate(1256.5 1736.3) rotate(-45)" x="-0.1" y="1.35">29</text><use href="#s" x="1281.5" y="1736.3"/><text class="n" transform="translate(1281.5 1736.3) rotate(-45)" x="-0.1" y="1.35">30</text><use href="#s" x="1306.5" y="1736.3"/><text class="n" transform="translate(1306.5 1736.3) rotate(-45)" x="-0.1" y="1.35">31</text><use href="#s" x="1331.5" y="1736.3"/><text class="n" transform="translate(1331.5 1736.3) rotate(-45)" x="-0.1" y="1.35">32</text>
<use href="#s" x="496.5" y="1781.3"/><text class="n" transform="translate(496.5 1781.3) rotate(-45)" x="-0.1" y="1.35">1</text><use href="#s" x="521.5" y="1781.3"/><text class="n" transform="translate(521.5 1781.3) rotate(-45)" x="-0.1" y="1.35">2</text><use href="#s" x="546.5" y="1781.3"/><text class="n" transform="translate(546.5 1781.3) rotate(-45)" x="-0.1" y="1.35">3</text><use href="#s" x="571.5" y="1781.3"/><text class="n" transform="translate(571.5 1781.3) rotate(-45)" x="-0.1" y="1.35">4</text><use href="#s" x="596.5" y="1781.3"/><text class="n" transform="translate(596.5 1781.3) rotate(-45)" x="-0.1" y="1.35">5</text><use href="#s" x="621.5" y="1781.3"/><text class="n" transform="translate(621.5 1781.3) rotate(-45)" x="-0.1" y="1.35">6</text><use href="#s" x="646.5" y="1781.3"/><text class="n" transform="translate(646.5 1781.3) rotate(-45)" x="-0.1" y="1.35">7</text><use href="#s" x="671.5" y="1781.3"/><text class="n" transform="translate(671.5 1781.3) rotate(-45)" x="-0.1" y="1.35">8</text><use href="#s" x="696.5" y="1781.3"/><text class="n" transform="translate(696.5 1781.3) rotate(-45)" x="-0.1" y="1.35">9</text><use href="#s" x="721.5" y="1781.3"/><text class="n" transform="translate(721.5 1781.3) rotate(-45)" x="-0.1" y="1.35">10</text><use href="#s" x="746.5" y="1781.3"/><text class="n" transform="translate(746.5 1781.3) rotate(-45)" x="-0.1" y="1.35">11</text><use href="#s" x="771.5" y="1781.3"/><text class="n" transform="translate(771.5 1781.3) rotate(-45)" x="-0.1" y="1.35">12</text><use href="#s" x="796.5" y="1781.3"/><text class="n" transform="translate(796.5 1781.3) rotate(-45)" x="-0.1" y="1.35">13</text><use href="#s" x="821.5" y="1781.3"/><text class="n" transform="translate(821.5 1781.3) rotate(-45)" x="-0.1" y="1.35">14</text><use href="#s" x="846.5" y="1781.3"/><text class="n" transform="translate(846.5 1781.3) rotate(-45)" x="-0.1" y="1.35">15</text><use href="#s" x="871.5" y="1781.3"/><text class="n" transform="translate(871.5 1781.3) rotate(-45)" x="-0.1" y="1.35">16</text><use href="#s" x="1156.5" y="1781.3"/><text class="n" transform="translate(1156.5 1781.3) rotate(-45)" x="-0.1" y="1.35">25</text><use href="#s" x="1181.5" y="1781.3"/><text class="n" transform="translate(1181.5 1781.3) rotate(-45)" x="-0.1" y="1.35">26</text><use href="#s" x="1206.5" y="1781.3"/><text class="n" transform="translate(1206.5 1781.3) rotate(-45)" x="-0.1" y="1.35">27</text><use href="#s" x="1231.5" y="1781.3"/><text class="n" transform="translate(1231.5 1781.3) rotate(-45)" x="-0.1" y="1.35">28</text><use href="#s" x="1256.5" y="1781.3"/><text class="n" transform="translate(1256.5 1781.3) rotate(-45)" x="-0.1" y="1.35">29</text><use href="#s" x="1281.5" y="1781.3"/><text class="n" transform="translate(1281.5 1781.3) rotate(-45)" x="-0.1" y="1.35">30</text><use href="#s" x="1306.5" y="1781.3"/><text class="n" transform="translate(1306.5 1781.3) rotate(-45)" x="-0.1" y="1.35">31</text><use href="#s" x="1331.5" y="1781.3"/><text class="n" transform="translate(1331.5 1781.3) rotate(-45)" x="-0.1" y="1.35">32</text>
<use href="#s" x="1423.5" y="1381.55"/><text class="n" transform="translate(1423.5 1381.55) rotate(-45)" x="-0.1" y="1.35">1</text><use href="#s" x="1448.5" y="1381.55"/><text class="n" transform="translate(1448.5 1381.55) rotate(-45)" x="-0.1" y="1.35">2</text><use href="#s" x="1473.5" y="1381.55"/><text class="n" transform="translate(1473.5 1381.55) rotate(-45)" x="-0.1" y="1.35">3</text><use href="#s" x="1498.5" y="1381.55"/><text class="n" transform="translate(1498.5 1381.55) rotate(-45)" x="-0.1" y="1.35">4</text><use href="#s" x="1523.5" y="1381.55"/><text class="n" transform="translate(1523.5 1381.55) rotate(-45)" x="-0.1" y="1.35">5</text><use href="#s" x="1548.5" y="1381.55"/><text class="n" transform="translate(1548.5 1381.55) rotate(-45)" x="-0.1" y="1.35">6</text><use href="#s" x="1573.5" y="1381.55"/><text class="n" transform="translate(1573.5 1381.55) rotate(-45)" x="-0.1" y="1.35">7</text><use href="#s" x="1598.5" y="1381.55"/><text class="n" transform="translate(1598.5 1381.55) rotate(-45)" x="-0.1" y="1.35">8</text><use href="#s" x="1623.5" y="1381.55"/><text class="n" transform="translate(1623.5 1381.55) rotate(-45)" x="-0.1" y="1.35">9</text><use href="#s" x="1648.5" y="1381.55"/><text class="n" transform="translate(1648.5 1381.55) rotate(-45)" x="-0.1" y="1.35">10</text>
<use href="#s" x="1423.5" y="1356.55"/><text class="n" transform="translate(1423.5 1356.55) rotate(-45)" x="-0.1" y="1.35">1</text><use href="#s" x="1448.5" y="1356.55"/><text class="n" transform="translate(1448.5 1356.55) rotate(-45)" x="-0.1" y="1.35">2</text><use href="#s" x="1473.5" y="1356.55"/><text class="n" transform="translate(1473.5 1356.55) rotate(-45)" x="-0.1" y="1.35">3</text><use href="#s" x="1498.5" y="1356.55"/><text class="n" transform="translate(1498.5 1356.55) rotate(-45)" x="-0.1" y="1.35">4</text><use href="#s" x="1523.5" y="1356.55"/><text class="n" transform="translate(1523.5 1356.55) rotate(-45)" x="-0.1" y="1.35">5</text><use href="#s" x="1548.5" y="1356.55"/><text class="n" transform="translate(1548.5 1356.55) rotate(-45)" x="-0.1" y="1.35">6</text><use href="#s" x="1573.5" y="1356.55"/><text class="n" transform="translate(1573.5 1356.55) rotate(-45)" x="-0.1" y="1.35">7</text><use href="#s" x="1598.5" y="1356.55"/><text class="n" transform="translate(1598.5 1356.55) rotate(-45)" x="-0.1" y="1.35">8</text><use href="#s" x="1623.5" y="1356.55"/><text class="n" transform="translate(1623.5 1356.55) rotate(-45)" x="-0.1" y="1.35">9</text><use href="#s" x="1648.5" y="1356.55"/><text class="n" transform="translate(1648.5 1356.55) rotate(-45)" x="-0.1" y="1.35">10</text>
<use href="#s" x="1423.5" y="1331.55"/><text class="n" transform="translate(1423.5 1331.55) rotate(-45)" x="-0.1" y="1.35">1</text><use href="#s" x="1448.5" y="1331.55"/><text class="n" transform="translate(1448.5 1331.55) rotate(-45)" x="-0.1" y="1.35">2</text><use href="#s" x="1473.5" y="1331.55"/><text class="n" transform="translate(1473.5 1331.55) rotate(-45)" x="-0.1" y="1.35">3</text><use href="#s" x="1498.5" y="1331.55"/><text class="n" transform="translate(1498.5 1331.55) rotate(-45)" x="-0.1" y="1.35">4</text><use href="#s" x="1523.5" y="1331.55"/><text class="n" transform="translate(1523.5 1331.55) rotate(-45)" x="-0.1" y="1.35">5</text><use href="#s" x="1548.5" y="1331.55"/><text class="n" transform="translate(1548.5 1331.55) rotate(-45)" x="-0.1" y="1.35">6</text><use href="#s" x="1573.5" y="1331.55"/><text class="n" transform="translate(1573.5 1331.55) rotate(-45)" x="-0.1" y="1.35">7</text><use href="#s" x="1598.5" y="1331.55"/><text class="n" transform="translate(1598.5 1331.55) rotate(-45)" x="-0.1" y="1.35">8</text><use href="#s" x="1623.5" y="1331.55"/><text class="n" transform="translate(1623.5 1331.55) rotate(-45)" x="-0.1" y="1.35">9</text><use href="#s" x="1648.5" y="1331.55"/><text class="n" transform="translate(1648.5 1331.55) rotate(-45)" x="-0.1" y="1.35">10</text>
<use href="#s" x="1423.5" y="1306.55"/><text class="n" transform="translate(1423.5 1306.55) rotate(-45)" x="-0.1" y="1.35">1</text><use href="#s" x="1448.5" y="1306.55"/><text class="n" transform="translate(1448.5 1306.55) rotate(-45)" x="-0.1" y="1.35">2</text><use href="#s" x="1473.5" y="1306.55"/><text class="n" transform="translate(1473.5 1306.55) rotate(-45)" x="-0.1" y="1.35">3</text><use href="#s" x="1498.5" y="1306.55"/><text class="n" transform="translate(1498.5 1306.55) rotate(-45)" x="-0.1" y="1.35">4</text><use href="#s" x="1523.5" y="1306.55"/><text class="n" transform="translate(1523.5 1306.55) rotate(-45)" x="-0.1" y="1.35">5</text><use href="#s" x="1548.5" y="1306.55"/><text class="n" transform="translate(1548.5 1306.55) rotate(-45)" x="-0.1" y="1.35">6</text><use href="#s" x="1573.5" y="1306.55"/><text class="n" transform="translate(1573.5 1306.55) rotate(-45)" x="-0.1" y="1.35">7</text><use href="#s" x="1598.5" y="1306.55"/><text class="n" transform="translate(1598.5 1306.55) rotate(-45)" x="-0.1" y="1.35">8</text><use href="#s" x="1623.5" y="1306.55"/><text class="n" transform="translate(1623.5 1306.55) rotate(-45)" x="-0.1" y="1.35">9</text><use href="#s" x="1648.5" y="1306.55"/><text class="n" transform="translate(1648.5 1306.55) rotate(-45)" x="-0.1" y="1.35">10</text>
<use href="#s" x="1423.5" y="1281.55"/><text class="n" transform="translate(1423.5 1281.55) rotate(-45)" x="-0.1" y="1.35">1</text><use href="#s" x="1448.5" y="1281.55"/><text class="n" transform="translate(1448.5 1281.55) rotate(-45)" x="-0.1" y="1.35">2</text><use href="#s" x="1473.5" y="1281.55"/><text class="n" transform="translate(1473.5 1281.55) rotate(-45)" x="-0.1" y="1.35">3</text><use href="#s" x="1498.5" y="1281.55"/><text class="n" transform="translate(1498.5 1281.55) rotate(-45)" x="-0.1" y="1.35">4</text><use href="#s" x="1523.5" y="1281.55"/><text class="n" transform="translate(1523.5 1281.55) rotate(-45)" x="-0.1" y="1.35">5</text><use href="#s" x="1548.5" y="1281.55"/><text class="n" transform="translate(1548.5 1281.55) rotate(-45)" x="-0.1" y="1.35">6</text><use href="#s" x="1573.5" y="1281.55"/><text class="n" transform="translate(1573.5 1281.55) rotate(-45)" x="-0.1" y="1.35">7</text><use href="#s" x="1598.5" y="1281.55"/><text class="n" transform="translate(1598.5 1281.55) rotate(-45)" x="-0.1" y="1.35">8</text><use href="#s" x="1623.5" y="1281.55"/><text class="n" transform="translate(1623.5 1281.55) rotate(-45)" x="-0.1" y="1.35">9</text><use href="#s" x="1648.5" y="1281.55"/><text class="n" transform="translate(1648.5 1281.55) rotate(-45)" x="-0.1" y="1.35">10</text>
<use href="#s" x="1423.5" y="1256.55"/><text class="n" transform="translate(1423.5 1256.55) rotate(-45)" x="-0.1" y="1.35">1</text><use href="#s" x="1448.5" y="1256.55"/><text class="n" transform="translate(1448.5 1256.55) rotate(-45)" x="-0.1" y="1.35">2</text><use href="#s" x="1473.5" y="1256.55"/><text class="n" transform="translate(1473.5 1256.55) rotate(-45)" x="-0.1" y="1.35">3</text><use href="#s" x="1498.5" y="1256.55"/><text class="n" transform="translate(1498.5 1256.55) rotate(-45)" x="-0.1" y="1.35">4</text><use href="#s" x="1523.5" y="1256.55"/><text class="n" transform="translate(1523.5 1256.55) rotate(-45)" x="-0.1" y="1.35">5</text><use href="#s" x="1548.5" y="1256.55"/><text class="n" transform="translate(1548.5 1256.55) rotate(-45)" x="-0.1" y="1.35">6</text><use href="#s" x="1573.5" y="1256.55"/><text class="n" transform="translate(1573.5 1256.55) rotate(-45)" x="-0.1" y="1.35">7</text><use href="#s" x="1598.5" y="1256.55"/><text class="n" transform="translate(1598.5 1256.55) rotate(-45)" x="-0.1" y="1.35">8</text><use href="#s" x="1623.5" y="1256.55"/><text class="n" transform="translate(1623.5 1256.55) rotate(-45)" x="-0.1" y="1.35">9</text><use href="#s" x="1648.5" y="1256.55"/><text class="n" transform="translate(1648.5 1256.55) rotate(-45)" x="-0.1" y="1.35">10</text>
<use href="#s" x="1423.5" y="1201.55"/><text class="n" transform="translate(1423.5 1201.55) rotate(-45)" x="-0.1" y="1.35">1</text><use href="#s" x="1448.5" y="1201.55"/><text class="n" transform="translate(1448.5 1201.55) rotate(-45)" x="-0.1" y="1.35">2</text><use href="#s" x="1473.5" y="1201.55"/><text class="n" transform="translate(1473.5 1201.55) rotate(-45)" x="-0.1" y="1.35">3</text><use href="#s" x="1498.5" y="1201.55"/><text class="n" transform="translate(1498.5 1201.55) rotate(-45)" x="-0.1" y="1.35">4</text><use href="#s" x="1523.5" y="1201.55"/><text class="n" transform="translate(1523.5 1201.55) rotate(-45)" x="-0.1" y="1.35">5</text><use href="#s" x="1548.5" y="1201.55"/><text class="n" transform="translate(1548.5 1201.55) rotate(-45)" x="-0.1" y="1.35">6</text><use href="#s" x="1573.5" y="1201.55"/><text class="n" transform="translate(1573.5 1201.55) rotate(-45)" x="-0.1" y="1.35">7</text><use href="#s" x="1598.5" y="1201.55"/><text class="n" transform="translate(1598.5 1201.55) rotate(-45)" x="-0.1" y="1.35">8</text><use href="#s" x="1623.5" y="1201.55"/><text class="n" transform="translate(1623.5 1201.55) rotate(-45)" x="-0.1" y="1.35">9</text><use href="#s" x="1648.5" y="1201.55"/><text class="n" transform="translate(1648.5 1201.55) rotate(-45)" x="-0.1" y="1.35">10</text>
<use href="#s" x="1423.5" y="1176.55"/><text class="n" transform="translate(1423.5 1176.55) rotate(-45)" x="-0.1" y="1.35">1</text><use href="#s" x="1448.5" y="1176.55"/><text class="n" transform="translate(1448.5 1176.55) rotate(-45)" x="-0.1" y="1.35">2</text><use href="#s" x="1473.5" y="1176.55"/><text class="n" transform="translate(1473.5 1176.55) rotate(-45)" x="-0.1" y="1.35">3</text><use href="#s" x="1498.5" y="1176.55"/><text class="n" transform="translate(1498.5 1176.55) rotate(-45)" x="-0.1" y="1.35">4</text><use href="#s" x="1523.5" y="1176.55"/><text class="n" transform="translate(1523.5 1176.55) rotate(-45)" x="-0.1" y="1.35">5</text><use href="#s" x="1548.5" y="1176.55"/><text class="n" transform="translate(1548.5 1176.55) rotate(-45)" x="-0.1" y="1.35">6</text><use href="#s" x="1573.5" y="1176.55"/><text class="n" transform="translate(1573.5 1176.55) rotate(-45)" x="-0.1" y="1.35">7</text><use href="#s" x="1598.5" y="1176.55"/><text class="n" transform="translate(1598.5 1176.55) rotate(-45)" x="-0.1" y="1.35">8</text><use href="#s" x="1623.5" y="1176.55"/><text class="n" transform="translate(1623.5 1176.55) rotate(-45)" x="-0.1" y="1.35">9</text><use href="#s" x="1648.5" y="1176.55"/><text class="n" transform="translate(1648.5 1176.55) rotate(-45)" x="-0.1" y="1.35">10</text>
<use href="#s" x="1423.5" y="1151.55"/><text class="n" transform="translate(1423.5 1151.55) rotate(-45)" x="-0.1" y="1.35">1</text><use href="#s" x="1448.5" y="1151.55"/><text class="n" transform="translate(1448.5 1151.55) rotate(-45)" x="-0.1" y="1.35">2</text><use href="#s" x="1473.5" y="1151.55"/><text class="n" transform="translate(1473.5 1151.55) rotate(-45)" x="-0.1" y="1.35">3</text><use href="#s" x="1498.5" y="1151.55"/><text class="n" transform="translate(1498.5 1151.55) rotate(-45)" x="-0.1" y="1.35">4</text><use href="#s" x="1523.5" y="1151.55"/><text class="n" transform="translate(1523.5 1151.55) rotate(-45)" x="-0.1" y="1.35">5</text><use href="#s" x="1548.5" y="1151.55"/><text class="n" transform="translate(1548.5 1151.55) rotate(-45)" x="-0.1" y="1.35">6</text><use href="#s" x="1573.5" y="1151.55"/><text class="n" transform="translate(1573.5 1151.55) rotate(-45)" x="-0.1" y="1.35">7</text><use href="#s" x="1598.5" y="1151.55"/><text class="n" transform="translate(1598.5 1151.55) rotate(-45)" x="-0.1" y="1.35">8</text><use href="#s" x="1623.5" y="1151.55"/><text class="n" transform="translate(1623.5 1151.55) rotate(-45)" x="-0.1" y="1.35">9</text><use href="#s" x="1648.5" y="1151.55"/><text class="n" transform="translate(1648.5 1151.55) rotate(-45)" x="-0.1" y="1.35">10</text>
<use href="#s" x="1423.5" y="1126.55"/><text class="n" transform="translate(1423.5 1126.55) rotate(-45)" x="-0.1" y="1.35">1</text><use href="#s" x="1448.5" y="1126.55"/><text class="n" transform="translate(1448.5 1126.55) rotate(-45)" x="-0.1" y="1.35">2</text><use href="#s" x="1473.5" y="1126.55"/><text class="n" transform="translate(1473.5 1126.55) rotate(-45)" x="-0.1" y="1.35">3</text><use href="#s" x="1498.5" y="1126.55"/><text class="n" transform="translate(1498.5 1126.55) rotate(-45)" x="-0.1" y="1.35">4</text><use href="#s" x="1523.5" y="1126.55"/><text class="n" transform="translate(1523.5 1126.55) rotate(-45)" x="-0.1" y="1.35">5</text><use href="#s" x="1548.5" y="1126.55"/><text class="n" transform="translate(1548.5 1126.55) rotate(-45)" x="-0.1" y="1.35">6</text><use href="#s" x="1573.5" y="1126.55"/><text class="n" transform="translate(1573.5 1126.55) rotate(-45)" x="-0.1" y="1.35">7</text><use href="#s" x="1598.5" y="1126.55"/><text class="n" transform="translate(1598.5 1126.55) rotate(-45)" x="-0.1" y="1.35">8</text><use href="#s" x="1623.5" y="1126.55"/><text class="n" transform="translate(1623.5 1126.55) rotate(-45)" x="-0.1" y="1.35">9</text><use href="#s" x="1648.5" y="1126.55"/><text class="n" transform="translate(1648.5 1126.55) rotate(-45)" x="-0.1" y="1.35">10</text>
<use href="#s" x="1423.5" y="1101.55"/><text class="n" transform="translate(1423.5 1101.55) rotate(-45)" x="-0.1" y="1.35">1</text><use href="#s" x="1448.5" y="1101.55"/><text class="n" transform="translate(1448.5 1101.55) rotate(-45)" x="-0.1" y="1.35">2</text><use href="#s" x="1473.5" y="1101.55"/><text class="n" transform="translate(1473.5 1101.55) rotate(-45)" x="-0.1" y="1.35">3</text><use href="#s" x="1498.5" y="1101.55"/><text class="n" transform="translate(1498.5 1101.55) rotate(-45)" x="-0.1" y="1.35">4</text><use href="#s" x="1523.5" y="1101.55"/><text class="n" transform="translate(1523.5 1101.55) rotate(-45)" x="-0.1" y="1.35">5</text><use href="#s" x="1548.5" y="1101.55"/><text class="n" transform="translate(1548.5 1101.55) rotate(-45)" x="-0.1" y="1.35">6</text><use href="#s" x="1573.5" y="1101.55"/><text class="n" transform="translate(1573.5 1101.55) rotate(-45)" x="-0.1" y="1.35">7</text><use href="#s" x="1598.5" y="1101.55"/><text class="n" transform="translate(1598.5 1101.55) rotate(-45)" x="-0.1" y="1.35">8</text><use href="#s" x="1623.5" y="1101.55"/><text class="n" transform="translate(1623.5 1101.55) rotate(-45)" x="-0.1" y="1.35">9</text><use href="#s" x="1648.5" y="1101.55"/><text class="n" transform="translate(1648.5 1101.55) rotate(-45)" x="-0.1" y="1.35">10</text>
<use href="#s" x="1423.5" y="1076.55"/><text class="n" transform="translate(1423.5 1076.55) rotate(-45)" x="-0.1" y="1.35">1</text><use href="#s" x="1448.5" y="1076.55"/><text class="n" transform="translate(1448.5 1076.55) rotate(-45)" x="-0.1" y="1.35">2</text><use href="#s" x="1473.5" y="1076.55"/><text class="n" transform="translate(1473.5 1076.55) rotate(-45)" x="-0.1" y="1.35">3</text><use href="#s" x="1498.5" y="1076.55"/><text class="n" transform="translate(1498.5 1076.55) rotate(-45)" x="-0.1" y="1.35">4</text><use href="#s" x="1523.5" y="1076.55"/><text class="n" transform="translate(1523.5 1076.55) rotate(-45)" x="-0.1" y="1.35">5</text><use href="#s" x="1548.5" y="1076.55"/><text class="n" transform="translate(1548.5 1076.55) rotate(-45)" x="-0.1" y="1.35">6</text><use href="#s" x="1573.5" y="1076.55"/><text class="n" transform="translate(1573.5 1076.55) rotate(-45)" x="-0.1" y="1.35">7</text><use href="#s" x="1598.5" y="1076.55"/><text class="n" transform="translate(1598.5 1076.55) rotate(-45)" x="-0.1" y="1.35">8</text><use href="#s" x="1623.5" y="1076.55"/><text class="n" transform="translate(1623.5 1076.55) rotate(-45)" x="-0.1" y="1.35">9</text><use href="#s" x="1648.5" y="1076.55"/><text class="n" transform="translate(1648.5 1076.55) rotate(-45)" x="-0.1" y="1.35">10</text>
<use href="#s" x="1423.5" y="1051.55"/><text class="n" transform="translate(1423.5 1051.55) rotate(-45)" x="-0.1" y="1.35">1</text><use href="#s" x="1448.5" y="1051.55"/><text class="n" transform="translate(1448.5 1051.55) rotate(-45)" x="-0.1" y="1.35">2</text><use href="#s" x="1473.5" y="1051.55"/><text class="n" transform="translate(1473.5 1051.55) rotate(-45)" x="-0.1" y="1.35">3</text><use href="#s" x="1498.5" y="1051.55"/><text class="n" transform="translate(1498.5 1051.55) rotate(-45)" x="-0.1" y="1.35">4</text><use href="#s" x="1523.5" y="1051.55"/><text class="n" transform="translate(1523.5 1051.55) rotate(-45)" x="-0.1" y="1.35">5</text><use href="#s" x="1548.5" y="1051.55"/><text class="n" transform="translate(1548.5 1051.55) rotate(-45)" x="-0.1" y="1.35">6</text><use href="#s" x="1573.5" y="1051.55"/><text class="n" transform="translate(1573.5 1051.55) rotate(-45)" x="-0.1" y="1.35">7</text><use href="#s" x="1598.5" y="1051.55"/><text class="n" transform="translate(1598.5 1051.55) rotate(-45)" x="-0.1" y="1.35">8</text><use href="#s" x="1623.5" y="1051.55"/><text class="n" transform="translate(1623.5 1051.55) rotate(-45)" x="-0.1" y="1.35">9</text><use href="#s" x="1648.5" y="1051.55"/><text class="n" transform="translate(1648.5 1051.55) rotate(-45)" x="-0.1" y="1.35">10</text>
<use href="#s" x="1423.5" y="1026.55"/><text class="n" transform="translate(1423.5 1026.55) rotate(-45)" x="-0.1" y="1.35">1</text><use href="#s" x="1448.5" y="1026.55"/><text class="n" transform="translate(1448.5 1026.55) rotate(-45)" x="-0.1" y="1.35">2</text><use href="#s" x="1473.5" y="1026.55"/><text class="n" transform="translate(1473.5 1026.55) rotate(-45)" x="-0.1" y="1.35">3</text><use href="#s" x="1498.5" y="1026.55"/><text class="n" transform="translate(1498.5 1026.55) rotate(-45)" x="-0.1" y="1.35">4</text><use href="#s" x="1523.5" y="1026.55"/><text class="n" transform="translate(1523.5 1026.55) rotate(-45)" x="-0.1" y="1.35">5</text><use href="#s" x="1548.5" y="1026.55"/><text class="n" transform="translate(1548.5 1026.55) rotate(-45)" x="-0.1" y="1.35">6</text><use href="#s" x="1573.5" y="1026.55"/><text class="n" transform="translate(1573.5 1026.55) rotate(-45)" x="-0.1" y="1.35">7</text><use href="#s" x="1598.5" y="1026.55"/><text class="n" transform="translate(1598.5 1026.55) rotate(-45)" x="-0.1" y="1.35">8</text><use href="#s" x="1623.5" y="1026.55"/><text class="n" transform="translate(1623.5 1026.55) rotate(-45)" x="-0.1" y="1.35">9</text><use href="#s" x="1648.5" y="1026.55"/><text class="n" transform="translate(1648.5 1026.55) rotate(-45)" x="-0.1" y="1.35">10</text>
<use href="#s" x="1423.5" y="1001.55"/><text class="n" transform="translate(1423.5 1001.55) rotate(-45)" x="-0.1" y="1.35">1</text><use href="#s" x="1448.5" y="1001.55"/><text class="n" transform="translate(1448.5 1001.55) rotate(-45)" x="-0.1" y="1.35">2</text><use href="#s" x="1473.5" y="1001.55"/><text class="n" transform="translate(1473.5 1001.55) rotate(-45)" x="-0.1" y="1.35">3</text><use href="#s" x="1498.5" y="1001.55"/><text class="n" transform="translate(1498.5 1001.55) rotate(-45)" x="-0.1" y="1.35">4</text><use href="#s" x="1523.5" y="1001.55"/><text class="n" transform="translate(1523.5 1001.55) rotate(-45)" x="-0.1" y="1.35">5</text><use href="#s" x="1548.5" y="1001.55"/><text class="n" transform="translate(1548.5 1001.55) rotate(-45)" x="-0.1" y="1.35">6</text><use href="#s" x="1573.5" y="1001.55"/><text class="n" transform="translate(1573.5 1001.55) rotate(-45)" x="-0.1" y="1.35">7</text><use href="#s" x="1598.5" y="1001.55"/><text class="n" transform="translate(1598.5 1001.55) rotate(-45)" x="-0.1" y="1.35">8</text><use href="#s" x="1623.5" y="1001.55"/><text class="n" transform="translate(1623.5 1001.55) rotate(-45)" x="-0.1" y="1.35">9</text><use href="#s" x="1648.5" y="1001.55"/><text class="n" transform="translate(1648.5 1001.55) rotate(-45)" x="-0.1" y="1.35">10</text>
<use href="#s" x="1423.5" y="976.55"/><text class="n" transform="translate(1423.5 976.55) rotate(-45)" x="-0.1" y="1.35">1</text><use href="#s" x="1448.5" y="976.55"/><text class="n" transform="translate(1448.5 976.55) rotate(-45)" x="-0.1" y="1.35">2</text><use href="#s" x="1473.5" y="976.55"/><text class="n" transform="translate(1473.5 976.55) rotate(-45)" x="-0.1" y="1.35">3</text><use href="#s" x="1498.5" y="976.55"/><text class="n" transform="translate(1498.5 976.55) rotate(-45)" x="-0.1" y="1.35">4</text><use href="#s" x="1523.5" y="976.55"/><text class="n" transform="translate(1523.5 976.55) rotate(-45)" x="-0.1" y="1.35">5</text><use href="#s" x="1548.5" y="976.55"/><text class="n" transform="translate(1548.5 976.55) rotate(-45)" x="-0.1" y="1.35">6</text><use href="#s" x="1573.5" y="976.55"/><text class="n" transform="translate(1573.5 976.55) rotate(-45)" x="-0.1" y="1.35">7</text><use href="#s" x="1598.5" y="976.55"/><text class="n" transform="translate(1598.5 976.55) rotate(-45)" x="-0.1" y="1.35">8</text><use href="#s" x="1623.5" y="976.55"/><text class="n" transform="translate(1623.5 976.55) rotate(-45)" x="-0.1" y="1.35">9</text><use href="#s" x="1648.5" y="976.55"/><text class="n" transform="translate(1648.5 976.55) rotate(-45)" x="-0.1" y="1.35">10</text>
<use href="#s" x="1423.5" y="951.55"/><text class="n" transform="translate(1423.5 951.55) rotate(-45)" x="-0.1" y="1.35">1</text><use href="#s" x="1448.5" y="951.55"/><text class="n" transform="translate(1448.5 951.55) rotate(-45)" x="-0.1" y="1.35">2</text><use href="#s" x="1473.5" y="951.55"/><text class="n" transform="translate(1473.5 951.55) rotate(-45)" x="-0.1" y="1.35">3</text><use href="#s" x="1498.5" y="951.55"/><text class="n" transform="translate(1498.5 951.55) rotate(-45)" x="-0.1" y="1.35">4</text><use href="#s" x="1523.5" y="951.55"/><text class="n" transform="translate(1523.5 951.55) rotate(-45)" x="-0.1" y="1.35">5</text><use href="#s" x="1548.5" y="951.55"/><text class="n" transform="translate(1548.5 951.55) rotate(-45)" x="-0.1" y="1.35">6</text><use href="#s" x="1573.5" y="951.55"/><text class="n" transform="translate(1573.5 951.55) rotate(-45)" x="-0.1" y="1.35">7</text><use href="#s" x="1598.5" y="951.55"/><text class="n" transform="translate(1598.5 951.55) rotate(-45)" x="-0.1" y="1.35">8</text><use href="#s" x="1623.5" y="951.55"/><text class="n" transform="translate(1623.5 951.55) rotate(-45)" x="-0.1" y="1.35">9</text><use href="#s" x="1648.5" y="951.55"/><text class="n" transform="translate(1648.5 951.55) rotate(-45)" x="-0.1" y="1.35">10</text>
<use href="#s" x="1423.5" y="926.55"/><text class="n" transform="translate(1423.5 926.55) rotate(-45)" x="-0.1" y="1.35">1</text><use href="#s" x="1448.5" y="926.55"/><text class="n" transform="translate(1448.5 926.55) rotate(-45)" x="-0.1" y="1.35">2</text><use href="#s" x="1473.5" y="926.55"/><text class="n" transform="translate(1473.5 926.55) rotate(-45)" x="-0.1" y="1.35">3</text><use href="#s" x="1498.5" y="926.55"/><text class="n" transform="translate(1498.5 926.55) rotate(-45)" x="-0.1" y="1.35">4</text><use href="#s" x="1523.5" y="926.55"/><text class="n" transform="translate(1523.5 926.55) rotate(-45)" x="-0.1" y="1.35">5</text><use href="#s" x="1548.5" y="926.55"/><text class="n" transform="translate(1548.5 926.55) rotate(-45)" x="-0.1" y="1.35">6</text><use href="#s" x="1573.5" y="926.55"/><text class="n" transform="translate(1573.5 926.55) rotate(-45)" x="-0.1" y="1.35">7</text><use href="#s" x="1598.5" y="926.55"/><text class="n" transform="translate(1598.5 926.55) rotate(-45)" x="-0.1" y="1.35">8</text><use href="#s" x="1623.5" y="926.55"/><text class="n" transform="translate(1623.5 926.55) rotate(-45)" x="-0.1" y="1.35">9</text><use href="#s" x="1648.5" y="926.55"/><text class="n" transform="translate(1648.5 926.55) rotate(-45)" x="-0.1" y="1.35">10</text>
<use href="#s" x="1422.5" y="848.3"/><text class="n" transform="translate(1422.5 848.3) rotate(-45)" x="-0.1" y="1.35">1</text><use href="#s" x="1447.5" y="848.3"/><text class="n" transform="translate(1447.5 848.3) rotate(-45)" x="-0.1" y="1.35">2</text><use href="#s" x="1472.5" y="848.3"/><text class="n" transform="translate(1472.5 848.3) rotate(-45)" x="-0.1" y="1.35">3</text><use href="#s" x="1497.5" y="848.3"/><text class="n" transform="translate(1497.5 848.3) rotate(-45)" x="-0.1" y="1.35">4</text><use href="#s" x="1522.5" y="848.3"/><text class="n" transform="translate(1522.5 848.3) rotate(-45)" x="-0.1" y="1.35">5</text><use href="#s" x="1547.5" y="848.3"/><text class="n" transform="translate(1547.5 848.3) rotate(-45)" x="-0.1" y="1.35">6</text><use href="#s" x="1572.5" y="848.3"/><text class="n" transform="translate(1572.5 848.3) rotate(-45)" x="-0.1" y="1.35">7</text><use href="#s" x="1597.5" y="848.3"/><text class="n" transform="translate(1597.5 848.3) rotate(-45)" x="-0.1" y="1.35">8</text><use href="#s" x="1622.5" y="848.3"/><text class="n" transform="translate(1622.5 848.3) rotate(-45)" x="-0.1" y="1.35">9</text><use href="#s" x="1647.5" y="848.3"/><text class="n" transform="translate(1647.5 848.3) rotate(-45)" x="-0.1" y="1.35">10</text>
<use href="#s" x="1422.5" y="823.3"/><text class="n" transform="translate(1422.5 823.3) rotate(-45)" x="-0.1" y="1.35">1</text><use href="#s" x="1447.5" y="823.3"/><text class="n" transform="translate(1447.5 823.3) rotate(-45)" x="-0.1" y="1.35">2</text><use href="#s" x="1472.5" y="823.3"/><text class="n" transform="translate(1472.5 823.3) rotate(-45)" x="-0.1" y="1.35">3</text><use href="#s" x="1497.5" y="823.3"/><text class="n" transform="translate(1497.5 823.3) rotate(-45)" x="-0.1" y="1.35">4</text><use href="#s" x="1522.5" y="823.3"/><text class="n" transform="translate(1522.5 823.3) rotate(-45)" x="-0.1" y="1.35">5</text><use href="#s" x="1547.5" y="823.3"/><text class="n" transform="translate(1547.5 823.3) rotate(-45)" x="-0.1" y="1.35">6</text><use href="#s" x="1572.5" y="823.3"/><text class="n" transform="translate(1572.5 823.3) rotate(-45)" x="-0.1" y="1.35">7</text><use href="#s" x="1597.5" y="823.3"/><text class="n" transform="translate(1597.5 823.3) rotate(-45)" x="-0.1" y="1.35">8</text><use href="#s" x="1622.5" y="823.3"/><text class="n" transform="translate(1622.5 823.3) rotate(-45)" x="-0.1" y="1.35">9</text><use href="#s" x="1647.5" y="823.3"/><text class="n" transform="translate(1647.5 823.3) rotate(-45)" x="-0.1" y="1.35">10</text>
<use href="#s" x="1422.5" y="798.3"/><text class="n" transform="translate(1422.5 798.3) rotate(-45)" x="-0.1" y="1.35">1</text><use href="#s" x="1447.5" y="798.3"/><text class="n" transform="translate(1447.5 798.3) rotate(-45)" x="-0.1" y="1.35">2</text><use href="#s" x="1472.5" y="798.3"/><text class="n" transform="translate(1472.5 798.3) rotate(-45)" x="-0.1" y="1.35">3</text><use href="#s" x="1497.5" y="798.3"/><text class="n" transform="translate(1497.5 798.3) rotate(-45)" x="-0.1" y="1.35">4</text><use href="#s" x="1522.5" y="798.3"/><text class="n" transform="translate(1522.5 798.3) rotate(-45)" x="-0.1" y="1.35">5</text><use href="#s" x="1547.5" y="798.3"/><text class="n" transform="translate(1547.5 798.3) rotate(-45)" x="-0.1" y="1.35">6</text><use href="#s" x="1572.5" y="798.3"/><text class="n" transform="translate(1572.5 798.3) rotate(-45)" x="-0.1" y="1.35">7</text><use href="#s" x="1597.5" y="798.3"/><text class="n" transform="translate(1597.5 798.3) rotate(-45)" x="-0.1" y="1.35">8</text><use href="#s" x="1622.5" y="798.3"/><text class="n" transform="translate(1622.5 798.3) rotate(-45)" x="-0.1" y="1.35">9</text><use href="#s" x="1647.5" y="798.3"/><text class="n" transform="translate(1647.5 798.3) rotate(-45)" x="-0.1" y="1.35">10</text>
<use href="#s" x="1422.5" y="773.3"/><text class="n" transform="translate(1422.5 773.3) rotate(-45)" x="-0.1" y="1.35">1</text><use href="#s" x="1447.5" y="773.3"/><text class="n" transform="translate(1447.5 773.3) rotate(-45)" x="-0.1" y="1.35">2</text><use href="#s" x="1472.5" y="773.3"/><text class="n" transform="translate(1472.5 773.3) rotate(-45)" x="-0.1" y="1.35">3</text><use href="#s" x="1497.5" y="773.3"/><text class="n" transform="translate(1497.5 773.3) rotate(-45)" x="-0.1" y="1.35">4</text><use href="#s" x="1522.5" y="773.3"/><text class="n" transform="translate(1522.5 773.3) rotate(-45)" x="-0.1" y="1.35">5</text><use href="#s" x="1547.5" y="773.3"/><text class="n" transform="translate(1547.5 773.3) rotate(-45)" x="-0.1" y="1.35">6</text><use href="#s" x="1572.5" y="773.3"/><text class="n" transform="translate(1572.5 773.3) rotate(-45)" x="-0.1" y="1.35">7</text><use href="#s" x="1597.5" y="773.3"/><text class="n" transform="translate(1597.5 773.3) rotate(-45)" x="-0.1" y="1.35">8</text><use href="#s" x="1622.5" y="773.3"/><text class="n" transform="translate(1622.5 773.3) rotate(-45)" x="-0.1" y="1.35">9</text><use href="#s" x="1647.5" y="773.3"/><text class="n" transform="translate(1647.5 773.3) rotate(-45)" x="-0.1" y="1.35">10</text>
<use href="#s" x="1422.5" y="748.3"/><text class="n" transform="translate(1422.5 748.3) rotate(-45)" x="-0.1" y="1.35">1</text><use href="#s" x="1447.5" y="748.3"/><text class="n" transform="translate(1447.5 748.3) rotate(-45)" x="-0.1" y="1.35">2</text><use href="#s" x="1472.5" y="748.3"/><text class="n" transform="translate(1472.5 748.3) rotate(-45)" x="-0.1" y="1.35">3</text><use href="#s" x="1497.5" y="748.3"/><text class="n" transform="translate(1497.5 748.3) rotate(-45)" x="-0.1" y="1.35">4</text><use href="#s" x="1522.5" y="748.3"/><text class="n" transform="translate(1522.5 748.3) rotate(-45)" x="-0.1" y="1.35">5</text><use href="#s" x="1547.5" y="748.3"/><text class="n" transform="translate(1547.5 748.3) rotate(-45)" x="-0.1" y="1.35">6</text><use href="#s" x="1572.5" y="748.3"/><text class="n" transform="translate(1572.5 748.3) rotate(-45)" x="-0.1" y="1.35">7</text><use href="#s" x="1597.5" y="748.3"/><text class="n" transform="translate(1597.5 748.3) rotate(-45)" x="-0.1" y="1.35">8</text><use href="#s" x="1622.5" y="748.3"/><text class="n" transform="translate(1622.5 748.3) rotate(-45)" x="-0.1" y="1.35">9</text><use href="#s" x="1647.5" y="748.3"/><text class="n" transform="translate(1647.5 748.3) rotate(-45)" x="-0.1" y="1.35">10</text>
<use href="#s" x="1422.5" y="723.3"/><text class="n" transform="translate(1422.5 723.3) rotate(-45)" x="-0.1" y="1.35">1</text><use href="#s" x="1447.5" y="723.3"/><text class="n" transform="translate(1447.5 723.3) rotate(-45)" x="-0.1" y="1.35">2</text><use href="#s" x="1472.5" y="723.3"/><text class="n" transform="translate(1472.5 723.3) rotate(-45)" x="-0.1" y="1.35">3</text><use href="#s" x="1497.5" y="723.3"/><text class="n" transform="translate(1497.5 723.3) rotate(-45)" x="-0.1" y="1.35">4</text><use href="#s" x="1522.5" y="723.3"/><text class="n" transform="translate(1522.5 723.3) rotate(-45)" x="-0.1" y="1.35">5</text><use href="#s" x="1547.5" y="723.3"/><text class="n" transform="translate(1547.5 723.3) rotate(-45)" x="-0.1" y="1.35">6</text><use href="#s" x="1572.5" y="723.3"/><text class="n" transform="translate(1572.5 723.3) rotate(-45)" x="-0.1" y="1.35">7</text><use href="#s" x="1597.5" y="723.3"/><text class="n" transform="translate(1597.5 723.3) rotate(-45)" x="-0.1" y="1.35">8</text><use href="#s" x="1622.5" y="723.3"/><text class="n" transform="translate(1622.5 723.3) rotate(-45)" x="-0.1" y="1.35">9</text><use href="#s" x="1647.5" y="723.3"/><text class="n" transform="translate(1647.5 723.3) rotate(-45)" x="-0.1" y="1.35">10</text>
<use href="#s" x="1422.5" y="668.3"/><text class="n" transform="translate(1422.5 668.3) rotate(-45)" x="-0.1" y="1.35">1</text><use href="#s" x="1447.5" y="668.3"/><text class="n" transform="translate(1447.5 668.3) rotate(-45)" x="-0.1" y="1.35">2</text><use href="#s" x="1472.5" y="668.3"/><text class="n" transform="translate(1472.5 668.3) rotate(-45)" x="-0.1" y="1.35">3</text><use href="#s" x="1497.5" y="668.3"/><text class="n" transform="translate(1497.5 668.3) rotate(-45)" x="-0.1" y="1.35">4</text><use href="#s" x="1522.5" y="668.3"/><text class="n" transform="translate(1522.5 668.3) rotate(-45)" x="-0.1" y="1.35">5</text><use href="#s" x="1547.5" y="668.3"/><text class="n" transform="translate(1547.5 668.3) rotate(-45)" x="-0.1" y="1.35">6</text><use href="#s" x="1572.5" y="668.3"/><text class="n" transform="translate(1572.5 668.3) rotate(-45)" x="-0.1" y="1.35">7</text><use href="#s" x="1597.5" y="668.3"/><text class="n" transform="translate(1597.5 668.3) rotate(-45)" x="-0.1" y="1.35">8</text><use href="#s" x="1622.5" y="668.3"/><text class="n" transform="translate(1622.5 668.3) rotate(-45)" x="-0.1" y="1.35">9</text><use href="#s" x="1647.5" y="668.3"/><text class="n" transform="translate(1647.5 668.3) rotate(-45)" x="-0.1" y="1.35">10</text>
<use href="#s" x="1422.5" y="643.3"/><text class="n" transform="translate(1422.5 643.3) rotate(-45)" x="-0.1" y="1.35">1</text><use href="#s" x="1447.5" y="643.3"/><text class="n" transform="translate(1447.5 643.3) rotate(-45)" x="-0.1" y="1.35">2</text><use href="#s" x="1472.5" y="643.3"/><text class="n" transform="translate(1472.5 643.3) rotate(-45)" x="-0.1" y="1.35">3</text><use href="#s" x="1497.5" y="643.3"/><text class="n" transform="translate(1497.5 643.3) rotate(-45)" x="-0.1" y="1.35">4</text><use href="#s" x="1522.5" y="643.3"/><text class="n" transform="translate(1522.5 643.3) rotate(-45)" x="-0.1" y="1.35">5</text><use href="#s" x="1547.5" y="643.3"/><text class="n" transform="translate(1547.5 643.3) rotate(-45)" x="-0.1" y="1.35">6</text><use href="#s" x="1572.5" y="643.3"/><text class="n" transform="translate(1572.5 643.3) rotate(-45)" x="-0.1" y="1.35">7</text><use href="#s" x="1597.5" y="643.3"/><text class="n" transform="translate(1597.5 643.3) rotate(-45)" x="-0.1" y="1.35">8</text><use href="#s" x="1622.5" y="643.3"/><text class="n" transform="translate(1622.5 643.3) rotate(-45)" x="-0.1" y="1.35">9</text><use href="#s" x="1647.5" y="643.3"/><text class="n" transform="translate(1647.5 643.3) rotate(-45)" x="-0.1" y="1.35">10</text>
<use href="#s" x="1422.5" y="618.3"/><text class="n" transform="translate(1422.5 618.3) rotate(-45)" x="-0.1" y="1.35">1</text><use href="#s" x="1447.5" y="618.3"/><text class="n" transform="translate(1447.5 618.3) rotate(-45)" x="-0.1" y="1.35">2</text><use href="#s" x="1472.5" y="618.3"/><text class="n" transform="translate(1472.5 618.3) rotate(-45)" x="-0.1" y="1.35">3</text><use href="#s" x="1497.5" y="618.3"/><text class="n" transform="translate(1497.5 618.3) rotate(-45)" x="-0.1" y="1.35">4</text><use href="#s" x="1522.5" y="618.3"/><text class="n" transform="translate(1522.5 618.3) rotate(-45)" x="-0.1" y="1.35">5</text><use href="#s" x="1547.5" y="618.3"/><text class="n" transform="translate(1547.5 618.3) rotate(-45)" x="-0.1" y="1.35">6</text><use href="#s" x="1572.5" y="618.3"/><text class="n" transform="translate(1572.5 618.3) rotate(-45)" x="-0.1" y="1.35">7</text><use href="#s" x="1597.5" y="618.3"/><text class="n" transform="translate(1597.5 618.3) rotate(-45)" x="-0.1" y="1.35">8</text><use href="#s" x="1622.5" y="618.3"/><text class="n" transform="translate(1622.5 618.3) rotate(-45)" x="-0.1" y="1.35">9</text><use href="#s" x="1647.5" y="618.3"/><text class="n" transform="translate(1647.5 618.3) rotate(-45)" x="-0.1" y="1.35">10</text>
<use href="#s" x="1422.5" y="593.3"/><text class="n" transform="translate(1422.5 593.3) rotate(-45)" x="-0.1" y="1.35">1</text><use href="#s" x="1447.5" y="593.3"/><text class="n" transform="translate(1447.5 593.3) rotate(-45)" x="-0.1" y="1.35">2</text><use href="#s" x="1472.5" y="593.3"/><text class="n" transform="translate(1472.5 593.3) rotate(-45)" x="-0.1" y="1.35">3</text><use href="#s" x="1497.5" y="593.3"/><text class="n" transform="translate(1497.5 593.3) rotate(-45)" x="-0.1" y="1.35">4</text><use href="#s" x="1522.5" y="593.3"/><text class="n" transform="translate(1522.5 593.3) rotate(-45)" x="-0.1" y="1.35">5</text><use href="#s" x="1547.5" y="593.3"/><text class="n" transform="translate(1547.5 593.3) rotate(-45)" x="-0.1" y="1.35">6</text><use href="#s" x="1572.5" y="593.3"/><text class="n" transform="translate(1572.5 593.3) rotate(-45)" x="-0.1" y="1.35">7</text><use href="#s" x="1597.5" y="593.3"/><text class="n" transform="translate(1597.5 593.3) rotate(-45)" x="-0.1" y="1.35">8</text><use href="#s" x="1622.5" y="593.3"/><text class="n" transform="translate(1622.5 593.3) rotate(-45)" x="-0.1" y="1.35">9</text><use href="#s" x="1647.5" y="593.3"/><text class="n" transform="translate(1647.5 593.3) rotate(-45)" x="-0.1" y="1.35">10</text>
<use href="#s" x="1422.5" y="568.3"/><text class="n" transform="translate(1422.5 568.3) rotate(-45)" x="-0.1" y="1.35">1</text><use href="#s" x="1447.5" y="568.3"/><text class="n" transform="translate(1447.5 568.3) rotate(-45)" x="-0.1" y="1.35">2</text><use href="#s" x="1472.5" y="568.3"/><text class="n" transform="translate(1472.5 568.3) rotate(-45)" x="-0.1" y="1.35">3</text><use href="#s" x="1497.5" y="568.3"/><text class="n" transform="translate(1497.5 568.3) rotate(-45)" x="-0.1" y="1.35">4</text><use href="#s" x="1522.5" y="568.3"/><text class="n" transform="translate(1522.5 568.3) rotate(-45)" x="-0.1" y="1.35">5</text><use href="#s" x="1547.5" y="568.3"/><text class="n" transform="translate(1547.5 568.3) rotate(-45)" x="-0.1" y="1.35">6</text><use href="#s" x="1572.5" y="568.3"/><text class="n" transform="translate(1572.5 568.3) rotate(-45)" x="-0.1" y="1.35">7</text><use href="#s" x="1597.5" y="568.3"/><text class="n" transform="translate(1597.5 568.3) rotate(-45)" x="-0.1" y="1.35">8</text><use href="#s" x="1622.5" y="568.3"/><text class="n" transform="translate(1622.5 568.3) rotate(-45)" x="-0.1" y="1.35">9</text><use href="#s" x="1647.5" y="568.3"/><text class="n" transform="translate(1647.5 568.3) rotate(-45)" x="-0.1" y="1.35">10</text>
<use href="#s" x="1422.5" y="543.3"/><text class="n" transform="translate(1422.5 543.3) rotate(-45)" x="-0.1" y="1.35">1</text><use href="#s" x="1447.5" y="543.3"/><text class="n" transform="translate(1447.5 543.3) rotate(-45)" x="-0.1" y="1.35">2</text><use href="#s" x="1472.5" y="543.3"/><text class="n" transform="translate(1472.5 543.3) rotate(-45)" x="-0.1" y="1.35">3</text><use href="#s" x="1497.5" y="543.3"/><text class="n" transform="translate(1497.5 543.3) rotate(-45)" x="-0.1" y="1.35">4</text><use href="#s" x="1522.5" y="543.3"/><text class="n" transform="translate(1522.5 543.3) rotate(-45)" x="-0.1" y="1.35">5</text><use href="#s" x="1547.5" y="543.3"/><text class="n" transform="translate(1547.5 543.3) rotate(-45)" x="-0.1" y="1.35">6</text><use href="#s" x="1572.5" y="543.3"/><text class="n" transform="translate(1572.5 543.3) rotate(-45)" x="-0.1" y="1.35">7</text><use href="#s" x="1597.5" y="543.3"/><text class="n" transform="translate(1597.5 543.3) rotate(-45)" x="-0.1" y="1.35">8</text><use href="#s" x="1622.5" y="543.3"/><text class="n" transform="translate(1622.5 543.3) rotate(-45)" x="-0.1" y="1.35">9</text><use href="#s" x="1647.5" y="543.3"/><text class="n" transform="translate(1647.5 543.3) rotate(-45)" x="-0.1" y="1.35">10</text>
<use href="#s" x="1422.5" y="518.3"/><text class="n" transform="translate(1422.5 518.3) rotate(-45)" x="-0.1" y="1.35">1</text><use href="#s" x="1447.5" y="518.3"/><text class="n" transform="translate(1447.5 518.3) rotate(-45)" x="-0.1" y="1.35">2</text><use href="#s" x="1472.5" y="518.3"/><text class="n" transform="translate(1472.5 518.3) rotate(-45)" x="-0.1" y="1.35">3</text><use href="#s" x="1497.5" y="518.3"/><text class="n" transform="translate(1497.5 518.3) rotate(-45)" x="-0.1" y="1.35">4</text><use href="#s" x="1522.5" y="518.3"/><text class="n" transform="translate(1522.5 518.3) rotate(-45)" x="-0.1" y="1.35">5</text><use href="#s" x="1547.5" y="518.3"/><text class="n" transform="translate(1547.5 518.3) rotate(-45)" x="-0.1" y="1.35">6</text><use href="#s" x="1572.5" y="518.3"/><text class="n" transform="translate(1572.5 518.3) rotate(-45)" x="-0.1" y="1.35">7</text><use href="#s" x="1597.5" y="518.3"/><text class="n" transform="translate(1597.5 518.3) rotate(-45)" x="-0.1" y="1.35">8</text><use href="#s" x="1622.5" y="518.3"/><text class="n" transform="translate(1622.5 518.3) rotate(-45)" x="-0.1" y="1.35">9</text><use href="#s" x="1647.5" y="518.3"/><text class="n" transform="translate(1647.5 518.3) rotate(-45)" x="-0.1" y="1.35">10</text>
<use href="#s" x="1422.5" y="493.3"/><text class="n" transform="translate(1422.5 493.3) rotate(-45)" x="-0.1" y="1.35">1</text><use href="#s" x="1447.5" y="493.3"/><text class="n" transform="translate(1447.5 493.3) rotate(-45)" x="-0.1" y="1.35">2</text><use href="#s" x="1472.5" y="493.3"/><text class="n" transform="translate(1472.5 493.3) rotate(-45)" x="-0.1" y="1.35">3</text><use href="#s" x="1497.5" y="493.3"/><text class="n" transform="translate(1497.5 493.3) rotate(-45)" x="-0.1" y="1.35">4</text><use href="#s" x="1522.5" y="493.3"/><text class="n" transform="translate(1522.5 493.3) rotate(-45)" x="-0.1" y="1.35">5</text><use href="#s" x="1547.5" y="493.3"/><text class="n" transform="translate(1547.5 493.3) rotate(-45)" x="-0.1" y="1.35">6</text><use href="#s" x="1572.5" y="493.3"/><text class="n" transform="translate(1572.5 493.3) rotate(-45)" x="-0.1" y="1.35">7</text><use href="#s" x="1597.5" y="493.3"/><text class="n" transform="translate(1597.5 493.3) rotate(-45)" x="-0.1" y="1.35">8</text><use href="#s" x="1622.5" y="493.3"/><text class="n" transform="translate(1622.5 493.3) rotate(-45)" x="-0.1" y="1.35">9</text><use href="#s" x="1647.5" y="493.3"/><text class="n" transform="translate(1647.5 493.3) rotate(-45)" x="-0.1" y="1.35">10</text>
<use href="#s" x="1422.5" y="468.3"/><text class="n" transform="translate(1422.5 468.3) rotate(-45)" x="-0.1" y="1.35">1</text><use href="#s" x="1447.5" y="468.3"/><text class="n" transform="translate(1447.5 468.3) rotate(-45)" x="-0.1" y="1.35">2</text><use href="#s" x="1472.5" y="468.3"/><text class="n" transform="translate(1472.5 468.3) rotate(-45)" x="-0.1" y="1.35">3</text><use href="#s" x="1497.5" y="468.3"/><text class="n" transform="translate(1497.5 468.3) rotate(-45)" x="-0.1" y="1.35">4</text><use href="#s" x="1522.5" y="468.3"/><text class="n" transform="translate(1522.5 468.3) rotate(-45)" x="-0.1" y="1.35">5</text><use href="#s" x="1547.5" y="468.3"/><text class="n" transform="translate(1547.5 468.3) rotate(-45)" x="-0.1" y="1.35">6</text><use href="#s" x="1572.5" y="468.3"/><text class="n" transform="translate(1572.5 468.3) rotate(-45)" x="-0.1" y="1.35">7</text><use href="#s" x="1597.5" y="468.3"/><text class="n" transform="translate(1597.5 468.3) rotate(-45)" x="-0.1" y="1.35">8</text><use href="#s" x="1622.5" y="468.3"/><text class="n" transform="translate(1622.5 468.3) rotate(-45)" x="-0.1" y="1.35">9</text><use href="#s" x="1647.5" y="468.3"/><text class="n" transform="translate(1647.5 468.3) rotate(-45)" x="-0.1" y="1.35">10</text>
<use href="#s" x="1422.5" y="443.3"/><text class="n" transform="translate(1422.5 443.3) rotate(-45)" x="-0.1" y="1.35">1</text><use href="#s" x="1447.5" y="443.3"/><text class="n" transform="translate(1447.5 443.3) rotate(-45)" x="-0.1" y="1.35">2</text><use href="#s" x="1472.5" y="443.3"/><text class="n" transform="translate(1472.5 443.3) rotate(-45)" x="-0.1" y="1.35">3</text><use href="#s" x="1497.5" y="443.3"/><text class="n" transform="translate(1497.5 443.3) rotate(-45)" x="-0.1" y="1.35">4</text><use href="#s" x="1522.5" y="443.3"/><text class="n" transform="translate(1522.5 443.3) rotate(-45)" x="-0.1" y="1.35">5</text><use href="#s" x="1547.5" y="443.3"/><text class="n" transform="translate(1547.5 443.3) rotate(-45)" x="-0.1" y="1.35">6</text><use href="#s" x="1572.5" y="443.3"/><text class="n" transform="translate(1572.5 443.3) rotate(-45)" x="-0.1" y="1.35">7</text><use href="#s" x="1597.5" y="443.3"/><text class="n" transform="translate(1597.5 443.3) rotate(-45)" x="-0.1" y="1.35">8</text><use href="#s" x="1622.5" y="443.3"/><text class="n" transform="translate(1622.5 443.3) rotate(-45)" x="-0.1" y="1.35">9</text><use href="#s" x="1647.5" y="443.3"/><text class="n" transform="translate(1647.5 443.3) rotate(-45)" x="-0.1" y="1.35">10</text>
<use href="#s" x="1422.5" y="418.3"/><text class="n" transform="translate(1422.5 418.3) rotate(-45)" x="-0.1" y="1.35">1</text><use href="#s" x="1447.5" y="418.3"/><text class="n" transform="translate(1447.5 418.3) rotate(-45)" x="-0.1" y="1.35">2</text><use href="#s" x="1472.5" y="418.3"/><text class="n" transform="translate(1472.5 418.3) rotate(-45)" x="-0.1" y="1.35">3</text><use href="#s" x="1497.5" y="418.3"/><text class="n" transform="translate(1497.5 418.3) rotate(-45)" x="-0.1" y="1.35">4</text><use href="#s" x="1522.5" y="418.3"/><text class="n" transform="translate(1522.5 418.3) rotate(-45)" x="-0.1" y="1.35">5</text><use href="#s" x="1547.5" y="418.3"/><text class="n" transform="translate(1547.5 418.3) rotate(-45)" x="-0.1" y="1.35">6</text><use href="#s" x="1572.5" y="418.3"/><text class="n" transform="translate(1572.5 418.3) rotate(-45)" x="-0.1" y="1.35">7</text><use href="#s" x="1597.5" y="418.3"/><text class="n" transform="translate(1597.5 418.3) rotate(-45)" x="-0.1" y="1.35">8</text><use href="#s" x="1622.5" y="418.3"/><text class="n" transform="translate(1622.5 418.3) rotate(-45)" x="-0.1" y="1.35">9</text><use href="#s" x="1647.5" y="418.3"/><text class="n" transform="translate(1647.5 418.3) rotate(-45)" x="-0.1" y="1.35">10</text>
<use href="#s" x="1422.5" y="393.3"/><text class="n" transform="translate(1422.5 393.3) rotate(-45)" x="-0.1" y="1.35">1</text><use href="#s" x="1447.5" y="393.3"/><text class="n" transform="translate(1447.5 393.3) rotate(-45)" x="-0.1" y="1.35">2</text><use href="#s" x="1472.5" y="393.3"/><text class="n" transform="translate(1472.5 393.3) rotate(-45)" x="-0.1" y="1.35">3</text><use href="#s" x="1497.5" y="393.3"/><text class="n" transform="translate(1497.5 393.3) rotate(-45)" x="-0.1" y="1.35">4</text><use href="#s" x="1522.5" y="393.3"/><text class="n" transform="translate(1522.5 393.3) rotate(-45)" x="-0.1" y="1.35">5</text><use href="#s" x="1547.5" y="393.3"/><text class="n" transform="translate(1547.5 393.3) rotate(-45)" x="-0.1" y="1.35">6</text><use href="#s" x="1572.5" y="393.3"/><text class="n" transform="translate(1572.5 393.3) rotate(-45)" x="-0.1" y="1.35">7</text><use href="#s" x="1597.5" y="393.3"/><text class="n" transform="translate(1597.5 393.3) rotate(-45)" x="-0.1" y="1.35">8</text><use href="#s" x="1622.5" y="393.3"/><text class="n" transform="translate(1622.5 393.3) rotate(-45)" x="-0.1" y="1.35">9</text><use href="#s" x="1647.5" y="393.3"/><text class="n" transform="translate(1647.5 393.3) rotate(-45)" x="-0.1" y="1.35">10</text>
<g transform="scale(0.93 1)"><text class="rl" x="484.09" y="265">1</text><text class="rl" x="1453.76" y="265">1</text><text class="rl" x="484.09" y="310">2</text><text class="rl" x="1453.76" y="310">2</text><text class="rl" x="484.09" y="355">3</text><text class="rl" x="1453.76" y="355">3</text><text class="rl" x="484.09" y="400">4</text><text class="rl" x="1453.76" y="400">4</text><text class="rl" x="484.09" y="445">5</text><text class="rl" x="1453.76" y="445">5</text><text class="rl" x="484.09" y="490">6</text><text class="rl" x="1453.76" y="490">6</text><text class="rl" x="484.09" y="535">7</text><text class="rl" x="1453.76" y="535">7</text><text class="rl" x="484.09" y="580">8</text><text class="rl" x="1453.76" y="580">8</text><text class="rl" x="484.09" y="625">9</text><text class="rl" x="1453.76" y="625">9</text><text class="rl" x="484.09" y="670">10</text><text class="rl" x="1462.58" y="670">10</text><text class="rl" x="484.09" y="715">11</text><text class="rl" x="1462.58" y="715">11</text><text class="rl" x="484.09" y="760">12</text><text class="rl" x="1462.58" y="760">12</text><text class="rl" x="484.09" y="805">13</text><text class="rl" x="1462.58" y="805">13</text><text class="rl" x="484.09" y="850">14</text><text class="rl" x="1462.58" y="850">14</text><text class="rl" x="484.09" y="925">15</text><text class="rl" x="1462.58" y="925">15</text><text class="rl" x="484.09" y="970">16</text><text class="rl" x="1462.58" y="970">16</text><text class="rl" x="484.09" y="1015">17</text><text class="rl" x="1462.58" y="1015">17</text><text class="rl" x="484.09" y="1060">18</text><text class="rl" x="1462.58" y="1060">18</text><text class="rl" x="484.09" y="1105">19</text><text class="rl" x="1462.58" y="1105">19</text><text class="rl" x="484.09" y="1150">20</text><text class="rl" x="1462.58" y="1150">20</text><text class="rl" x="484.09" y="1195">21</text><text class="rl" x="1462.58" y="1195">21</text><text class="rl" x="484.09" y="1240">22</text><text class="rl" x="1462.58" y="1240">22</text><text class="rl" x="484.09" y="1285">23</text><text class="rl" x="1462.58" y="1285">23</text><text class="rl" x="484.09" y="1330">24</text><text class="rl" x="1462.58" y="1330">24</text><text class="rl" x="484.09" y="1375">25</text><text class="rl" x="1462.58" y="1375">25</text><text class="rl" x="484.09" y="1420">26</text><text class="rl" x="1462.58" y="1420">26</text><text class="rl" x="484.09" y="1465">27</text><text class="rl" x="1462.58" y="1465">27</text><text class="rl" x="484.09" y="1510">28</text><text class="rl" x="1462.58" y="1510">28</text><text class="rl" x="484.09" y="1555">29</text><text class="rl" x="1462.58" y="1555">29</text><text class="rl" x="484.09" y="1600">30</text><text class="rl" x="1462.58" y="1600">30</text><text class="rl" x="484.09" y="1645">31</text><text class="rl" x="1462.58" y="1645">31</text><text class="rl" x="484.09" y="1690">32</text><text class="rl" x="1462.58" y="1690">32</text><text class="rl" x="484.09" y="1735">33</text><text class="rl" x="1462.58" y="1735">33</text><text class="rl" x="484.09" y="1780">34</text><text class="rl" x="1462.58" y="1780">34</text></g>
<text class="rc" x="1671.5" y="392">1</text>
<text class="rc" x="1671.5" y="417">2</text>
<text class="rc" x="1671.5" y="442">3</text>
<text class="rc" x="1671.5" y="467">4</text>
<text class="rc" x="1671.5" y="492">5</text>
<text class="rc" x="1671.5" y="517">6</text>
<text class="rc" x="1671.5" y="542">7</text>
<text class="rc" x="1671.5" y="567">8</text>
<text class="rc" x="1671.5" y="592">9</text>
<text class="rc" x="1671.5" y="617">10</text>
<text class="rc" x="1671.5" y="642">11</text>
<text class="rc" x="1671.5" y="667">12</text>
<text class="rc" x="1671.5" y="722">13</text>
<text class="rc" x="1671.5" y="747">14</text>
<text class="rc" x="1671.5" y="772">15</text>
<text class="rc" x="1671.5" y="797">16</text>
<text class="rc" x="1671.5" y="822">17</text>
<text class="rc" x="1671.5" y="847">18</text>
<text class="rc" x="1671.5" y="925.25">19</text>
<text class="rc" x="1671.5" y="950.25">20</text>
<text class="rc" x="1671.5" y="975.25">21</text>
<text class="rc" x="1671.5" y="1000.25">22</text>
<text class="rc" x="1671.5" y="1025.25">23</text>
<text class="rc" x="1671.5" y="1050.25">24</text>
<text class="rc" x="1671.5" y="1075.25">25</text>
<text class="rc" x="1671.5" y="1100.25">26</text>
<text class="rc" x="1671.5" y="1125.25">27</text>
<text class="rc" x="1671.5" y="1150.25">28</text>
<text class="rc" x="1671.5" y="1175.25">29</text>
<text class="rc" x="1671.5" y="1200.25">30</text>
<text class="rc" x="1671.5" y="1255.25">31</text>
<text class="rc" x="1671.5" y="1280.25">32</text>
<text class="rc" x="1671.5" y="1305.25">33</text>
<text class="rc" x="1671.5" y="1330.25">34</text>
<text class="rc" x="1671.5" y="1355.25">35</text>
<text class="rc" x="1671.5" y="1380.25">36</text>
<text class="big" transform="translate(868.4 93.94) scale(0.9952 1.0238)">SVIÐ</text>
<text class="on" transform="translate(250.3 116.24) scale(1.0990 1.1126)">Ónúmeruð sæti</text>
<text class="big" transform="translate(772.6 229.59) scale(1.0094 1.0198)">A</text>
<text class="big" transform="translate(1220 230.1) scale(1.0000 1.0198)">A</text>
<text class="big" transform="translate(237.44 318.48) scale(0.8889 1.0217)">E</text>
<text class="bar" transform="translate(1490.42 312.46) scale(0.9913 1.0301)">BAR</text>
<text class="on" transform="translate(250.5 506.84) scale(1.1023 1.1126)">Ónúmeruð sæti</text>
<text class="big" transform="translate(1714.19 550.01) scale(0.9062 1.0587)">C</text>
<text class="big" transform="translate(209.08 692.13) scale(0.8752 1.0037)">E</text>
<text class="big" transform="translate(1713.19 791.8) scale(0.9062 1.0411)">C</text>
<text class="big" transform="translate(772 899.28) scale(1.0000 1.0431)">B</text>
<text class="big" transform="translate(1222 899.3) scale(1.0000 1.0431)">B</text>
<text class="on" transform="translate(250.5 906.24) scale(1.1023 1.1126)">Ónúmeruð sæti</text>
<text class="big" transform="translate(210.5 1078.48) scale(0.8750 1.0217)">F</text>
<text class="big" transform="translate(1713.19 1072.8) scale(0.9062 1.0411)">C</text>
<text class="on" transform="translate(250.5 1250.28) scale(1.1023 1.1126)">Ónúmeruð sæti</text>
<text class="big" transform="translate(1713.19 1330.01) scale(0.9062 1.0587)">C</text>
<text class="big" transform="translate(224.19 1439.48) scale(0.8472 1.0217)">F</text>
<text class="on" transform="translate(1408.29 1431.84) scale(1.1069 1.1126)">Ónúmeruð sæti</text>
<text class="big" transform="translate(1514.72 1562.13) scale(1.0690 1.0037)">D</text>
<text class="on" transform="translate(1411.3 1688.28) scale(1.1041 1.1126)">Ónúmeruð sæti</text>
<text class="bar" transform="translate(268.44 1726.98) scale(0.9860 1.0301)">BAR</text>
<text class="big" transform="translate(1516.77 1770.48) scale(1.0583 1.0217)">D</text>
<text class="bar" transform="translate(968.54 1901.4) scale(0.9547 1.0889)">FOH</text>
</svg></body></html>
